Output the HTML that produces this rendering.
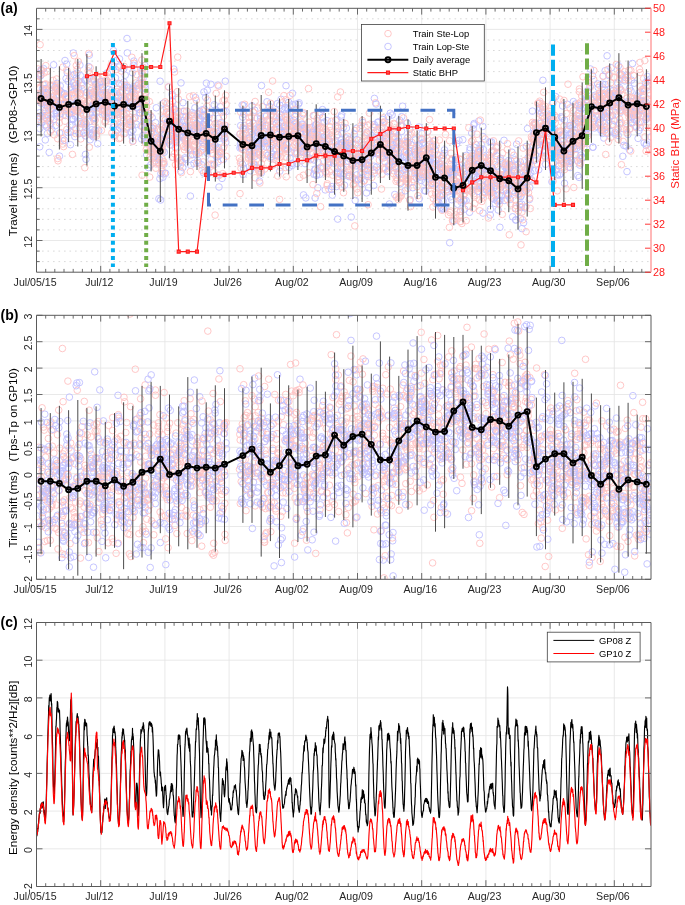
<!DOCTYPE html>
<html><head><meta charset="utf-8"><style>html,body{margin:0;padding:0;background:#fff;}svg{display:block;will-change:transform;}.r{marker:url(#mr);fill:none;stroke:none}.b{marker:url(#mb);fill:none;stroke:none}</style></head><body>
<svg width="685" height="905" viewBox="0 0 685 905" font-family="Liberation Sans, sans-serif">
<rect x="0" y="0" width="685" height="905" fill="#fff"/>
<defs>
<clipPath id="ca"><rect x="36.5" y="8.3" width="614.5" height="263.9"/></clipPath>
<clipPath id="cb"><rect x="36.5" y="315.3" width="614.5" height="263.99999999999994"/></clipPath>
<clipPath id="cc"><rect x="36.5" y="622.5" width="614.5" height="264.0"/></clipPath>
<marker id="mr" markerWidth="10" markerHeight="10" refX="5" refY="5" markerUnits="userSpaceOnUse" overflow="visible"><circle cx="5" cy="5" r="3.3" fill="none" stroke="#ffc4c4" stroke-width="0.95"/></marker>
<marker id="mb" markerWidth="10" markerHeight="10" refX="5" refY="5" markerUnits="userSpaceOnUse" overflow="visible"><circle cx="5" cy="5" r="3.3" fill="none" stroke="#c2c2ff" stroke-width="0.95"/></marker>
</defs>
<path d="M100.7 8.3V272.2M164.9 8.3V272.2M229.1 8.3V272.2M293.3 8.3V272.2M357.5 8.3V272.2M421.7 8.3V272.2M485.9 8.3V272.2M550.1 8.3V272.2M614.3 8.3V272.2M36.5 240.5H651M36.5 187.7H651M36.5 134.9H651M36.5 82.2H651M36.5 29.4H651" stroke="#e3e3e3" stroke-width="0.8" fill="none"/>
<path d="M36.5 261.6H651M36.5 251.1H651M36.5 229.9H651M36.5 219.4H651M36.5 208.8H651M36.5 198.3H651M36.5 177.2H651M36.5 166.6H651M36.5 156.1H651M36.5 145.5H651M36.5 124.4H651M36.5 113.8H651M36.5 103.3H651M36.5 92.7H651M36.5 71.6H651M36.5 61.1H651M36.5 50.5H651M36.5 40H651M36.5 18.8H651" stroke="#cfcfcf" stroke-width="0.8" stroke-dasharray="1.6 3.9" fill="none"/>
<g clip-path="url(#ca)">
<path class="b" d="M45.3 104.8m-1.1-8.4m-1.6-7.7m-0.8 33.7m-1.4-49m4.8 44m-4.6-20.3m0.2 5.8m-0.8 13.2m-1.3-42.2m0.8 38.9m3.2 2.6m2-7.9m-1.2-38.9m-3.8 78.2m3.7-54.4m-2.7-16.7m0.4 17.7m-1.4 35.1m2-58.4m1.4 14.6m-0.2 14.6m1.9-5.4m0.5 46m-4.2-70.1m-1.7 24.8"/>
<path class="r" d="M37.7 116.6m3.3-45.8m1.5 29.3m1.7-9.8m-0.7 28.7m-4.9-21m6.2 4.8m0.3-3.3m-6.6-5.9m2 6.3m-1.9-0.6m0.6 20m5-46.4m1.4 16.5m-8-7.1m7.5 42.5m-1-34.1m0.5-6.3m-3.5 9m2.7 2.3m-5.7-26.7m1.8 19.6m1.3 13.3m-0.2-27.3m-4.1 7.1m3.2-37"/>
<path class="b" d="M50.4 124.1m2.8-31m0.8 20.8m-2.3 15.5m-3.9-22m5.7-10.2m-5.9 17.7m-1.6-26.5m1.2 9.6m-1.3-3.4m0 5.3m1.5 33.5m1.8 19m-3.2-37m5.3-13.4m-5.3-9.6m6.7 8.1m0.9-35.7m-3.6 41.1m-3.4 20.9m7.1-7.2m-3.3-1.1m4.1-16.5m-8.7 23.1m1.2-19.5m-0.4-2.8"/>
<path class="r" d="M50.3 131.4m3.3-31.7m-3.2 24m-2.3-28.8m6.3 40m-0.6-30.6m-0.7-23.9m-6.9 18.1m4.7 10.2m-2 12.6m1.7-36m-4.7-1.3m1.4-12.6m5.7 13.8m-5 30.6m-2.2-50.2m6.8 37.3m-3.8 7.2m-1.7-19.2m5.1 10m-3.6-2.9m0.9 4.5m-2.8 15.7m4.5-28m-5.3 20.7m1.2-8.4"/>
<path class="b" d="M59.5 156.1m-2.5-53.9m0.1-18.9m4.3 8.7m-2.7 13.7m-0.1 1.6m2.9 0.8m-4.5 8.3m2.6-26m-2.8 20.5m6.9-6.5m-3.5-18.5m-1.5 8.9m3.5 10.6m-2.6 27.6m4.3-39m-8.9 8.9m7.6-4.2m-7.6-11.7m1.8 26.3m-1.3-10.8m0 23.1m1.1-36.8m5.2 9.8m-5.8 14.1m4.7 0.8"/>
<path class="r" d="M61.1 93.7m1.1 9.7m-5.3-8.4m0.9-4.1m-2.4 0m2.3 67.6m0-19.8m-0.5-51.5m5.7 56.8m-2.8-27.2m2.7 21.9m-4.5-36.4m-1.6-5.2m-0.9-9.4m1.8 1.5m5.5 18.1m-6.4-28.3m1.3 81.8m3-28.1m1.9-65.6m-3.6 55.9m-3.7-17.6m7.6 9.8m-0.6 25.7m-4.6-44m5.6 49.7"/>
<path class="b" d="M70.4 132m0.3-23.1m-3.4-36.1m1.5 41m4 5.6m-6.1-55.2m1.8 39.6m3.9 20.9m-0.9-5.4m-6.1-3.8m-0.8 24.7m5.4-14.9m-3.3-16.9m1.3 24.2m-3-72.1m-0.1 33.2m5.7 9.1m-0.1 41.9m2.6-35.2m-5-28.3m1.4 32.3m-1.1-16.5m2.1 34.9m2.3-39.2m-1.9-5.5m-4.8-8.7"/>
<path class="r" d="M65.3 97m-0.6 5.7m6.5 10.1m0-23.5m-2 16.8m3 6.2m0.3-22.8m-0.9 21.5m-1.4 1.5m-5.8-1.8m8.7-14.8m-6.9 13.8m-1.2 11.5m7.4-26.7m-6.1 2.2m-1.9 10.9m8.6-10.6m-6.1 32.4m5.5 25m-6.4-58.5m7-20m-6.6 21.7m0.4 7.8m6.2 7m-3-35.4m-3.2-6.8"/>
<path class="b" d="M76.9 73.1m-3.6-20.1m6.4 74.7m-6.4-44.9m6.6-17.7m-5.8 9.5m6.1 40.8m-5.3 21.2m-0.4-50.7m3.9 1.8m-3.3 28.4m2.5-15.1m1.6 3.1m-2.9-26m1.5 33.5m-3-7m5.6-29m0.7 47.9m-6.4-37.9m-1.4 33.6m8.8-34.1m-4.9 37.8m-1.2-34.6m5.6-5.5m-0.9 10.1m-1.5 40.7"/>
<path class="r" d="M76.1 129.1m0.2-63.6m2.2 15.7m-3.1 12.7m2.8 16.9m-2.3-4.2m1.8 4.4m2.8-17.2m1.4 29.2m-1.2 15.9m-6.5-83.2m7.2 43.8m0.1 24.4m-0.9-16.1m0.3-4.7m-3.7-33.6m2.5 25.5m2.3-6.1m-3.8-27.5m-1.4 30.6m-1.2 41.6m2.8-25.7m-2 2.2m4.4 2.8m-3.9-29.3m1.1 8.9"/>
<path class="b" d="M90.1 139.8m-2.9-8.5m2.5-38.2m-3.1-0.7m-1.7 29.4m0.9-16m-0.5 30m1.1-11.9m4.2 9.4m0.3-38.1m-7.6 14.5m2.5 17.4m3.9-13.2m-3.7 45.4m-0.5-4.9m3.2-87.8m0.5 42.7m0.1-54.2m-4.3 24.8m1 0.9m5.1 9.7m-7 42.5m-0.6-0.1m7.3-20.2m-1.5-34.5m0.7 43.3"/>
<path class="r" d="M88.3 70.9m-3.8 53.5m2.2-10.2m4 20.7m-5.8-31.1m2.2-1m-3.3 11.4m4.9-60.7m-2.9 42.3m4.4-28m1 26.1m-6.8 7.6m4.9 45.7m-3.8-24.6m-1.6-15m5.9-6.4m-5 66.5m4.7-93.9m-1.1 26.4m2.9-18.5m-1.6 12.6m-6.2 20.7m7.7 18.9m-7.8-0.8m1.2-24.2m1.8-3.3"/>
<path class="b" d="M94.1 96.9m5.9-1.1m-7.2 13.2m1 9.7m0-12.7m1.1 24.2m-2.8-0.5m6.6 0.9m-2.4-17.6m0.8-23.2m3.6-1.5m-6.3 29.6m2.6-33.8m3.6 8.1m-4.9-8.1m-3.2 33.7m0.2 15.2m-0.5-40.1m6.6 18.8m-5.7-6.6m4.6 38.7m-5.7-8.8m1.7-55.8m2.4 27.1m-2.7 30.5m4.4-49.8"/>
<path class="r" d="M97.3 76.2m-3.2 5m-0.1 10.2m4.8 5.1m1.7-12.3m-1.9 13.4m-3.6 4.3m-2.4 12.3m3.9 19.8m-3.7-36.9m4-1.8m-0.4 40.7m-0.8-47.6m3.1 19.7m-2.7-15.5m-4.4-3.8m5.4 40m3.6-47.2m-1.4-2.6m-4.9 42.6m2.9-45.1m-2.1 23.9m0.1 19.6m4.6-34.3m-3.8 17.1m1.3-25.4"/>
<path class="b" d="M102 95.7m-0.3 7.6m-0.5 2.6m7.4 10.1m-1.3-43.1m-5.6 28.7m4.8 4.3m-1.8 8.8m-0.3-5m0.6-28.7m2.7 31.5m-0.6-10.6m-6.1-7.8m5 5.9m0.4 1.8m-5.3-20.3m7.2 30.8m-5.8-24.9m4 7.3m3.2 5.3m-4.7 0.6m2.1 10.9m1.9-22.2m-1.7 7.6m-0.6 20.6m2.4 0.5"/>
<path class="r" d="M106.5 82.4m2-4.2m-0.3 14.4m-1 2.5m-1.5 21.4m-0.7 5.6m0.4-19.7m1.3-21.6m-1.3 40m1.6-24.8m-4.4 14.2m-1.2 20.3m4.1-37.8m-3.3 22.1m5-7.9m-4.4-13.6m-0.5 16.3m0.4-32.5m4.5 27.5m-0.8-4.5m-1.7 4.3m1.7-24.4m3.2-7.6m-3.3 40.2m-0.8-5.4m-1.5 1"/>
<path class="b" d="M112.9 81.9m5.4 15.4m-1.3-8.1m-3-22.2m0.2 34.6m-2.6 13.6m3.5-17.9m2.7 17.1m-2.3-36.5m-2.8-11.8m4.8 35.1m-5.8 4m1.1-4.4m1.1 35.3m3.6-6m-6.2-25m2 22.6m2.5-14.3m1.4-0.6m1.5-16.6m-7-5.9m4.6-29.8m-4.3 43.3m-0.9 5.3m2.4-58.4m0.7 73.5"/>
<path class="r" d="M112.1 95.7m-1.3-24.3m3.6 41.8m1-3m-3.5 22.7m6.8-23.4m-5.7-2m-2.3-13.7m3.7-1.2m3 18.6m-2.2-1.1m0.1 25m3.7 3.5m-6.2-25.9m2.4 8.3m1.6-29.3m1.5 22.4m-7.9-10.9m0.7-38m-0.9 45.6m7.4 7.8m-6.9-12.3m5-5.3m0.3-31.4m-0.3 62.6m-5.3-35.3"/>
<path class="b" d="M121 107.3m-1.1 20.7m5.3 5.1m-1.4-19.2m-0.1-45.1m1.8 30.7m-4.4 26.6m-0.8-19.3m3.7-24.8m-4 1.7m-0.2 9m2.1-8.3m1.5 36.7m4.1-23.3m-7.5 9.5m4.9-22.1m2.4-32.3m-5.1 47.4m-3.1-33.2m7.9-28.6m-3 48.5m2.3 3.5m-6.8-31.6m5.7 16.3m2.1 43.2m0-10.6"/>
<path class="r" d="M124.5 87.7m-0.7 38m-1.5-33.8m0.6 18.5m2.7-7.9m-4.2-31.5m-1 67m-0.9-54.4m7 1.8m-7.1 21.5m3.7 10.5m4 9.4m-3.2 7m-4.5-11m6.4-23m0.6 13.7m-4.6-23.6m0.3 20.4m4.1 18.8m-1.2-32.5m3.1 0.5m-4.1-30.8m2.7 34.7m-2.9 13.8m-1.6-16.8m2.8 3"/>
<path class="b" d="M136.6 124.3m-6.2-2.5m-2.1-34m5.9 30.1m-1.2-29.4m-3.6 14.2m3-30m0.6 68.3m-0.8-4m-2.5-41m-0.3 7.6m7.8 4.2m-3.8-1.7m-1.3 19.6m-1.9-19.5m3.7-45.1m-2.9 71.1m2.4-66.9m-2.9 36.7m2-12.2m0.8-3.1m1.8 14.3m-2.2 29.2m4.1-44.4m-3.3 6.1m3.4-2"/>
<path class="r" d="M131 96.5m1.8 22.6m-3.2 0.7m-0.8-22.3m3.8 43.9m3.1-58.4m1 25m-3.2-11.1m1.9-0.6m1.5-21.6m-5-17.4m-2.1 59.9m4.7-48.3m-2.5 22.4m-3.3 33.2m0.5-5.2m4.8-20.6m2 5.1m-6.2 4.6m6.2-6.3m-5.2 23m5.6-36.3m-2-25.4m0.5 29.9m2.5 10.6m-2.1 13.9"/>
<path class="b" d="M143 104.2m1.7-32.5m-6 12m3.3-13.4m2.8-4.9m-3.7 60.6m3.5 3.9m-3.5-51.3m0.5 60.4m1.3-3.5m-3.9-26.1m3.9-26m2.9 9.7m-8.1 10.5m6.2 17.9m1.7-8.7m-0.2-24.3m-2.4-10m-2.8 34.5m1.5-40m0.3 10.4m4.4 18.3m-6.8 11m3.2-45.5m2.5 17.2m-4.2 0.4"/>
<path class="r" d="M141.9 60m0.8 66.4m2.5-33.9m-1.5 15.8m-5.2-23.1m7.8 64.4m-3.7-75.6m2.3 22.8m-3.8-11.2m0.9-1.2m0.4 28.3m4.1-5.7m-3.9-22.6m3 38.2m0 20.7m-4-64.5m-0.8 20m0.8-26m-1 22.5m-0.8 6.2m3-19.2m-0.7 92.9m1.6-107.4m0.3 50.5m2.3-11.9m0-7.1"/>
<path class="b" d="M149.9 142.3m5.1 11.2m-2.8-10m0.8-15.2m-5.7 5.6m2.9-5.7m-3.5 12.6m4.2-9.8m4.4 26.5m-4.6 7.3m-3.6-21.7m6.9 14.8m-0.1-16.5m-5.4-3.1m-0.8-21.5m-0.8 4.3m6.8 28m-1.3 1.8m0.1-3.9m-5.7-24.3m0.7 12.7m8-12.8m-3.3-5m-3.8 49.9m-1.7-12.7m7.8-9.4"/>
<path class="r" d="M146.8 130.3m3.4 26.2m4 5.8m-2.6-9.9m-1.9 24.7m1.9-49.8m1.1 23.7m-1.7-2.5m3.4 0m-4.3-33.2m-0.8-13.8m5.1 39.3m-4.3 6.2m0.3-13.9m5.3 5.3m-4.1 20.1m1.9-32.3m2.1 34.7m-0.5-4.4m-4.5-19.5m3.7 7.4m-4 6.9m-1.9-37.7m3 19.5m-3.5-11.4m1.1 20.8"/>
<path class="b" d="M157 144.7m3.1-63.5m-3.8 26.6m7-4.6m-4.3 55.7m1.9-20.2m-0.3 61.3m2.3-22.8m-4.1-13.2m0.7-4.3m3.9-40.7m-4.5 79.8m5.6-57.9m-5.3 4.1m3.6 5.9m1.2 13.2m-0.6-20.2m-2-9.2m-0.7 4.9m-0.8 39m-3.2-26.7m4.2 21.6m-2.8-43.6m-1.1 12.7m7.3 9.6m-7.6-15.1"/>
<path class="r" d="M159.1 129.1m-1.7 24.8m4.7-13.4m0 6.5m1.1 16.3m-4.4-25.9m-1.8 11.9m5.2 9.8m-0.2-7.8m1.8 10.3m-8 6.6m0.7-16.3m5.5 19.4m-1.5-23.3m-1.7 14.6m3.2 0.7m-5.6-15.6m1.8-8.3m-2.2 24.5m5.6 4.8m0.4-24.1m2.4 28.4m-1.3-55.3m0.6-7.3m-1.7 16.7m-1.4 3"/>
<path class="b" d="M168.8 142m3.8-18.5m-7.7 10.9m1.4-26.3m1 16.1m5.1 12m-3.7-49.4m5.2 40.1m-1.6-11.2m-2.1 29.2m-4.6 28.4m3.5-49.3m3.5-22.6m-6.3 24.9m6.1-9m1.4-48.2m-4.2 60.8m2.8-14.4m-2.8 3.6m2.5-24.8m-2 45.9m3.9-31.2m-1.8 48.2m0.3-61.3m-5.3 26.5m3.4 13.6"/>
<path class="r" d="M173.1 106.9m-3.5-2.8m-2.7-0.8m0.5 31.1m1.8-19.8m1.7 12.3m-1 11.1m-4.7-36.2m6 43.2m1.8 12.3m-0.4-24.8m-6.2-20.5m2 2.3m-1 14.1m4.8-7.8m1.1 0.9m-4.9-34.5m3.6 20.7m-3.2 32.3m-3.4-20.2m-0.2 8.3m0.7-1.5m3.7-14.4m3.6 22.5m-0.9-6.3m-5.2-16.3"/>
<path class="b" d="M182.4 162.4m-5.4-22.8m5.9-22.9m-8.4-7.2m8.5-6.8m-8.5 34.9m3.4-5.8m-2.6 15.4m1.5-25.8m1.1-3.1m5 8.2m0.1 1.6m-2-45.2m-1.3 53.6m-4.7 4.6m6.8-10.7m0.4 4.1m-8-6.4m8.4 9.3m-2.4-13.6m-2.4 8.6m2.8 38.7m-6.2-46.3m1.7 17.9m4.2 17.8m2.5 7"/>
<path class="r" d="M177.4 147.6m-0.4 10.2m0.3-66.1m-2.7-19.7m2.9 46.4m3 46.6m-1.7-7.2m-3.1-19.6m2.8-26.6m-4.2 42.1m3.3-18.7m-2.6-18.2m8-5.6m-4.6-12m2.8 28.3m-2.2-11.5m3.6 19.9m-7.5-18m-0.3 23.5m6.6 19.1m-5.9 4.3m-1.3-44.1m5.7 4.8m-2.2-68.4m3.7 115.5m-4.2-49.1"/>
<path class="b" d="M189.2 128.4m-4.1 29.4m5.4-24.2m-5.5 6.9m0.8 18.7m3.4-10.6m1.2 47.5m-4.3-79.3m1.5 4.1m4.5-5.9m0.3-2.3m-4.2 31m-2.8-17.4m3.4 0.9m-4.2 11.3m2.6 9.2m-0.9-18.1m1.3 11.7m-4.3-4.7m2.6-6.5m5.9 4.2m-8.3-13.8m0.8-9.2m7.6 13.9m-1.8 24.9m0.7 15.2"/>
<path class="r" d="M190.4 171.6m-1.8-54.6m-1.4 26.5m2.5-46.8m-0.5 24.7m-4.9 8m2.5-18.3m5.4 14m-8.8 21.4m3.7-17.4m5.2 0.9m-4.9-10.7m-0.3 21.8m-2 6.1m1.4-2m3.9 5.5m-0.4-21.9m-3.5 11.9m1-2.5m-2.5 1.5m3.2-1m0.3 10.8m-1.7-8.9m3.7 14.5m-0.4-39.9m-5.7 34.5"/>
<path class="b" d="M199 114.1m0.5 18.9m0-6.6m-0.8 36.3m-6.2-8.1m4.2-3.8m1.1 9.7m-2.3-62.9m5.1 32.6m-6.6 33.2m2.3-9.1m-1.4-46.5m5.5 10.9m-0.1 33.5m-3.4-24.9m-0.3-4.1m2.5-1.3m0.7-10.4m-1.5 28m-1-8.2m-3.8-2.8m8 36.3m-1-24.2m-0.1-14.4m-5.4 4m4.1-11.1"/>
<path class="r" d="M193.1 136.1m5.4 16.7m-2.8-10.8m-0.1-16.8m-2.4 15.4m1.9-15.5m2.8-11.2m-4.9 2.4m2.3 35.5m-1.9-55.9m4.8 40.1m-4.7 10.8m5.4-3.8m-5.3-22.9m1.2 23.9m4.6-8.1m-2.6-10.5m1.8 1.3m-1.6 36.6m-0.7-63.1m-3 39.3m3.3-11.7m-2.2 16.9m6.3-29m-2.1 37.6m2.6-12.7"/>
<path class="b" d="M202.8 131.1m6.4-0.8m-5.3 6.4m0.9-14.1m0.8-25.2m-1.4 17.7m-0.7 16.6m0.1 41.1m2.8-89.7m-4.5 55.4m4.5-18m-3.9-4.9m6.7 26.6m-6.3 4.2m-0.2-3.9m4.5 10.5m0.1-62.6m0.1 79.7m-3.5-78.1m-1.8 17.9m1.4 14.8m5.2 3.6m-1.6-0.5m-2.6-18.6m-0.7 23.5m4.4 41"/>
<path class="r" d="M203.3 111m1.6 23m5.7 3.5m-4.8-9.4m-2.6 33.8m-1.2 8.4m8.7-23.3m-1.8-29.1m-1.4-17.8m2.7 64.1m-0.3-49.9m-5.4 24.3m2.5 7m1.8-23.2m-3.4 49.5m-2.8-36.6m-0.9 15m4.9-25.6m0.3-18.4m-1.2 32m3.3 10m-5.4-12.5m-0.7 13.4m6.2-1.8m0.3-15.8m-2 0.5"/>
<path class="b" d="M215 145.3m3.5-26.8m-1 38.1m-1.1-29.1m-3.1 13.6m-2.4-56.8m5.8 64.6m2.3 38.1m0.2-55.8m-5.7 15.9m4.8-11m-0.4 25.8m-1.9-52m-1.3 25.2m-0.3 29.4m0-27m2.6 19.5m1.5-9.4m0.7-9.3m-3.6-3.9m3.3 21.3m-0.5 19.3m-7.4-15.3m6.9-74.6m-4.9 33.1m1.2-13.4"/>
<path class="r" d="M213.2 164.8m3.2-32m-4.1 20.8m1.1-22m-0.2 10.8m4.3 11.7m1.3 21.6m-5.1-43.4m4.9 19.9m-1 2.3m-3.9-16.3m2.5-44.8m2.6-7.2m-7 78m4.3-13.9m-4.8-0.7m2.5 22.2m5.5-47.4m0.5 27.7m-9-11m0.7-0.8m1.2-7.4m2.6-9.2m-2.7 29.8m4.4-30.2m-1.9 91.8"/>
<path class="b" d="M222.4 132.9m-0.8-3.8m3.6 1.6m0.1-49.5m-4.4 41.5m1.6 12.9m3.6-24m-2 27.6m0.7-1.8m-1-25.9m0.7 13.6m-1.1 34.3m-1.2-33m3.5 16m-4.9 9.6m1.2 26.4m-1.4-71.6"/>
<path class="r" d="M220.1 153.7m3.8-7.2m-0.8 1.9m2-9.9m-0.6-38.4m-0.4 33.6m2-29.2m-0.6 21m-2.7-0.1m-0.7 1.5m4.2 29.4m-2.8-40.1m2.3-20.8m-3.1 78.3m0.3-72.9m-1.2 11.4m-0.8 47.5"/>
<path class="b" d="M240.4 144.2m2.3-27m-1.3 30.6m1.1 16.5m-2.5-16.3m3.7-19.4m-2.9 13.8m3.7 0m0.1-2.5m-1.5 34.5m-0.9-69.4m3.4 24.4m-1.8-15.2m-0.2 54.1m3-21.4m-0.3-1.4m-4.9 1.7m2.4-1.4m-0.2-40.1m1 19.9m0.9 7.8m-5.6 0.9m0.8-8.7"/>
<path class="r" d="M244.6 142.5m-0.8 7.4m-3.8 43.7m2.9-65.7m-0.8 8.2m0.4 13.3m4.4-10.6m-3-4.4m-3.7-0.6m7.2 8.3m-2.7-37.8m-1.9 37.8m0.6-2.1m-0.4-6.5m-2 34.8m-0.2-7.3m2-15.5m3.5-1.4m-5.6-31.9m-0.3 50.7m-0.9-4.6m7.8-12.2m-2.3-1m-1.8-3.7"/>
<path class="b" d="M253.8 150.9m0.1 13.7m-0.7-17.4m-2.4 9.7m-1.4-18.9m-0.3-11.4m3-20.7m0.3 28.2m-2.7 18.8m1.7-21.7m-1.1 39.5m6.3-27.1m-6.1 11.6m1.8-12.2m0.6 23.6m-1.9-16.2m3.3 14.5m0.4-8.4m1.7-14.7m-3.3-18.5m-0.2 22.3m1.8-35.4m-0.5 56.8m1.6-37m-6.4 36.7m5.6-16.4"/>
<path class="r" d="M249.4 148.9m0.8-19.1m-0.8 10.4m0.2-17m1.6 9.3m-2.1-10.2m0-4.9m-0.8 39.9m6.8-55.8m-7.3 39.3m3.7 24m2-9.5m-5-0.3m6.4-7.7m-3.6 15.5m-3.6-17.8m3.9 14.7m1.9-47.4m-2.1 4.4m3.7 61.1m-6.6-65.1m6.3 51.3m1.2-38m-5.2 0m1 28.2m-3.2 4.6"/>
<path class="b" d="M260.1 136.9m-2.1-3.9m1.4 10.1m3.7 0.3m-6.1-5m6.6 3.3m-3.9 26.4m2-24.5m-2.9-14.9m1.5-12.8m1.1 56.8m-1.6-28.5m2.3-7.9m0.2-10.6m-3.4 26.4m2.6-66.5m-0.5 54.2m-0.3-21.1m1.6 4m-2.9 58.4m-2.6-34.6m0.3-28.5m1.4 36.2m1.3-26.9m-1.9 9.1m3.9 9.7"/>
<path class="r" d="M263.1 158.5m-2.3-30.2m1.4-0.3m0.3 26.6m-2 17m4.2-2.6m-7.4-51.1m4.2 50.5m-1.6-35m1.4 30m1.1-56.7m-2.6 66.2m-0.7-1.6m6.4-31.7m-5.9 12m0.3 31.4m-3.2-29.7m1.2-45.2m0.8 60.8m2.6-12.5m0.3-35.3m3-5m-4.7 9.1m-2.6 22.4m1.2 23.2m1.4-15.9"/>
<path class="b" d="M265.9 146.9m0.2-21.3m0.5-9.7m7.3 21.1m-1.1 1m0.1 26.9m1.6-35.6m-5.9 8.8m-0.9 17.4m4.3-9.9m-2.9-8.2m2-22.5m-0.3 28.6m1.1 10.9m-2.3-47.8m0.9 50.3m-1-7.7m-0.9-16.9m-2.2 8.2m3.8-29.8m1.6 46.3m-1.2-29.9m2.7-11.4m-6.3-13.9m2.9 31m0.9 3.5"/>
<path class="r" d="M272 141.4m-5.4-12.8m4.5-1.7m0.8 12.7m-1.7-3.8m-3.9-15.4m0.1 33m6.2-72.4m1.4 30.3m-3.8 18.9m1.6 9.5m-5.8 3.3m7.4 7.8m-4.8-58.6m3 47.4m-1.9 7.6m2.1-16.5m-0.7-15.2m-2.1 3.7m1.6-15.9m-0.7 18.1m4.8 16.3m-2.1 27.5m-2.2-53.9m2.7 13.2m-2.7 33.9"/>
<path class="b" d="M283.8 140.2m-4-35m2.3 21.6m-2.3 44.4m-2.8-16.7m-0.6-31.2m0.9-19.6m2.5 10.5m-0.2 14.4m1.5-29.3m-3.8 56.5m2.3-11.6m2.4-35.4m1.7 37.1m-4.7-6.6m-1.1-18.1m2.1 0.8m4.1 9.1m-2.6-15.3m-5 33.2m4.7-18.2m-5.6 24.8m8.5-26.9m-4.2-11.3m1.5 31.4m2.5-21.8"/>
<path class="r" d="M281.8 139.4m-1.4 27.8m-1.4-19.8m2-12.7m-2.8 10.6m0.8 16.3m4.9-66m-4.4 56.1m-4-13.8m4.1 61.5m-2.2-66.9m0.6 23m-0.2 20.5m1.1-62.4m1.7 30.3m-0.2-2.7m-5.4-19.2m1.1-5.2m4.5 40.1m1.8-54.1m-0.8 47.7m-3.1-24.6m4.3 15.7m-6.1 16.5m6.6-24m-6.7-6.7"/>
<path class="b" d="M292.3 104.8m-1.5 7.2m2.1 24.7m-6.9-51m2.3 24m4.7 16.8m-8.8-17m6.7 22.3m1.5-38.5m-1.6 58.6m1.4-4.9m-6.6-10.9m6.5 27.3m-2.2-43.7m-4.8-12.2m-0.8 18.7m2.9-18m5 57.2m-1.6-27.8m-1.1-14.2m-0.8-21.1m-2.8 46.3m3.2 18.7m-1-17.9m-1.5-4.6m3.5 13.5"/>
<path class="r" d="M289.2 129.8m-4.5 19.4m3.5-18.5m-3.1 26.2m3.3-13.2m-2.8-26.2m5.3 14m-5.4 36m0.7 9.3m-0.1-77.2m-1 48.3m0.4-22.9m-1.2 23.7m3.9-13m-1.2-15m-1.3-4.4m3.4 21.7m-2.1 19.6m3-62.2m-2.9 23.7m0.6 6.1m-1.6 12.3m0.3 11.9m6-12m-5.1-17.5m2.3 6.5"/>
<path class="b" d="M295.1 138m-0.1-21.5m4.5 26.4m-1.2-38.7m-1.4 59.3m0.8-26.3m-3.9-16.8m2.8 6.3m-1.4 4.8m1.9 21.4m0.9-25.8m2.3 6.3m1.8-9.3m0.2 4.3m-7.9 2.6m6-3.2m-1.7-0.4m-3 26.4m6.3-5.7m-1.8-15.9m-4.6-28.1m6.3 27.3m-5.6-8.3m5.9 28.1m-2.9-9.8m-0.2-38.6"/>
<path class="r" d="M301.1 122.2m-5.7-8.3m-0.5 38m6.7 8.8m-0.6-29.3m-7.1-9m2.1 2m4.7 27.6m-2.5-6.6m4.2-7.1m-4.1-12.3m1.4 51.5m-4.9-48.9m0 15.7m-0.3-10.4m1.9 9m-1.8-33.6m0.3 28.2m6.9 20.7m-3.6-31.4m-3.6 5m1.9 21.9m4.9-8.3m-6.2-8.3m-1.5-2.4m1.3 10.3"/>
<path class="b" d="M304 128.3m2.7 23.9m-0.8-20.2m4.1-4.4m-7.2-2.7m0.5-11.1m5.8 29.6m-5.9 0.6m5.8 5.1m-4 14.5m-2-23.3m8.6-7.6m-7.4 17.5m0.8-22.4m6.5 8.3m-8.1 16.1m0.1 42.7m5-37.3m-2.7 40.3m5.3-39m-6.8-16.7m2.5 15.3m3.8-22.9m-6.7 11.2m2.1 3.8m4.2-10.2"/>
<path class="r" d="M303.5 112.7m-0.1 20.3m5.1-44.4m-4.7 44.3m2.5 25.3m1.2-9.9m-4.8 1.9m4-21.5m3.3 1.3m-7.5-14.9m7.9 44.7m-1.9 12.9m-5.6-46.2m5.9-4.4m1.4 20.4m-1.9-11.6m-4.6 17.5m3.1 4.6m4.7-6m-4.7-7.2m1.9 1.5m-0.3-13.1m-1.1 13m1.9-1.4m1.2 8.8m-7 26.6"/>
<path class="b" d="M317.1 131.8m-0.7 43.3m0.2-30.2m-3.6-12.9m4.1 20.4m1.6-13.2m-3.4 29.9m-0.2 28.9m4.7-57m-2.3 9.8m-5.8-16.6m6.1 53.6m-3.7-27.8m3.2-31.3m2.3 45.6m-4.2-34.1m-1.4-24.6m-0.1 58.5m4.4-11.6m0.3-26.8m-3.2-10.6m2.3 21.9m-3 23.1m4.7-32.1m-2.7 37.3m-0.2-51.3"/>
<path class="r" d="M317.6 170m-1.3-14.1m1-19.6m-0.5 3m-2.6 8.2m1.5-11.3m4.9 70.5m-4.1-64.4m-0.7 13.5m-2.5-40.2m4.5 26.5m0.1-16.3m-3.4 5.4m-1.5 53.4m1-47.6m4.9-8.7m1.9 11.9m-1.3-25.3m-2.9 39.4m4-41.6m-8.4 23.8m-0.4 2.9m5 54.1m1.1-71.4m2.3 5.5m-2.9-9.4"/>
<path class="b" d="M328 148.5m-2.7 41.4m4.2-28m-8.2-14.9m2.3-0.6m0.6 5.3m4.1-12.6m1 2.5m-2.1 8.1m1.3 12.3m-5.9-21m3.3 3.2m0.7-9.7m1.6 28.7m1.5-8.8m-6.4-17.2m-0.5 31.1m4.3-47.6m-0.4 11.2m-1 39.5m-1.6-49.3m4 33.6m-5.4-38.4m-1.5 49.6m1.3-57.3m5.1 49.5"/>
<path class="r" d="M322.5 141.8m-0.6 25.4m6.1-14.1m-5.8-2.1m4.9-9.6m-3.8 19.6m5.4 3.7m0.7 7.1m-4.2-22.2m3 9.5m-1.5 14.6m-1.9-18.1m4.4-21.5m-1.1 18.5m0.7 36.6m-6-44.4m2.8 27.5m1.5 13.2m-3.4-56.9m3.6 55.2m-0.2-37.7m-6 1.9m0.9-21m4.7 39.9m-1.1-37.5m-2.6 7.2"/>
<path class="b" d="M332.3 195.1m-0.8-5.9m5.7-42.4m-1.7-20.7m2.2 93m-2-64.3m2.2-20.2m-1.7 38.6m-0.6-11.5m2-34.9m-4 36.2m3.1-43.7m-0.9 38.1m-3.7 29.2m1.9-36m4.5-6.4m-4.8 8.2m4.4 1.6m-0.3 14.4m-1.3 18.1m-1.8-33.4m4.2 23.7m-3.7-34.9m2.9 30.6m0.6-16.4m-7.9-5.7"/>
<path class="r" d="M335.9 145.9m2.3-17.7m-1.3 34.8m1.8-3.7m-3.1 1.2m-3.8-13.4m5.8 33.1m-0.4-9m1.4 8.3m-8.4-52.8m4-15.1m-1.6 46.5m-2.4-27.3m1 25.4m6.5-59.3m-7.4 60.4m5.9-26m-5.4 4.7m-0.1 2.4m2.1 3.4m5 34.8m-6.2-55.3m3.9-0.9m0.3 26m1.8-11.4m-4.8 40.2"/>
<path class="b" d="M340.5 158m1.6-14.7m-0.6 23.7m3 18.2m1.1-42.4m1.3 14m-5.4-41.8m0.6 18.8m1.2 42.2m-1.2-33.4m1.2 26.1m-2.1-51.8m0.7 28.4m2 28.4m-3.7-0.1m3.9-21.9m-1.9 4.5m-0.4-16.9m4-1.4m-5.7 7m2.2 15.2m-0.1-12.6m3.7-1m-0.6-1m1.1-17.4m-3-0.7"/>
<path class="r" d="M346.4 156.8m-5 5.7m-0.7 4.6m6.8 5.1m0-35.9m-8 25.3m2.5 25.4m3-63.7m-5.1 28.8m1.4-26.5m-2 24.4m4.1-6.3m-2.3 8.1m6.4 3.2m-8.1 27.6m6.9-21.1m-3-7m-1.9 8.7m6.1-15.5m-2 6.1m-6.1-3.1m4.1 42m-3.1-100.7m0 69.5m0.6-13.2m0.7 5.3"/>
<path class="b" d="M349.3 175m-0.3-35.5m0.7 12.1m2.9 25.9m-0.4-22.7m0.6 10m2.5 35.7m0.7-34.7m-6.4-18.8m-1.2 14.3m7.2-17.1m-3.7 10m4.7-25.7m0.3 46.4m-8.6-26.7m1.1-2.6m7.5-5.9m-7.5 10.7m2.6-2.7m-2.9 28.9m6.7-16.2m-1.4-26.5m-4.2 25.2m1 58m1-52.1m-2.8-21.7"/>
<path class="r" d="M353.2 184.8m-2.3-15.2m5.7 11.2m-8-5.5m3.4-9.2m3-35.5m-6.1 9.6m0.6 4m-0.8 25.5m6.1 56.2m-1.2-75.9m-0.5 0m-0.4 8.7m3.3 4.6m0-4.7m-2.3-9.3m-0.2 13.6m3.4 26m-8-34.3m3.8-11.7m1 16.7m-1.3 17.9m1.1-22.9m0.5 29.2m1.7-4.8m-3.5-23.9"/>
<path class="b" d="M358.5 179.6m4.3-57.1m1 39m-3.1 17.2m1.1 5.1m-2.7-24.5m3.5 2.2m-4.3-4.5m7.8-2.3m-4.3 0.8m-0.3 4.1m5 33.3m-1.9-24.4m0.4-20m0.5 15.5m-0.2-15.1m-0.6 12.4m-6.5-3.9m2.9 14.6m0.3-20.5m2.3-0.9m-5.1 13.5m1.6-2.5m2.8 2m-0.1-7.4m0-11.2"/>
<path class="r" d="M365.8 153.9m-1.3 26.5m1.2-30.6m-5.7-21.2m-1.3 11.7m5.1 10.8m-2.8-25.7m-1.2 32.8m3.4 5.1m-3.7-4.8m3.8-13m-1.6 22.2m3.5-32.2m-2.5 31.6m-4.9-9.9m4.6-36.7m3.1 15.6m0.9-1.8m-8.7 58.4m3.4-18.1m-2-16.3m3.3-8.7m-2.9 1.1m4.2 30.4m-0.6-26.5m-1.8-12.5"/>
<path class="b" d="M370.5 156.4m3.6 9.8m0.1 3.8m1-27.1m0.6-11m-8.4 37.5m0.1-25.3m4.1 9.8m2.6-29.4m-0.1 3m0.2 45.7m-7.5-40.9m4.3 5.7m0.7 14.5m-5.1-4.6m0.8 16.8m6.2 20.8m-1.3-33.1m2-54m-4 53m2-15.6m-1.9 11.6m-2.7 29.1m-0.8-11.1m0.9 9.1m0.7 13.2"/>
<path class="r" d="M375.2 150.1m-0.9 1.6m0-12.2m-3 0.9m2.2 11.4m-3.6-9.3m-0.6-29.4m2.4 64.3m-4.8-44.3m2.2 29.6m4.9-19.4m-7.2 15.6m3.4-14.5m-2.7-19.1m-0.3 19.9m3.8 7.3m-3.3-12.5m7 30.3m-0.5-26.5m-4.3-19.6m0.8 43.5m-2.6 37m-0.8-32.8m8.3-69.1m-2.3 24.2m-5.6 41.6"/>
<path class="b" d="M383.4 149.6m-0.1-26.8m-0.3 13.1m-5.2 13.5m4.2-22.8m-2.1 18.7m0.9-7.8m-0.9 9.6m4.7-4.1m-8.2 10.7m-0.3-49.7m6.2 54.1m-4.9-15.7m-0.6 5.2m3.3-11.7m-1.7 18.4m6.3-10.6m-0.7 5.3m0.9-16.6m-6.4 20.3m0-30.7m-1.9 45.1m7.1-13.3m1.1 7.8m-2.1-42.1m-4.9 2.8"/>
<path class="r" d="M381.5 189m0.9-42m-5.3-17.4m3.2 13.3m-1.1-2.9m5-18.2m-0.5 31.9m0.4 13.8m0.2-9.9m-4.1-11.3m-1.8 1.3m1.1-17.7m4.8 11.4m-4.9 18.9m3.1-3.8m-0.4 17.7m-3.6-23.8m5.3 18.6m-2.6-40.9m-2.5 42.6m4.1-48m0.5-4.7m-3.6 36.5m4-5.9m-0.7-3.8m-0.2-11"/>
<path class="b" d="M390.7 161.1m-2.2 4.5m-0.1-49.1m1 87.5m-1.7-49.3m5.7-23.3m0.3 26.8m-8.5-19.7m8.1 6.4m-1.2-29.9m-4.5 40m-1.6-3.1m1.5 19.7m2.8-58.4m-1 53.4m0.5-15.7m0.2 7.2m-0.6-8.5m-2 4.9m4.5-8.2m1 15.1m-4.4-29.4m5.4 6.9m-8.8-3.3m8.7 18.3m-5.1 16.7"/>
<path class="r" d="M393.5 164.6m-3.7-39.2m0.5 3.4m0.1 32m1.8-13.1m1.4-5.5m-5 10.4m4.8 18.1m-2.5-36.2m2.9 2.5m-1.4 23.1m-5.9-21.5m0.9-6.5m-1.3 1.2m7.6-9.9m-1.5 32.8m-6.3-7.2m5.2 16.2m-5-13.2m7.3 21.6m-6.9-29.8m6.6 13.2m-4.4-16.6m3.6 1.9m1.3-5.2m-8.1 31.9"/>
<path class="b" d="M395 161.2m1.3 7.5m3.5-48.3m3.3 37m-4 17.1m-1.4-26.3m0.2 24.8m4.1 0.8m-7.3-42.5m1.9 10.8m2.4 16.1m-4.2 36.3m3.5-57.1m-3.3 29m7.6-60.2m-2.1 77.3m0.3-57.8m-2.7 15.5m-3.9 7.6m7.4-17.4m-0.4 12.5m-4.7 4.7m5.2-31.9m-3.3 39.6m-1.7-7.2m-0.3 10.4"/>
<path class="r" d="M395 159.3m-0.4-6.2m8.3 25.5m-4.5 21m1.7-2.8m-1.2 0.5m1.8-71.4m-2.6 24.7m3.1-6.2m1.5 25.7m-6.4-1.2m1.2 11.2m2.4 2.3m-5.2-32.7m1.4 31.6m0.3-47.8m4.9 62.3m-0.1-3.2m-5-15.1m-0.7-39.5m6-13.1m-4.8 42.5m2.7-24.5m-3.2 54.2m-1.9-73m8.5 46.4"/>
<path class="b" d="M404.6 152.2m1.9 29m1.2-43.6m0.7 26.1m-1.7-6.1m0.3-16m5.5 14.5m-2.8-26.8m-4.9 40.1m2.3-46.5m-1.9 67.9m1.6-24m-2.2-0.4m6.2-21.8m-2.2 17.8m0-9.3m-2.3 1.9m1.4 13m0.2-25m-3.1 2.6m5.4 22.4m-0.4-16.4m-3.5 22.9m1.4-32.1m2.5 57.3m-5.9-43.4"/>
<path class="r" d="M411.7 133m-2 23.9m-4.6-12.9m6.8 10.7m-5.4 27.1m3.2 18.3m-3.1-48.3m4.1 21.9m-4.2-22.5m-2.9-33.3m6.7 16.7m-2 44.2m-4.3-34.4m4.7 34.7m-0.8-35.7m2.7 63.2m-5.3-65.7m3.2 42.7m-2.8-15m0.5 9.5m-0.3 1.5m5.9-37.2m-5.8 10m0.4 25.5m5.6 4.3m-4.1 6.1"/>
<path class="b" d="M420.5 177m-5.1-37.1m2.7 33.2m1.1 25.6m-4.3-25.8m-2.1 14.8m6.9-14.6m-1.9-22.8m-2.2 4.1m2 18.9m-4.2-9m5.7-19.9m-4.2 5m0 2.6m6.3 28.4m-4.6-17.7m1.9 13.8m-1.1-10.8m0.4 5.1m1.3-43.8m-0.7 33.9m-2 2.9m5.2-2.8m-4.9 17.4m3.6-14.4m-1.4-18"/>
<path class="r" d="M417.9 195.7m-2.5-45.8m-1.9 12.7m5.5 3.3m-3.2 0.7m3.3-9.5m-2.5 7.1m3.3-1.1m-5.4-30.7m0.7 34.9m6.1 0.3m-2.7-16.7m3.1 25.1m-3.8-23m-4.5 12.8m2.8-18.2m5-9m-4.2 48.2m-2.5-10.8m0.6-11.7m4.4 7m-4.2-8.2m-0.4 7.4m-2-7.8m-0.3 3.7m0.8 13.2"/>
<path class="b" d="M427.8 131.3m1.3 33.1m-3.5 26.7m1.9-20.5m-5.2-31.1m6.9 17.7m0.4 12.3m0.7-10.9m-4.6 3.1m-3.9-7.1m0.3-20.9m2.9 33.8m-2.4-10.1m0.2 14.6m2.6 10.3m3.4-3.4m-0.5-19.5m-6.2-15.7m6.2 32.2m0.1-22.5m1.4-8.7m-5.4 45.8m-2-32.8m0.9-15.4m6.5 18.6m-7.1-9.4"/>
<path class="r" d="M428.9 185.5m-1.3-53.6m-2.2 18.5m-3.7-11.2m7.7 35.7m0.7-27.2m-7.6 23.6m4.2 3.9m0.5-36.7m-3.2 17.6m-0.9 17.1m1.9-17.2m4.6-15.1m-7.7 21.5m1.3 8.1m4.1-21.1m-2.1 18.8m4.4-14.1m-0.1-34.5m0.1 31.5m0 1m-6.5-0.7m1 3.5m-0.5 8.2m-1.9-6.5m5.7 10.5"/>
<path class="b" d="M433.5 158.2m-1.9 12.6m5 12.5m-4.3-31.1m6.4 49.9m0.6-21.1m0.7-14m-4.2 12.7m-3.8 3.9m0.3-23.8m7 13.6m-5.6-27.2m-2.2 36.9m7.7 5.7m0.4 6.5m-3.4 5.9m1.4-35.9m-2.2-15.4m2.1 24.1m2.1-11m-4.6 0.7m-1.2-22.4m3.9 52.1m1-17.9m-7-3.7m-0.6 3.4"/>
<path class="r" d="M434.8 140.1m1.7 24m-2 13.6m-2.9-8.6m4.5-23.3m-4.1 32.8m-0.1-9.4m5.3-14.8m-5.4 39.7m3.7-1.5m4-52.6m-6.9 4.2m-0.6 29.1m4 20.9m-4.6-20.3m5.7 26m-3.8-1.4m-1.8-13.1m1.4 21.6m5.8-26.3m-5.9 0.6m0.3 4.2m2.8 18.2m4.1-26.2m-8.4-30m0.9 7.4"/>
<path class="b" d="M444.6 153.1m-4.4 42.7m0.5-28.6m0.1 19.5m2.2-31.3m-1.6 53.4m2-7.6m2.9-14m-5.7 20.1m0.7-32.2m3.6-0.1m3.9-2.8m-2.7 13.5m-3.8 15m0.4-5.2m3.8-10.1m-2.8 24m0.8-59.5m1.7 40m-1.6-23.8m2.1 3.9m-6.2-1.9m0.6-0.8m0.5-8.7m-1.4 6m4.6 42.5"/>
<path class="r" d="M445.3 169m3.3 0.7m-1.7 4.8m-2.8-14.6m5.1 11.7m-0.7 43.1m-2.4-39.8m-2.6 8.3m-0.9 3.5m3-16.7m-3.5 40.3m-0.1-22.7m-0.1-29.2m1 12.1m4.1 19m-4.7 4.1m6.4-1.8m-8.5-36.4m3.8 21.6m1.5-42.6m-5.4 60.9m8.8-23.8m-8.5-4.9m0.9 16.3m1.1-15.9m4 3.4"/>
<path class="b" d="M451.8 184.1m6.1 0.6m-4.2-9.8m3.3-9.8m-5.7 11.7m5.9 9.8m-3.1 34.4m-1.5-46.9m-0.2-1.5m4.1 23.3m0.4-36.7m-5.2 40.5m-1.5-2.9m5.5-39.4m-6 85.3m2.9-67.7m3.6 8.5m-3.3-12.5m-0.7-11.8m2.3 9.1m2.1-24.4m-3.7 46.9m0.4-0.3m1.9-21.6m-4.6 2.6m7 32.7"/>
<path class="r" d="M456.9 184.9m-7.3-44.1m1.2 70.2m7.4-41.2m-1.4 41.5m-2-20.8m-3.6-20.1m5.1 48.3m-6.3-37.1m0.9-17.4m3.3 15.8m1.6 35m-3.3 5.6m-1.5-67.4m1.8 67.4m-1.6-59.9m-1.1 51.9m6.1-31.4m1.6 15.7m-5.5-38.2m-2.9 68.7m4.1-37.1m0.5-6.3m4.1-1.3m-8.8-14.2m3.7 11.1"/>
<path class="b" d="M466.8 182.9m-4.7 7.3m2-0.1m3.4-25.6m-3.4 36.4m-4.8-15.1m4 1m-3.9-21.7m3.8 10.9m3.1-20.6m-5.6 55.9m0.8-8.8m3.1 6.7m-1.6-29.2m-2.8-7.4m3.8-4.1m2.7 5.3m-3 25.8m1.9-16.4m-6.6-42.9m3.8-0.6m2.2 35.2m-6.6-7.3m8.4 22.3m-0.7 10.7m-3.7-14.2"/>
<path class="r" d="M461.9 223.5m0.3-35.9m-1.4 33.9m-1-29m0-33.1m6.7-2.3m-0.3 63.5m0.2-31.2m-1.6 4m-4.6 18m-0.6 3.9m1.3-28.5m5.2-0.4m-3.5-4.9m-3-22.3m2.1 14.1m5.6 17.4m-6.8 8.6m-1.4-29.6m-0.7 20.2m7.4-18.6m1.4 17.9m-7.1 32.3m-0.9-21.4m0.3-22.4m4 18"/>
<path class="b" d="M476.3 154.5m-4 12m-2.8 45.8m5.6-53.5m-5.4 15.4m4.4-27m-4.2 2.7m4.7 15m-4.4-3.8m6.4 18m-5.7-19.6m2.7 7.5m-3.4-19.3m4-24.2m0.2 60.5m2-17.2m-2.5-41.9m-5.7 42.3m7.3 18.4m-2.1-8.2m1.5-11.5m-3.2-32.9m-0.2 48.1m4.5-36.5m-2.5 26.5m-0.3-42.3"/>
<path class="r" d="M474.8 203.5m-3.3-62m-3 64.6m5.4-12.3m-2.4-37.7m2.2 11.8m-3.1 22.9m2.5 17.6m1.2-21.4m-5.6-22m5 16.3m-4.4-17.9m3.6-23.1m0.7 25.1m0.4 30.4m-1.2-27.2m-0.7 23.6m0.1-25.5m-3.4-39m3.4 33.8m3.1 9.6m-6-3.3m0.5-9.8m3.7-1.6m-3.9 10.2m6.8-21.7"/>
<path class="b" d="M482.8 186.1m-3.6-14.1m4.3-22.3m-1 8m0.5 55.4m-1.8-68.5m-3.3 20.1m1.9 12.6m3.4-10.9m-3.5-14.5m-1.9 0.9m1-31.7m5.7 47.8m-4.1 2.7m3.7 20.2m-6.3-14.9m2.6-27.9m-0.8 37.9m2.6-0.4m0.7-50m-0.3 58.6m1-16.1m-5.7 12.4m4.9-64.9m-5.7 30.7m1.2-5.4"/>
<path class="r" d="M477 134.2m1.8 16.1m6 42.8m-2.6-20.9m-5.1-4.4m2.5-17m0 59.9m-0.2-10.7m3.9-2.1m-4.6-42m6.7 1.2m-6.7-2.3m3.2 46.6m-3.2-43.5m6.9 11.3m-3.2 1m3.5 12.1m-0.7-43.3m-6.4 49.4m-1.9-25m3.1 24.1m3.4-25.8m-3.1-4.7m5.1 35.5m-5.1-72.4m-2.3 66.7"/>
<path class="b" d="M494.1 172.1m-4.8 19.4m-0.1-36.4m2.4 37m-1.2 17.1m1.8-36.1m-6 2.6m4.1 39.3m-4.2-49.8m5.1 7m-3.3 10.8m1.5-5.9m-3 12.1m1.2-22.8m6.2-14.7m-1.4 40.7m1.3-4.6m-1.3-19.6m-1-26.4m2.5 57.2m-2.7-13m-1.3-44.3m2.8 35.7m-4.4 4.3m-2.3-13m1.5-0.8"/>
<path class="r" d="M491.2 183.2m-0.7 6.8m-1.8-28.4m3.7-10.9m-2.5 33.9m-2 0.3m6.2-10.5m0.8-9.6m-8.4-2.7m3.5-3.4m3.4-17.9m-2.8 44.7m1.8-17.9m-2.7 24.6m-3.1-16.3m4.8-24.2m0 44.3m-2.9-5.6m3.6 7.6m-1.1-37.5m2-8.5m0.4 27.5m-4.7-2.2m0-19.3m-0.8 19.9m0.5 40.1"/>
<path class="b" d="M496.2 147.2m0.7 8.8m7.1-15.7m-8.9 63.1m1.5-14.2m5.2-12.8m-0.8 3m-2.8 30.6m4-40.5m-5.4 12.7m3.1 45.1m-2.4-49.4m6.7 5m-3.8 0.8m-0.4 16.8m1.2-5m-0.7-37.3m-0.4 2m1.8 35.7m-2.9 4.9m-1.6-34.8m-0.7 34.3m0.5-19.7m2 14.6m-3.9-9.7m1.9 15.4"/>
<path class="r" d="M502.6 152.9m-7.2 41.9m7.1-19.7m-7.2 5.3m5-3.1m2.4 2.7m0.3-5.2m-6.8-0.6m3.5 2.2m0.8 11.4m-3.7-39.9m2.6 29.9m-0.2 26.3m3.1 10.3m1.2-23.8m-0.3-5.4m-2.7-10.6m0.6 12m2-17m-7.3 7.3m-0.1-15.1m6.8 0.3m-2.6 21.9m-3.2-30.6m1.2-7.2m-1.4 37.3"/>
<path class="b" d="M510.4 199.3m-3.5-5.8m-1.4-28.4m2.6 18.1m3.8-31m-3.2 26.4m-1.8-4.4m1.9 11m-4.3 15.2m2.5-32.5m-0.8 22.1m0.8-13.5m-0.6-1.5m6.4 3.7m-7.7 0m7.1 12.3m-7.1-23.9m3.3 27.1m0.1-33.6m-0.2 35.2m2.9-17.3m-0.2-17.5m-1.1 3.6m-3.3 4.7m6 47.5m-4.2-48.4"/>
<path class="r" d="M508.4 174.2m4.2-8.5m-1.5 15.4m-0.9-6.9m-4.8-9.7m2.3 28.3m0.6-15.7m-0.5-12.9m-1.5-1m3.4 3.4m-2.4-17m2.8 30.8m-2.2-5.4m-3 9.2m0.2-4m4.2 54.6m1.2-31m-3-4.2m0-55.9m4.4 26.1m-1.6 11.5m1-8.6m-0.9 2.3m2.8-7.4m-3.3 12.5m1.6-2.9"/>
<path class="b" d="M521.6 167m-7-7.2m6.3 36.8m-5 23.2m-2-49.8m7.8 34.1m-6 4.2m-1.4-36.7m2.3-27.4m-0.5 41.7m4.2-23.9m-5.1 25m3.8 7m-1.1-19.2m2.8 21.6m-0.3 22.2m-6.3-33.4m1.6 34.9m4.1-15.6m-2-40.4m1.6 22.1m0.2-12.4m2.4 54.8m-6.7-36m5.9 14.9m-2.6-13.5"/>
<path class="r" d="M522.5 187.6m-8.9 4.3m5.8 3.3m-0.7-54.3m3 45.6m-6.1 2m2-13.3m4.4 17.4m-6.1 12.8m0.3-44.3m5.7 50.9m-0.9 32.9m-6.7-63.3m3.2 0.3m-0.4-1.4m-3.6-0.2m1.8 28.5m3.2 2.2m0.8-33.2m0.5 8.9m-5.9-31.4m8.4 36.1m-2.1-1.9m0.7 17.2m-1.6-38.3m-4 31.8"/>
<path class="b" d="M527.6 175.5m0.5-17.9m3 7.5m-5 25.4m2-26.2m-4.5 58.5m5.8-23.3m-2.3-31.8m-0.7-21.3m2.7 27.9m0.4-6.1m-6.7 13.5m7.9-29.9m-6.2 24.1m-1.7 9.4m3.7-9.3m-1.1-0.8m2.1-46.6m2.2 58.9m-0.3-8.2m1.3-6.6m-0.1-11.3m-1.3 7.8m2.4 10.7m-7.5 2.5m0.8 25.5"/>
<path class="r" d="M527.3 170.4m2.5 27.7m0.4-50.7m-1.7 45.2m-2.4 39.1m4-70m1.6-9.2m-1.5 5.6m-1.2 6.8m-3.2 41.8m4.5-46.7m0 48.5m-7.1-60.4m1.2 43.9m7.3-11.1m-0.3-44.1m-5.6 32.6m3.6-16.5m-6.7 66.9m3.4-34.2m1.2-9m-0.2 12.2m3.6-35.8m-6.1 7.6m-0.2 18.1m-0.3-11.5"/>
<path class="b" d="M534.1 132.5m3.3 10.4m-0.3-15.4m3.8 12.6m-3.4-12.4m-0.4 9.8m0.7 7.3m2.8-21.4m-0.9-20.3m-6.4 42.2m0.8-11.1m4.6 35.5m-3.3-14.7m3.9-24m-4.4 29.4m4.6-9.6m-7.1-39.7m7.2 23.9m0.5-27.2m0.7 24.5m-3.9 6.9m-2.5-15.6m4.3-12.8m-2.9 12.4m0.7 7.8m-2.2 39.8"/>
<path class="r" d="M532.6 147.3m8-25.6m-8.7 17.1m1.1-13.6m3.3 16m4.3-2.4m-6.1 0.1m3.3-35.5m-3.6 48.1m-0.1-10.1m-0.3-3.2m-0.5 0.9m-0.8-16.7m7.6-8.2m-0.7 15m-3.9-0.9m-3 25.1m5.1 10.7m2.1-62.9m-3.2 31.9m-0.8-8.8m-0.7 9.5m3.4-30.6m-3.8 19.7m5.3 18.9m-6.7 10.5"/>
<path class="b" d="M548.8 128.9m-3.4 21.9m-1.6 1.7m-0.4-7.6m6.4 1.4m-2.2-22.1m-3 26.7m-2.9-38.5m7.6 34.4m-6.4-66.5m2.1 75.7m4.7-40.2m0 40.1m-6.9-39.2m2.8 47.6m3.4-18.8m-3.7-21.1m1.3 4.2m2.2 4.5m-1.4-18.8m-0.2 17.3m-2.4-2.3m-2.6 14.8m6.8-27.4m-6.3-7.1m2.3 34.2"/>
<path class="r" d="M547.3 147m-1.1-31.6m-2.1 3.1m-1.8-2.6m6.7-4.5m-0.9 7.5m-5.6-12.9m2.2 19.3m0.6 31.7m-2-32.2m0-17.5m0.6 27.1m5.2 15.6m-3.9-43.6m-2.8 20m0 31.4m5.3-16m-6.4-8.4m3.4-2.3m-1-38.8m4.8 55m-6.5-43.3m5.6 53.4m0.8-28.2m-6.4 15.2m1.6-17.5"/>
<path class="b" d="M557.5 174.9m-4.6-72.1m-0.5 46.2m3.2-52.4m-5.1 24.8m0.8 4.8m6.2 25.9m-6.1-31.2m3.1 26.7m-2.6 34.2m-0.2-34.6m2.6-0.9m2.8 4.9m-4.3 20m0-39.4m4 17.7m2.4 10.9m-1-18m-5.9 26m4.7-32.4m-2.9-5.4m-3.6-11.3m5.6 50.2m0.1-33.5m-2.7-3.1m1.1-3.7"/>
<path class="r" d="M553.6 148.6m-0.6 32.7m2.9-41m-4.4-17.3m0.6 14.5m4.1 15m1.2 38.3m-3-75.5m4.4 29.5m-8.2 7.2m4.1-1.8m3.7 5.9m-4-11.7m-3.6-36.7m0.4 8.6m6.4 30.8m0.8-13.1m-4.4 1.6m1.2-12.6m3.5 43.1m-3.2-9.7m-1.6-36.6m4 34m-1-36.3m-1.2 29.8m-1.2 2.4"/>
<path class="b" d="M561.2 135.3m1.4-29.3m-1.9 49.1m6.2-9.8m-7 2.8m5.4 3.3m-5 6.2m7.9-29.5m-2.4 26.4m-5.2-2.3m3.8-0.9m2.6 9.6m0.2-56.7m1.2 57.1m-1.1-1.3m-5.8-43.2m5.7 12.4m-5-11.1m-1.6 55.5m-1.3-8m5.3-45.5m-0.1 63.2m-2.3-38.2m-2.8 29.9m4.1-40.1m-2 24.5"/>
<path class="r" d="M560.6 131.1m-0.9 19.3m-0.4-17.7m0.4-33.6m4.6 67.9m3-22.8m0 8.1m-4.4-10.7m1.6 28m-3.9-10.3m0.5 3.9m6.9-79m-4.4 70.5m-4.3-23.4m7.9 26.3m0.7-3.5m-3.9-53.7m2.4 59.9m-2.3-34.5m2.2-12.2m-0.2 75.2m2.3-21.7m-5.2-4.2m0.1-17.2m0.5 9m-2.4 4"/>
<path class="b" d="M576.5 148.4m-3.1-46.8m-3.7 52.4m0.7-28.5m-1.7 9.6m8.7 10.4m-5.8 4m-3.1-0.5m2.4-16m4.2-2.4m0.4-26.6m-6.2 34.2m0.3-12.7m6.1 29.1m-5.6 12.9m4.2-18.6m0.8-10.8m-6.2 0.7m2.4-4.2m-0.1 26m6.4 0.2m-8-3.3m8-17.1m-4.2-1.2m0.7-15.6m-4.4 40"/>
<path class="r" d="M572.8 142.5m-0.1-1.3m2.7-8.5m2.2 9.7m-4.2 4.2m0.5-4.2m-3.6-2.3m-1.2 22.7m6.5-29m-4.4 11m3.5-25.8m2.5 1.4m-1.1 35.1m-6.1-47.6m7.5-3m-6.7 48.8m3.4-12.3m2.8-25.8m-3.7-5m-3.8 42.9m0.6-5.2m-0.2-22m3.2 21.3m0.7 39.9m-0.6-54.7m-0.6-14.5"/>
<path class="b" d="M582.4 133.2m-1.3-24.3m5.6 10.9m-2.1 23.3m-4.4-37.8m3.6 2.2m-4.7 69.9m-0.8-56.1m4.9-2.5m-5.2 9.3m1.9 37m-0.4-46.7m-1.4-5m2.7 41.8m4.2-22.9m-4.3-4.8m5.8-30.4m-5.6 22m2.9 28.6m2.6-47.9m-6.8 8m2.6 50.3m-3.9-14.6m4 13.9m1.9-48.5m-6.4 66.7"/>
<path class="r" d="M583.8 134.8m-4.8-18.4m-1.3 5.7m1.6 11m0.6 10m2.1-17.8m1-48.5m-2.2 58.8m-1.4-43.9m2.3 4.2m-3.2 7.7m2 23.5m0.4 18.7m-0.7 17.5m-1.4-50.3m2.6 9m-3 17.9m0.6-2.4m7.8 11.6m-4.8-23m-0.2 18m-0.6-2.6m-1.1 17.4m-0.7-69.9m1.2 13m-1.8 60.4"/>
<path class="b" d="M588.1 127.9m-0.7-37m-0.4 8.5m0.6 0.3m3.1 10.3m1.2-3.1m-4.1 21.1m0.7 3.5m-0.5-16.7m3.7 2.2m1.2 30.3m1.5-23.1m-3.2-10.3m1.3-38.2m2 52.3m0.8-18m-5.5-23.5m-1.2 33.4m6.8-24.7m-6.8 38m4.3 13.9m0.3-41.2m2.5 20.7m-5.2-12.3m-0.1-45.3m-1.5 13.6"/>
<path class="r" d="M587.2 102.9m0.8-24.8m6.7 28.6m-6.5 17.1m0.4-1.6m2-23.7m-3 18.8m2.7-30.1m2 34.6m-4.6 14.1m0.9-30.5m5.3-8.3m-2.3 30.3m1.6-8.8m0.4-18.8m-5.2 9.9m2.1 16.9m-3-6.8m7.7-15.9m-2.4 23.1m0.9-47.5m-4.7 3m1.5 41.9m-3.3-7.3m8.2-1.4m-1.5-45.2"/>
<path class="b" d="M597.6 83.9m1 39.3m1.6-4m1.8 11.2m-0.9-21.5m1.5-12.4m0.5-20.4m-3.4 46.1m3.1-38.1m-4 31.9m3.8 17.4m-4.4-45.9m5.2 27.6m-2.4-14.8m-4.4-3.5m2.2 9.9m5.6 16.8m-2.6-7.9m1.9 1.8m-1.8-10.5m2.1-3.8m-3-2.4m2.8 37.3m-1.9-44.3m0.5-6.8m-1.6 43.2"/>
<path class="r" d="M600.9 123.9m-1.7-23.8m3.9-23.8m1.2 17.3m-7.5 17.3m7.9-12.1m-2.6 17.2m2.5 14.3m-4.7-34.2m-0.7-0.1m-3.1 14.9m6.8-1.5m-4.9-7.6m6.8-12.6m-2.7 40.2m-2.9-35.4m0.5-8.6m0.5 40m4.2-11.6m-3.3-2.7m-1.3-11.6m3.9 2.8m1 25m-4.9-23.7m-0.5-10.6m3.6 11.4"/>
<path class="b" d="M609.9 95.3m0.3-5.8m0.4 11.5m-0.9-7.4m1.3 12.6m-4 11.5m4.3-49.9m1.2 57m1-34.4m-2.5 25.6m1.7-11.4m-0.2 10.9m-7.3-44.8m0.1 13.8m9 8.5m-3.3 38.7m-5.4-15m2-13.6m-0.5 30.4m-0.1-7.5m-1.3-13m6.1-13.3m-2.5 11.6m-2.2-55.5m6.9 46.5m-5-26.7"/>
<path class="r" d="M613 100.6m0.3-6.6m-0.9 11.2m-2.7-10.2m1-12.2m-4.5 49.6m7.4-55.4m-8.2 52.5m-0.1-35m3.3 28m4.1 1.8m-3.4-49.8m-3.6 80m6.4-52.8m-1.2 35.6m-3-23.8m6.2-35.8m-3.6 28.8m-0.5-9.7m-2 7.7m0.5-12m-1.5 8.1m3.5 1.1m-2.5-32.3m2.6 46.7m-2.1 25.6"/>
<path class="b" d="M621.4 100.3m0.5-25.7m-6.5 32m-0.3 27.6m3.4-26m3.4-3.7m0.9 51.8m-4.6-57m-0.2-6.1m1.5 30.2m-3.5-28.9m1.4 0.8m-2.4 37.2m4.5-45m-5 33.1m3.3-37.5m2.6 29.2m-5.7-14.4m3.7-32.2m-0.2 69.7m4.6-29.2m-2.1 3.7m2.6 18.8m-2.6-39m-0.5-15.4m0.8 30.9"/>
<path class="r" d="M620 67.7m-3.7 36.5m2 24.8m-3.1-13.9m1.3-13.2m2.7-29.1m1 17.9m0.6-15.4m0.6 89.4m-1.8-45.5m-5.1-25.6m7.4 12.4m-5.4 24.9m3.2-51.2m2.3 31m-5.8 0.1m1.4-7.6m3.7 19.4m1.8 18.8m-2.9-30.6m-3.2-19.7m-0.5-2.3m-0.2-24.3m5.4 30m-3.4 44.9m2.8-49.5"/>
<path class="b" d="M630.3 114m-4.2-8.8m1.4-3.4m2-13.5m1.3 24m-0.9 16.5m0.9-27.1m-6.1 1.9m7.6 8.6m-6.7-34.6m5 23.9m-2.6-26.3m-1.7 32m3.2 42.8m1.6-27.2m-5.1 23.3m5-55.1m1.5-27.5m-0.2 40.5m-0.8-23.9m-4.5 91.5m-2.1-90.7m3 53.6m3.9-28.6m-7.9 39.5m3.8-42.3"/>
<path class="r" d="M630.7 151.1m-3.4-38.4m-0.9 17.2m2-49.5m3.6 36.6m-3 0.2m-0.5-3.9m-0.2-9.3m0.7-33.8m0.4 59.2m-3.2-5.6m0.7 8.9m3.9-62.2m-5.6 39.3m5.1-12m-4.5 28.2m1.9-16.5m-1.6-3.8m5.4 10.9m-3.1-25.1m-0.8-14.1m-0.7 21m3.4 20.8m0.3-4.4m-5.9-43.1m0.1 7.8"/>
<path class="b" d="M637.5 96m0.6 42.4m3-34.5m-7.5 12.2m-0.5-14.5m1.5 10.3m5.9 15.6m0.2-11.7m-0.3-23.7m-4.1 34.5m0.9-26.7m2.7 1.9m-5.5 17.8m4.5 10.9m-4.6-47.3m0.6 30.7m2.2 1.6m2.4-11.1m-4 4.6m3.3-15.9m1.5 28.4m-0.5-11.9m-7.1 13.1m5.7-8m-1.8 5.8m0.6-14.2"/>
<path class="r" d="M641.7 105m-1.1-4.7m-4.3 14.4m-2.8-39.2m6.6-3m-6.4 38.2m6.3-48.3m0.2 24.1m-0.6 22.2m1.8 13.7m-5.2-23.6m-1.8 16.2m-0.1-6.1m5.2-39.6m-6.8 28.7m6.3 8.2m1.9 2.1m-6.7-9.7m4.6 24.5m-2-16m1.4 7.8m-2.3-13.9m-1.8 7.1m6.8 7.5m-5.1 11.9m1.6-13.1"/>
<path class="b" d="M648 81m-3.9 19.9m1.8 18.7m-0.2-7.4m-1.9-23.8m4.5 22.2m-2.2 34.9m2.7-32.8m2.1 24.2m-3.5-60.4m-3.6 14.7m-1.9 18.9m0.8-8.4m5.8 11.8m-2 30.5m0.5-26m-1-16m-3.3 5.5m7-14.5m-3.3 24.2m-2.2 25.8m5.8-63.8m-4.4 3.4m1.8 31.2m0.5-28.3m-6 15.3"/>
<path class="r" d="M644 100.2m-1.6 8.6m3.7 42.3m4.7-23.3m-7.8-25.3m0.5-12.8m4.5 10m0.2 7.6m-2.3 20.4m3.8 22.1m-7.4-52.9m7.4-11m-7.6 3.7m4.1-3.3m-0.6 25.4m-1.2-4.4m3.5 7.9m0.8-4.2m-5.6-19.7m1.6-30.7m-1.1 18m4.9 39.2m1.9-22.5m-4.7 10.9m0.8 10.5m-1.5 20.2"/>
<path d="M41.1 59V136.4M50.3 67.8V136.4M59.4 66.3V149.5M68.6 67.8V142M77.8 59V146.5M86.9 54V165.5M96.1 66.3V140.7M105.3 78V127.6M114.5 59V145M123.6 63.4V143.6M132.8 70.7V142.2M142 53.2V143.6M151.1 110V171.4M160.3 101.4V202M169.5 84.4V158.2M178.7 88.2V170M187.8 100.8V165.5M197 101.4V170M206.2 94V177M215.3 95.5V181.6M224.5 90.3V168.4M242.9 105.7V183M252 102V188.9M261.2 95V176.6M270.4 100.8V171.4M279.5 98.4V176.6M288.7 99V174.3M297.9 100.8V170M307.1 110V183M316.2 104.3V183M325.4 113V180M334.6 108.6V194.7M343.8 118.9V191.8M352.9 123.2V199M362.1 116V202M371.3 111.6V194.7M380.4 105.7V183M389.6 116V180M398.8 116V202M408 119.4V210.7M417.1 130.5V199M426.3 123.2V194.7M435.5 136.4V218.6M444.6 140.7V212.2M453.8 145V225.3M463 152.4V222.4M472.2 126.1V210.7M481.3 127.6V202.9M490.5 139.3V209.3M499.7 140.7V215.1M508.8 149.5V212.2M518 146.5V229.7M527.2 140.7V216.6M536.4 101.4V162.6M545.5 87.3V170M554.7 95V180M563.9 99V202M573 102.8V180M582.2 82.4V188.9M591.4 69.3V142.8M600.6 80.9V136.4M609.7 63.4V142.2M618.9 53.2V143.6M628.1 60.5V149.5M637.2 72.8V136.4M646.4 69.3V143.6" stroke="#383838" stroke-width="0.9" fill="none"/>
<path d="M86.9 76.3L96.1 74L105.3 74L114.5 52.3L123.6 67L132.8 67L142 67L151.1 67L160.3 67L169.5 23.2L178.7 251.6L187.8 251.6L197 251.6L206.2 174.9L215.3 174.9L224.5 174.9L233.7 172.8L242.9 172.8L252 167.9L261.2 167.9L270.4 167.9L279.5 164L288.7 164L297.9 160.3L307.1 160.3L316.2 155.6L325.4 155.6L334.6 155.6L343.8 151L352.9 151L362.1 151L371.3 138.7L380.4 134L389.6 128.8L398.8 128.8L408 127L417.1 127L426.3 128.5L435.5 128.5L444.6 128.5L453.8 128.5L463 190.3L472.2 182.4L481.3 177.2L490.5 177.2L499.7 177.2L508.8 177.2L518 177.2L527.2 177.2L536.4 182.4L545.5 130L554.7 204.9L563.9 204.9L573 204.9" stroke="#ff1a1a" stroke-width="1.2" fill="none"/>
<path d="M85.4 74.8h3v3h-3zM94.6 72.5h3v3h-3zM103.8 72.5h3v3h-3zM113 50.8h3v3h-3zM122.1 65.5h3v3h-3zM131.3 65.5h3v3h-3zM140.5 65.5h3v3h-3zM149.6 65.5h3v3h-3zM158.8 65.5h3v3h-3zM168 21.7h3v3h-3zM177.2 250.1h3v3h-3zM186.3 250.1h3v3h-3zM195.5 250.1h3v3h-3zM204.7 173.4h3v3h-3zM213.8 173.4h3v3h-3zM223 173.4h3v3h-3zM232.2 171.3h3v3h-3zM241.4 171.3h3v3h-3zM250.5 166.4h3v3h-3zM259.7 166.4h3v3h-3zM268.9 166.4h3v3h-3zM278 162.5h3v3h-3zM287.2 162.5h3v3h-3zM296.4 158.8h3v3h-3zM305.6 158.8h3v3h-3zM314.7 154.1h3v3h-3zM323.9 154.1h3v3h-3zM333.1 154.1h3v3h-3zM342.2 149.5h3v3h-3zM351.4 149.5h3v3h-3zM360.6 149.5h3v3h-3zM369.8 137.2h3v3h-3zM378.9 132.5h3v3h-3zM388.1 127.3h3v3h-3zM397.3 127.3h3v3h-3zM406.5 125.5h3v3h-3zM415.6 125.5h3v3h-3zM424.8 127h3v3h-3zM434 127h3v3h-3zM443.1 127h3v3h-3zM452.3 127h3v3h-3zM461.5 188.8h3v3h-3zM470.7 180.9h3v3h-3zM479.8 175.7h3v3h-3zM489 175.7h3v3h-3zM498.2 175.7h3v3h-3zM507.3 175.7h3v3h-3zM516.5 175.7h3v3h-3zM525.7 175.7h3v3h-3zM534.9 180.9h3v3h-3zM544 128.5h3v3h-3zM553.2 203.4h3v3h-3zM562.4 203.4h3v3h-3zM571.5 203.4h3v3h-3z" stroke="#ff1a1a" stroke-width="1.1" fill="#ff5050"/>
<path d="M41.1 98.5L50.3 102L59.4 107.4L68.6 104.4L77.8 102.7L86.9 109.5L96.1 103.9L105.3 102.3L114.5 106L123.6 104.4L132.8 106.4L142 99L151.1 141.2L160.3 151.3L169.5 121.2L178.7 129.2L187.8 132.9L197 136.3L206.2 133.4L215.3 139.3L224.5 129L242.9 144.5L252 145.7L261.2 135.5L270.4 134.9L279.5 137.2L288.7 136.4L297.9 135.8L307.1 146.9L316.2 143.6L325.4 146.5L334.6 151.5L343.8 155.9L352.9 160.6L362.1 159.7L371.3 153L380.4 144.5L389.6 152.4L398.8 161.7L408 165.5L417.1 165.5L426.3 157.7L435.5 177.2L444.6 178L453.8 188.3L463 185.4L472.2 170.2L481.3 165.5L490.5 170.8L499.7 178.7L508.8 180.7L518 188.9L527.2 178L536.4 132.6L545.5 128.2L554.7 137.2L563.9 151L573 141.3L582.2 135.8L591.4 106.6L600.6 108.6L609.7 103L618.9 97.8L628.1 105.1L637.2 103.7L646.4 106.6" stroke="#000" stroke-width="2" fill="none" stroke-linejoin="round"/>
<path d="M38.6 98.5a2.5 2.5 0 1 0 5 0a2.5 2.5 0 1 0 -5 0M47.8 102a2.5 2.5 0 1 0 5 0a2.5 2.5 0 1 0 -5 0M56.9 107.4a2.5 2.5 0 1 0 5 0a2.5 2.5 0 1 0 -5 0M66.1 104.4a2.5 2.5 0 1 0 5 0a2.5 2.5 0 1 0 -5 0M75.3 102.7a2.5 2.5 0 1 0 5 0a2.5 2.5 0 1 0 -5 0M84.4 109.5a2.5 2.5 0 1 0 5 0a2.5 2.5 0 1 0 -5 0M93.6 103.9a2.5 2.5 0 1 0 5 0a2.5 2.5 0 1 0 -5 0M102.8 102.3a2.5 2.5 0 1 0 5 0a2.5 2.5 0 1 0 -5 0M112 106a2.5 2.5 0 1 0 5 0a2.5 2.5 0 1 0 -5 0M121.1 104.4a2.5 2.5 0 1 0 5 0a2.5 2.5 0 1 0 -5 0M130.3 106.4a2.5 2.5 0 1 0 5 0a2.5 2.5 0 1 0 -5 0M139.5 99a2.5 2.5 0 1 0 5 0a2.5 2.5 0 1 0 -5 0M148.6 141.2a2.5 2.5 0 1 0 5 0a2.5 2.5 0 1 0 -5 0M157.8 151.3a2.5 2.5 0 1 0 5 0a2.5 2.5 0 1 0 -5 0M167 121.2a2.5 2.5 0 1 0 5 0a2.5 2.5 0 1 0 -5 0M176.2 129.2a2.5 2.5 0 1 0 5 0a2.5 2.5 0 1 0 -5 0M185.3 132.9a2.5 2.5 0 1 0 5 0a2.5 2.5 0 1 0 -5 0M194.5 136.3a2.5 2.5 0 1 0 5 0a2.5 2.5 0 1 0 -5 0M203.7 133.4a2.5 2.5 0 1 0 5 0a2.5 2.5 0 1 0 -5 0M212.8 139.3a2.5 2.5 0 1 0 5 0a2.5 2.5 0 1 0 -5 0M222 129a2.5 2.5 0 1 0 5 0a2.5 2.5 0 1 0 -5 0M240.4 144.5a2.5 2.5 0 1 0 5 0a2.5 2.5 0 1 0 -5 0M249.5 145.7a2.5 2.5 0 1 0 5 0a2.5 2.5 0 1 0 -5 0M258.7 135.5a2.5 2.5 0 1 0 5 0a2.5 2.5 0 1 0 -5 0M267.9 134.9a2.5 2.5 0 1 0 5 0a2.5 2.5 0 1 0 -5 0M277 137.2a2.5 2.5 0 1 0 5 0a2.5 2.5 0 1 0 -5 0M286.2 136.4a2.5 2.5 0 1 0 5 0a2.5 2.5 0 1 0 -5 0M295.4 135.8a2.5 2.5 0 1 0 5 0a2.5 2.5 0 1 0 -5 0M304.6 146.9a2.5 2.5 0 1 0 5 0a2.5 2.5 0 1 0 -5 0M313.7 143.6a2.5 2.5 0 1 0 5 0a2.5 2.5 0 1 0 -5 0M322.9 146.5a2.5 2.5 0 1 0 5 0a2.5 2.5 0 1 0 -5 0M332.1 151.5a2.5 2.5 0 1 0 5 0a2.5 2.5 0 1 0 -5 0M341.2 155.9a2.5 2.5 0 1 0 5 0a2.5 2.5 0 1 0 -5 0M350.4 160.6a2.5 2.5 0 1 0 5 0a2.5 2.5 0 1 0 -5 0M359.6 159.7a2.5 2.5 0 1 0 5 0a2.5 2.5 0 1 0 -5 0M368.8 153a2.5 2.5 0 1 0 5 0a2.5 2.5 0 1 0 -5 0M377.9 144.5a2.5 2.5 0 1 0 5 0a2.5 2.5 0 1 0 -5 0M387.1 152.4a2.5 2.5 0 1 0 5 0a2.5 2.5 0 1 0 -5 0M396.3 161.7a2.5 2.5 0 1 0 5 0a2.5 2.5 0 1 0 -5 0M405.5 165.5a2.5 2.5 0 1 0 5 0a2.5 2.5 0 1 0 -5 0M414.6 165.5a2.5 2.5 0 1 0 5 0a2.5 2.5 0 1 0 -5 0M423.8 157.7a2.5 2.5 0 1 0 5 0a2.5 2.5 0 1 0 -5 0M433 177.2a2.5 2.5 0 1 0 5 0a2.5 2.5 0 1 0 -5 0M442.1 178a2.5 2.5 0 1 0 5 0a2.5 2.5 0 1 0 -5 0M451.3 188.3a2.5 2.5 0 1 0 5 0a2.5 2.5 0 1 0 -5 0M460.5 185.4a2.5 2.5 0 1 0 5 0a2.5 2.5 0 1 0 -5 0M469.7 170.2a2.5 2.5 0 1 0 5 0a2.5 2.5 0 1 0 -5 0M478.8 165.5a2.5 2.5 0 1 0 5 0a2.5 2.5 0 1 0 -5 0M488 170.8a2.5 2.5 0 1 0 5 0a2.5 2.5 0 1 0 -5 0M497.2 178.7a2.5 2.5 0 1 0 5 0a2.5 2.5 0 1 0 -5 0M506.3 180.7a2.5 2.5 0 1 0 5 0a2.5 2.5 0 1 0 -5 0M515.5 188.9a2.5 2.5 0 1 0 5 0a2.5 2.5 0 1 0 -5 0M524.7 178a2.5 2.5 0 1 0 5 0a2.5 2.5 0 1 0 -5 0M533.9 132.6a2.5 2.5 0 1 0 5 0a2.5 2.5 0 1 0 -5 0M543 128.2a2.5 2.5 0 1 0 5 0a2.5 2.5 0 1 0 -5 0M552.2 137.2a2.5 2.5 0 1 0 5 0a2.5 2.5 0 1 0 -5 0M561.4 151a2.5 2.5 0 1 0 5 0a2.5 2.5 0 1 0 -5 0M570.5 141.3a2.5 2.5 0 1 0 5 0a2.5 2.5 0 1 0 -5 0M579.7 135.8a2.5 2.5 0 1 0 5 0a2.5 2.5 0 1 0 -5 0M588.9 106.6a2.5 2.5 0 1 0 5 0a2.5 2.5 0 1 0 -5 0M598.1 108.6a2.5 2.5 0 1 0 5 0a2.5 2.5 0 1 0 -5 0M607.2 103a2.5 2.5 0 1 0 5 0a2.5 2.5 0 1 0 -5 0M616.4 97.8a2.5 2.5 0 1 0 5 0a2.5 2.5 0 1 0 -5 0M625.6 105.1a2.5 2.5 0 1 0 5 0a2.5 2.5 0 1 0 -5 0M634.7 103.7a2.5 2.5 0 1 0 5 0a2.5 2.5 0 1 0 -5 0M643.9 106.6a2.5 2.5 0 1 0 5 0a2.5 2.5 0 1 0 -5 0" stroke="#000" stroke-width="1.9" fill="none"/>
<path d="M208.5 110.2H453.8V205.1H208.5Z" stroke="#4472c4" stroke-width="3" fill="none" stroke-dasharray="14.8 11.7"/>
<path d="M112.9 43.1V267" stroke="#00aeef" stroke-width="4" stroke-dasharray="4 3.6" fill="none"/>
<path d="M146.2 43.1V267" stroke="#70ad47" stroke-width="4" stroke-dasharray="4 3.6" fill="none"/>
<path d="M553 44.6V267" stroke="#00aeef" stroke-width="4" stroke-dasharray="11.2 3.9" fill="none"/>
<path d="M587 43.3V266" stroke="#70ad47" stroke-width="4" stroke-dasharray="11.2 3.9" fill="none"/>
</g>
<rect x="361.5" y="24.4" width="122.8" height="56.6" fill="#fff" stroke="#404040" stroke-width="0.8"/>
<circle cx="388" cy="33.6" r="3.3" fill="none" stroke="#ffc4c4" stroke-width="0.95"/>
<circle cx="388" cy="46.5" r="3.3" fill="none" stroke="#c2c2ff" stroke-width="0.95"/>
<path d="M367.4 59.7H408.3" stroke="#000" stroke-width="2"/>
<circle cx="388" cy="59.7" r="2.5" fill="none" stroke="#000" stroke-width="1.9"/>
<path d="M367.4 72.6H408.3" stroke="#ff1a1a" stroke-width="1.2"/>
<path d="M386.5 71.1h3v3h-3z" stroke="#ff1a1a" stroke-width="1.1" fill="#ff5050"/>
<text x="412.8" y="37" font-size="9.4" fill="#000">Train Ste-Lop</text>
<text x="412.8" y="49.9" font-size="9.4" fill="#000">Train Lop-Ste</text>
<text x="412.8" y="62.9" font-size="9.4" fill="#000">Daily average</text>
<text x="412.8" y="75.8" font-size="9.4" fill="#000">Static BHP</text>
<path d="M45.7 272.2v-3.3M45.7 8.3v3.3M54.8 272.2v-3.3M54.8 8.3v3.3M64 272.2v-3.3M64 8.3v3.3M73.2 272.2v-3.3M73.2 8.3v3.3M82.4 272.2v-3.3M82.4 8.3v3.3M91.5 272.2v-3.3M91.5 8.3v3.3M100.7 272.2v-6.3M100.7 8.3v6.3M109.9 272.2v-3.3M109.9 8.3v3.3M119 272.2v-3.3M119 8.3v3.3M128.2 272.2v-3.3M128.2 8.3v3.3M137.4 272.2v-3.3M137.4 8.3v3.3M146.6 272.2v-3.3M146.6 8.3v3.3M155.7 272.2v-3.3M155.7 8.3v3.3M164.9 272.2v-6.3M164.9 8.3v6.3M174.1 272.2v-3.3M174.1 8.3v3.3M183.2 272.2v-3.3M183.2 8.3v3.3M192.4 272.2v-3.3M192.4 8.3v3.3M201.6 272.2v-3.3M201.6 8.3v3.3M210.8 272.2v-3.3M210.8 8.3v3.3M219.9 272.2v-3.3M219.9 8.3v3.3M229.1 272.2v-6.3M229.1 8.3v6.3M238.3 272.2v-3.3M238.3 8.3v3.3M247.4 272.2v-3.3M247.4 8.3v3.3M256.6 272.2v-3.3M256.6 8.3v3.3M265.8 272.2v-3.3M265.8 8.3v3.3M275 272.2v-3.3M275 8.3v3.3M284.1 272.2v-3.3M284.1 8.3v3.3M293.3 272.2v-6.3M293.3 8.3v6.3M302.5 272.2v-3.3M302.5 8.3v3.3M311.6 272.2v-3.3M311.6 8.3v3.3M320.8 272.2v-3.3M320.8 8.3v3.3M330 272.2v-3.3M330 8.3v3.3M339.2 272.2v-3.3M339.2 8.3v3.3M348.3 272.2v-3.3M348.3 8.3v3.3M357.5 272.2v-6.3M357.5 8.3v6.3M366.7 272.2v-3.3M366.7 8.3v3.3M375.9 272.2v-3.3M375.9 8.3v3.3M385 272.2v-3.3M385 8.3v3.3M394.2 272.2v-3.3M394.2 8.3v3.3M403.4 272.2v-3.3M403.4 8.3v3.3M412.5 272.2v-3.3M412.5 8.3v3.3M421.7 272.2v-6.3M421.7 8.3v6.3M430.9 272.2v-3.3M430.9 8.3v3.3M440.1 272.2v-3.3M440.1 8.3v3.3M449.2 272.2v-3.3M449.2 8.3v3.3M458.4 272.2v-3.3M458.4 8.3v3.3M467.6 272.2v-3.3M467.6 8.3v3.3M476.7 272.2v-3.3M476.7 8.3v3.3M485.9 272.2v-6.3M485.9 8.3v6.3M495.1 272.2v-3.3M495.1 8.3v3.3M504.3 272.2v-3.3M504.3 8.3v3.3M513.4 272.2v-3.3M513.4 8.3v3.3M522.6 272.2v-3.3M522.6 8.3v3.3M531.8 272.2v-3.3M531.8 8.3v3.3M540.9 272.2v-3.3M540.9 8.3v3.3M550.1 272.2v-6.3M550.1 8.3v6.3M559.3 272.2v-3.3M559.3 8.3v3.3M568.5 272.2v-3.3M568.5 8.3v3.3M577.6 272.2v-3.3M577.6 8.3v3.3M586.8 272.2v-3.3M586.8 8.3v3.3M596 272.2v-3.3M596 8.3v3.3M605.1 272.2v-3.3M605.1 8.3v3.3M614.3 272.2v-6.3M614.3 8.3v6.3M623.5 272.2v-3.3M623.5 8.3v3.3M632.7 272.2v-3.3M632.7 8.3v3.3M641.8 272.2v-3.3M641.8 8.3v3.3M36.5 240.5h6M36.5 187.7h6M36.5 134.9h6M36.5 82.2h6M36.5 29.4h6M36.5 261.6h3.2M36.5 251.1h3.2M36.5 229.9h3.2M36.5 219.4h3.2M36.5 208.8h3.2M36.5 198.3h3.2M36.5 177.2h3.2M36.5 166.6h3.2M36.5 156.1h3.2M36.5 145.5h3.2M36.5 124.4h3.2M36.5 113.8h3.2M36.5 103.3h3.2M36.5 92.7h3.2M36.5 71.6h3.2M36.5 61.1h3.2M36.5 50.5h3.2M36.5 40h3.2M36.5 18.8h3.2" stroke="#5a5a5a" stroke-width="0.9" fill="none"/>
<path d="M651 8.3V8.3H36.5M36.5 272.2H651" stroke="#5a5a5a" stroke-width="1" fill="none"/>
<path d="M36.5 8.3V272.2" stroke="#5a5a5a" stroke-width="1" fill="none"/>
<path d="M651 272.2h-6M651 248.2h-6M651 224.2h-6M651 200.2h-6M651 176.2h-6M651 152.2h-6M651 128.2h-6M651 104.2h-6M651 80.2h-6M651 56.2h-6M651 32.2h-6M651 8.2h-6" stroke="#ff2020" stroke-width="0.9" fill="none"/>
<path d="M651 8.3V272.2" stroke="#ff9a9a" stroke-width="1.4" fill="none"/>
<text x="653" y="276.1" font-size="10.8" fill="#ff1a1a">28</text>
<text x="653" y="252.1" font-size="10.8" fill="#ff1a1a">30</text>
<text x="653" y="228.1" font-size="10.8" fill="#ff1a1a">32</text>
<text x="653" y="204.1" font-size="10.8" fill="#ff1a1a">34</text>
<text x="653" y="180.1" font-size="10.8" fill="#ff1a1a">36</text>
<text x="653" y="156.1" font-size="10.8" fill="#ff1a1a">38</text>
<text x="653" y="132.1" font-size="10.8" fill="#ff1a1a">40</text>
<text x="653" y="108.1" font-size="10.8" fill="#ff1a1a">42</text>
<text x="653" y="84.1" font-size="10.8" fill="#ff1a1a">44</text>
<text x="653" y="60.1" font-size="10.8" fill="#ff1a1a">46</text>
<text x="653" y="36.1" font-size="10.8" fill="#ff1a1a">48</text>
<text x="653" y="12.1" font-size="10.8" fill="#ff1a1a">50</text>
<text transform="translate(679.2 143.5) rotate(-90)" font-size="11.6" text-anchor="middle" fill="#ff1a1a">Static BHP (MPa)</text>
<text x="35.1" y="286.2" font-size="10.6" text-anchor="middle" fill="#262626">Jul/05/15</text>
<text x="99.3" y="286.2" font-size="10.6" text-anchor="middle" fill="#262626">Jul/12</text>
<text x="163.5" y="286.2" font-size="10.6" text-anchor="middle" fill="#262626">Jul/19</text>
<text x="227.7" y="286.2" font-size="10.6" text-anchor="middle" fill="#262626">Jul/26</text>
<text x="291.9" y="286.2" font-size="10.6" text-anchor="middle" fill="#262626">Aug/02</text>
<text x="356.1" y="286.2" font-size="10.6" text-anchor="middle" fill="#262626">Aug/09</text>
<text x="420.3" y="286.2" font-size="10.6" text-anchor="middle" fill="#262626">Aug/16</text>
<text x="484.5" y="286.2" font-size="10.6" text-anchor="middle" fill="#262626">Aug/23</text>
<text x="548.7" y="286.2" font-size="10.6" text-anchor="middle" fill="#262626">Aug/30</text>
<text x="612.9" y="286.2" font-size="10.6" text-anchor="middle" fill="#262626">Sep/06</text>
<text transform="translate(31.8 241.8) rotate(-90)" font-size="10.6" text-anchor="middle" fill="#262626">12</text>
<text transform="translate(31.8 189) rotate(-90)" font-size="10.6" text-anchor="middle" fill="#262626">12.5</text>
<text transform="translate(31.8 136.2) rotate(-90)" font-size="10.6" text-anchor="middle" fill="#262626">13</text>
<text transform="translate(31.8 83.5) rotate(-90)" font-size="10.6" text-anchor="middle" fill="#262626">13.5</text>
<text transform="translate(31.8 30.7) rotate(-90)" font-size="10.6" text-anchor="middle" fill="#262626">14</text>
<text transform="translate(16.7 150.9) rotate(-90)" font-size="11.6" text-anchor="middle" fill="#000" xml:space="preserve">Travel time (ms)   (GP08-&gt;GP10)</text>
<text x="0.5" y="12.8" font-size="14" font-weight="bold" fill="#000">(a)</text>
<path d="M100.7 315.3V579.3M164.9 315.3V579.3M229.1 315.3V579.3M293.3 315.3V579.3M357.5 315.3V579.3M421.7 315.3V579.3M485.9 315.3V579.3M550.1 315.3V579.3M614.3 315.3V579.3M36.5 552.9H651M36.5 526.5H651M36.5 500.1H651M36.5 473.7H651M36.5 447.3H651M36.5 420.9H651M36.5 394.5H651M36.5 368.1H651M36.5 341.7H651" stroke="#e3e3e3" stroke-width="0.8" fill="none"/>
<g clip-path="url(#cb)">
<path class="r" d="M38.7 447.3m3.5 24m-5.6 24.3m9-38.5m-1.4-27m-1.9 58.4m-1-10.6m2.2-50.8m-4.2 125.3m3.8-57.6m-0.1 17.8m-2.4-49.1m4 33.1m0.8-4.8m-3.2-24.5m-2.5 54.7m2.2 4.1m2.5-76.1m-1.7 68.1m2.1 23.4m-1.8-44.2m-3.9 50.3m5.2-51.4m-4-16.3m-1.1 9.7m2.9-81.8"/>
<path class="b" d="M38.7 510m-1.6-7m7.8-3.3m-3.5-77.6m-3.3 78.7m6-4.6m-0.3-4.7m-0.6 18.4m1.4 12.7m-3.5-16m-0.3 46.3m0.7-26.9m3.3-111.8m-3.6 33.6m0.8 13.5m2 28.4m-7.1-29.5m3.9-0.4m4.8 33.2m-3.3 23m-2.5-35.7m5-31.1m-7.7 39.9m1.6 53.2m-0.6-71.8m6.6 12.9"/>
<path class="r" d="M52.3 446.2m-2 94.1m-1.8-19.8m-1-19m3.8-15.8m-2.8 2.6m5.4-35.2m-2.3 53.3m-0.8-84.5m-1.2 3.5m-1.7 25.3m1.6 23.4m2 2.8m-0.1-46.5m0.8 60.7m-6.3 36.7m2.1-28.8m3.1-32.5m-2 42.5m-0.7-70.5m2.5 82m-2.4-30m-1.1 49.9m4.7-36m1.2-5.8"/>
<path class="b" d="M52.4 486.7m2.1-7.6m-5.1 44.8m-1-60.2m1.3 37.8m-1 18.5m-2.6-10.9m2.2 22.7m6.4-72m-8.5 31.1m5.7-4.8m-3.9 1.9m-1.2-65.5m7.9 47.4m-6.8 2.4m0.1 12.7m5.3-13.1m-5.4 8.3m-0.1 12.7m6.4-26.1m0.6-47.3m-1.9 103.1m-2.7-23.4m3.7-5.4m-5.1-47.1m4.3-17.4"/>
<path class="r" d="M62.7 501.7m0.3 13.8m-6.1 1.3m5.3 0.5m-5.7-46.7m5.7 83.3m-6.2-88.6m2 83.7m0.7-138.9m-3.8 117.9m8-1.9m0.4-44.8m-1.6 32.6m-4.2-79.1m-0.6 94.3m5.4-23.2m0.8-51.9m0-52.3m-8.1 80.2m5.9-21.8m-2.3 72.4m-1.4-69.1m2 27.2m0.5-42.5m-3.3 56.9m6-156.5"/>
<path class="b" d="M60.8 471.9m2.8-15.4m0.1 84.7m-0.6-70.3m0.6 7.1m-3-6.1m1 51.5m1.6-58m-0.4 72.2m0-5.7m0-29.9m0.1 38.1m-3.8-65.6m1.1 7.7m2.5-14.2m-0.9 2.9m-7 48.5m4.9-97.9m2.3 52.2m1.6 37.6m-7.8-85.5m2.9 2.1m3.2 129.7m-4.4-42.3m1.1-25m-2.2-29.4"/>
<path class="r" d="M69.8 497.9m-3.3-18.6m1.4-98.2m-3.4 118.8m0.3 33.2m2.1-58.5m2.5 49.1m-3.6-44.6m4.8 28.6m-5.9-2.7m6.5 19.6m0.2-65.9m-2.8 1.5m-0.7 14.1m1-26.2m-4.2 3.1m7.9 57.6m-0.4-11.4m-7.1-38.7m5 84.9m0.6-100.5m-5.7 42m6.1 2.2m-6.2 67.3m-0.7-18.8"/>
<path class="b" d="M68.5 463.4m2 94.3m-3.6-112.6m1.6 31.8m-2.2 33.4m6.8-52.4m-2.9 4.8m-1.9 5m-1.5 68.3m1.3-98.1m3 13.1m-6.3 81.8m6.6-5.2m-2.1 39.3m0.4-43.5m-4-12.4m1.3-26.1m5.7 12.7m-1.3 27m-2-127.5m-0.1 154.9m-4.2-88.9m5.1 24.8m-3.4-53.8m0.9-13.5m-0.8 19.2"/>
<path class="r" d="M74.3 524.1m7.6-90.3m-1.4 124.3m-0.8-54.3m0.4-2.8m-1.7-19.6m-3 20.7m4.7 14.4m-3.5-60.8m-2.6 56.7m8.1-85.8m-2.6 97.9m-0.1-86.7m2 43.5m-7.3 5.8m3.2-96.8m-2.4 94.7m1.2 31.8m3.4 5.1m-2.5-44.6m1.5 5m-0.9 36.1m-2.8-54.7m-0.3 53.7m3.1-69.6m3.1 11"/>
<path class="b" d="M76.2 385.7m0.7-2.7m3.8 89m-5.8 59.6m4.6-75.3m-0.6 3.8m-0.2 6.2m-4.7 20.4m7.4 30m-6.8-25.9m0.1 33.7m4.7-141.9m-1.4 72.8m-3.9 69.6m-0.4-29.4m2.1 44.6m3.4-95.8m2 31.8m-1.4-43.3m-2 102.8m-4 20.9m7.4-71.6m-0.1 44.1m-4.4-50.4m-3.3 14.3"/>
<path class="r" d="M86.8 468.4m2.3-58.2m-2.5 74.9m2 23.2m1.6-25.5m-6.1 24.3m6.1-2.6m-5-39.2m3.8 30.2m-4-4.8m2.7-11.1m-1.3-1.7m-2.1-76.5m3.1 33.5m-2.5 38.1m5.8-7m0.3-29.1m-5.9 91.2m3.3-36.5m2.8-37.3m-3.9 59.8m1.6-4.4m-1.3-6.1m-3.6 28.7m4.4 10.3m-3 0"/>
<path class="b" d="M83.8 523.5m0.7 20m2.2-66.5m4.8-18.6m-0.7 56.5m-0.8-47.2m-6.7-46.4m5 5.1m-0.4 105.8m2.3-38.5m-5 30.1m4.8-73.7m0.6 71.7m-2.7-76.3m3.5 26.9m-4.5 21.3m0.9-12.1m1.7 24.7m-0.8 51.1m1.4-134.6m-1 22.8m-2.4 57.4m2.5 6.1m-4.1-65.9m1 71.2"/>
<path class="r" d="M97 431m-2.6 32.2m-2.2 5m6.1-46.6m-4.3 3.4m2.2 107.5m2.4-70.6m-2.1 46.4m-1.7-16.3m-2.4-25.4m6.3 12.1m-3.3-20.9m3.6 23.9m-3.8-50.4m1.2 27.4m2.3 13.1m0.2 79.8m-2.3-127.7m0.7 113.9m2.1-63.6m-2.4 7.1m0.6-2m-1.3-21.6m-4.4 29.8m5.6-50.8m2.2 61.8"/>
<path class="b" d="M98.4 502.2m0.4-43.6m-3.3 26.2m4.6 3.7m-1.6-49.7m-4 71.7m-0.6-38.2m0.3 8.6m-1.5 1.4m0.4-16.7m0.4 66.7m2.6-73.6m-1.4-86.9m-0.9 141.1m-1.2-0.5m5-36.1m-5.4 18.6m-0.4-32.7m1.4 22m1.3 6.9m2.6-83.8m-3.6 159.9m6.8-125.2m-0.5-52.1m-2.1 101.6m-4.9-24.6"/>
<path class="r" d="M108 477.4m-5.2 0.3m2.8 33.3m1.5-38m1.5-47.6m-1.1 16m0.6 101.5m-0.5-84.5m-5.9 39.2m0.5-9.2m4.9-35.9m-3.6 24.8m4.1-8.9m-0.3 28.4m-3.2-54.1m-3.4 33.7m7.2 30.6m-5.3 6.5m1.8-24.4m-2.2 2.6m-1 28.7m6-30.4m-2.8-10.5m-1.7 10.1m2.4 18.7m-3.3 16"/>
<path class="b" d="M105.7 456.2m2.7 20.8m-7.4 21m5 5.8m0.4-35.5m3 41.6m-5.5-2.4m-1.4-25.1m4.9 37.4m-3.9-48.9m0.8 34.4m-0.3 4.1m-2 32m2.5-45.5m-1.1-75m6.2 39m-7.2-8.2m4.9-12.6m-2.6 51.8m-2.3-22.9m2.3-0.4m-0.8 59.8m1.8 30.4m-1.9-92m1.9-22.6m-0.7 89.9"/>
<path class="r" d="M116.5 471.5m1.9 71.7m-6.2-68.2m0.8 67.1m3.1 11.2m-5.9-80.2m1.2 19m6.7-7.9m0.7-66m-0.3 72.7m-5.8-73.4m-0.1 13m-1.7 27.8m7.5 43.7m-1.7-27.5m1.6-59.8m-4.6 73.5m-1.4 50.5m4.2-100.5m-2.2 9.6m2.1 71.5m-0.3-32.8m-4.1 21.2m5.9-68.2m0.2 38.6m-7.6-26.4"/>
<path class="b" d="M118 395.3m-1.6 27.8m-6.1 87.4m8.2-94.2m-3.1 38.8m-1.2 18.3m-2.4-19m6.9 32.2m-6.2-7.7m5.2 3.8m-7.2-13.6m7.7 18.3m-0.6 56.2m0.7-80.1m0.7 21.3m-4.4-4.1m-3.9-30.6m3.9-8.3m1.6 73m-5.4-19.3m2-29m-1.8 37.7m-0.5-4m4.4-25.1m-2.2-30m2.1 79.6"/>
<path class="r" d="M127.8 527m-8-10.5m1.5-9.1m3.1-10.2m-3.2 15.9m1.7-33.5m1.7 18.4m-3.9-61.7m5.9 55.8m-5.7-1.3m-1.1-33.9m4.9 35.1m1.3 19.7m-2.9-53.7m3.6-35.5m-2.7 20.4m1.7 76.2m-6-17.3m6.1-69.3m-4.8 79.8m7.2-49.5m-7.2 59.3m6.6-49.4m-2.9-70.9m-0.7-4.5m3.8 136.5"/>
<path class="b" d="M124.8 508.4m-0.8 19.3m0.3-5.9m-1.1-53.7m-1.4 47.4m-0.8-64.1m4.1 37.6m1.9 7m-6.3-45.6m7.5 38.8m-9.1-3.9m5 5.7m-1.4 25m0.4-34.2m3.2-30.5m-0.5 38m2.2-25.3m-9 51.1m7-72.7m-3 21.9m-0.4 56.2m-3.3-15.6m0.9-83.5m6.9 81.9"/>
<path class="r" d="M135.3 369.2m-4.4 187.3m-1-22m3.1-17.1m-4.4-35m2.8-30.6m3.7 25.3m-3.1 23.2m-2.4-12.3m7.6-69.1m-5.6 81.6m1.4 10.3m-1.5-8.9m4.8-47.1m-5.4 33.4m-1.5 65.7m3.7-65.2m2.2 3.3m1.9 12.4m-7.3-190.4m2.3 162.2m-3.1 17.9m1.4 1.9m-1.9-51.3m5.4-1.4m-3.5-36.7"/>
<path class="b" d="M134.4 511.6m-5.2-53.5m7.1 95.9m-4.1-80.4m4.1-41.7m-5.5 26.3m-2.3 64.9m1.9-78.1m2.2 63.5m-0.6-50.9m-2.6 29.6m5.8-10.5m-0.2 0.5m-4.4 26.8m2.8-77.7m2.1-35.5m1.2 87.6m-1.6-33.2m1.4 32.5m-2.6-53.2m0.3 60.6m2 2.1m-7.6 24.3m7.1-91.7m-2.2 60.5m-1.2 15.4"/>
<path class="r" d="M144.3 484.2m-1.9-62.2m-3.5 111.7m6.8-55.6m-2.2 64.6m-2.3-104.5m-2.2 61.5m3.4 31.4m-1.8-132.3m5.6 94.5m-5.9-63.9m4.7 36m-2 61.4m-1.1-44.3m2 6.1m-3.1-26.6m4.8 69.6m0.2-75.4m-4.9 33.7m5.2-51.7m-5.8 7.5m-0.6 48.9m-1.6-17m4.1 22.5m2.9-115.2m-5.1 30.6"/>
<path class="b" d="M143.2 483.8m-0.2 63.8m-5.6-47.3m0.1 44m3.1-121.7m5.2 23.5m-2.6 49.6m2.1-1.9m-1.4 8.2m-4.2-58m1.2 103.5m4.5-40.1m-1.4-5.7m0.9-90.3m-6.5 78.3m6.9 2.6m-0.1-58m-1.9 78.6m-5.8-81.7m2.5 74.3m4.8 7.2m1.4 21.5m-5.2-121.4m-1.9 44m3.2 48m-0.7-17"/>
<path class="r" d="M147.2 465.3m4.4 55.6m-2.9-26.3m-0.5-30.3m4.5-9.2m0.8-5.1m-5.2 60.5m7.1-120.5m-5.3 115.2m-1-7m-1.2 1.4m-0.6 0.7m2.5-32m1.2-15.4m-1.3-18.9m4-8.9m-3.1 24.8m3.6 36.7m0.1 37.2m1.1-41.9m-7-33.7m7.1-53m-8.8 124m7.1 15.6m-0.2-69.1"/>
<path class="b" d="M151.4 455.6m-3.1 96.7m3.6-101.4m-1.7 116.6m-2.1-188.3m5 95.2m2.4 18.5m-5.9-28.1m-1.1-0.6m-0.8-42.3m2.2-33m-0.3 74.8m3.3 8.8m-4-81.7m3.7 78.1m-1.4-94m4.2 128.7m-3.3-11.6m-4.1-48.6m0.2 26m4.1-20.9m0.4 37m-3.6-77.6m3.6 88.1m2 1.4m-3.6 50.5"/>
<path class="r" d="M160.7 440.5m-2 27.6m0.5-22.4m5.5 49.5m-1.1-17.3m-5.4-43.7m2.1 21.6m-2-29.2m1.6-11.9m4.9 54.8m-5-20m3.7 3m-7.2 32.6m2.8-53.9m1.7 57.9m1.5-54.3m-3.8-12m3.2 36.6m-0.6 16.6m0.3 5.1m-4.9-32.7m4.2 38.6m-0.1-32.7m3.5-61.8m-2.1 123.8m-1.9-4.3"/>
<path class="b" d="M162.8 464.1m-0.4-22m-3.2-2.5m0.1 49.6m0.8 33.4m4.1-64.5m-5.1 6.8m-2-20.5m3.3 17.1m2.9-12.9m-1.3 0.8m-6.2 75.7m4.5 17.5m-3.3-91.2m6.1 22.1m0.2-57.7m-1.8 41.2m2.7 66.6m-8.3-77.5m0.4 40.8m3.4-28.6m-3.1 21.1m1.7-3.1m4.6-26.2m-3.1 26m0.7-31.4"/>
<path class="r" d="M167.5 499.7m-1.8 39.2m2.4 8.8m-0.7-71.7m2.2-52.8m-0.7 73.5m5-27.8m-2.1-9.7m-6.3 56.5m7.6-38.5m-5.2-49.9m-1.1 70.1m-1.1-32m4 1.6m-4 9m4.1 42.5m4.1-68.8m-6.3-18.1m-1.5-13.6m5.9 45.7m0.8 8.9m-3.9-25.6m-2.2 43.9m6.8-35.8m-0.2-1.9m-8.1 33.8"/>
<path class="b" d="M168.1 463.1m1.6 66.4m3.1-65.4m-1.5-20.9m-2.9-35.1m-0.5 51.4m0.4 34.7m2.2-49.8m3.5 68.1m-3.1-52.8m-0.6-49.3m1.9 109.1m0.8-48.3m-7.2 93.4m0.6-95m2.2 57.8m5-12m-7.2-21.5m1.8-52.5m1 71.9m1.3-59.4m-1.8 21.5m-2.6-35.7m6.3 25.4m-2.3 34.9m-1.2-38.2"/>
<path class="r" d="M177.6 515.9m0.2-93.2m-2.1 53.2m1.5 27.9m-1.1-70.7m4.4 58.3m-0.3-33.3m-2.5 4.2m1.9-13.1m1.7-2.9m-2.7 5.7m1.8 9.7m1.2 45.8m-3.1-34m2.1-29.4m-5.5 81.3m6.8-96.2m-3.7 53.2m1.2 4.1m1.7-33.6m-4.2 80.6m6.2-108.5m-2.2 48.4m-0.1 6.5m-2.3-27.8m0.7 12.9"/>
<path class="b" d="M175.3 496.7m1-16.7m-0.8-44m7-29.7m-0.6 109.9m-3.8-29.5m2.7-5.6m0.1 14.8m-6-7.2m-0.2 2m7.4 9.7m-2.1 22.3m-4.6-13m4.1-59m0.6 27.8m0.1-2m1.6-38.8m-7.2 81.4m8-106.1m-4.7 41.8m1.3 44.4m-0.4-56.5m0.6 10.2m-2.1 41m-0.7 6.9m0.9-26.5"/>
<path class="r" d="M184.3 431.4m0.5 21.8m0.2-34m-1.3 76.4m1.4-55.7m3.1 22.6m3-40.9m-5.4 38.9m6.1 80.1m-4.7-7.1m4.9-47.6m-7 29.4m7.2-33.4m-8.1-81.2m5.9 70.4m-3.9 39.5m-1.4-61.6m1.9-14.2m3.4-36m0.5 63.5m-2.4-35.6m-3.4 17.5m0.4 23.4m5.8-53.8m-4.3 102.5m5-37.4"/>
<path class="b" d="M190 461.3m-2.7 34.2m-3-40.8m-0.3-48.5m0.6 32.2m3.8 11.7m2.1 30.6m-4.8 12.8m4.7-101.2m1.7 42.4m-5.3-4.4m0.1 43.5m-3-62.4m3.8 72.7m-1.7-36.6m1.7 37.9m-2.7-64.6m2.8 45.9m-2.4 5.5m3.7-14.4m-1-23.1m-1.2 1.8m2.9 0.8m2.5 93.7m-5.1-54m3.2 9.1"/>
<path class="r" d="M193.9 533.1m5.3-72.7m-1.8-18.5m-3.7-22.4m6.8 51.7m-0.9 0.6m-3 51.1m2.2-57.9m-3.8-5m2.2-14.7m4.1 77.9m-1.5-13.5m-1.3-54.4m1.3 37.4m-5.3-40.7m3.2 25.2m0.2-11.1m-2.4 10.5m2.1-14.8m0.9 72.5m-1.3-96.5m2.5 45.2m-6.4 32.1m3.1-70.4m5.2 41.3m-8.1 14.9"/>
<path class="b" d="M199.7 524.6m-5.4-144.6m3.4 78.1m2.4 77.6m-4-19.1m-2.6 6.5m1.1-58.1m-0.4 42.6m-1.2-43.2m4.9 69.1m-5.2-77.7m8.7 65.4m-0.2-59.3m-4.8-53.3m0 52.7m3.3-64.6m-0.1 122.1m-4.2 3.4m2.6-46.9m-3.7 29.7m-1.2-81.8m1.8 105.7m3.1-62.1m-5.5-25.8m0.8 30.1m1-19.8"/>
<path class="r" d="M206 468.9m-4.3 77.3m-0.1-96.2m0.4-49m2.4 39m-1.6 32.8m-0.4 5m0.9-12.2m5.1-54.5m-1 45.7m0.4-125.7m-5.6 129.9m7.9-41.2m-4.9 72.6m1.9 3.3m-3.1-22.7m-0.1-35.7m6.5 69.9m-7-45.5m3.6 15.9m-3.2-3.4m2.4 7.1m3.5-42.2m-7.7 16.4m6.5-23.3m-4.9 76.6"/>
<path class="b" d="M202.5 480.2m5.5-42.4m-2.2-10m-2.2 23m7.1-1.6m-9-26.3m7.2 38.8m-5.7 51.9m-1-51.6m4.7-17.9m-3.8-27.3m2.8 75.4m2.9 5.5m-6-59.1m5-19.6m-2.6 66m3.3 9.3m-3.5-32.2m5.7 35.4m-0.9-18.6m-4.3 41.8m3.5-62m-1.1 16.7m2.3-47.8m-0.4 22.2m-4.6-16.4"/>
<path class="r" d="M212.6 423m-0.9 10.1m3.4-0.1m-2.5 68.3m4.1-53m2.2-69.3m-1.6 111.3m1.7-25.5m-2.8 36m2.9-44.3m-7 28m1.6 58.8m5.6-75.9m-5.6 8.8m6-12.2m-6.7 21.1m6.4-6.2m-5.9 76.3m2.2-125.7m-2.2 23.8m5.8 15.7m-6.2-75.5m-0.9 160.1m3.7-103m-1.2 101.7m-1.3-53.4"/>
<path class="b" d="M216.9 486.6m-2-76.6m4.7 42.7m-0.7-21.1m-1.7 8.3m-4.6 60.8m5.9 17.3m1.4-52.1m-1.2-19.7m-7.1 18.7m1.8 24.3m1.8-76.2m4.7-42.3m-8.9 62.9m2.7 56.1m4.9-23.9m-5.2 5.7m2.5 10.3m0-77.4m-3.1 63.2m4.3 2.3m-2.9-39.1m5.3-8.1m-4.2 49.3m-4.3 16m2.9-63.9"/>
<path class="r" d="M221.8 494.4m-0.9-44.9m2.7-16.3m-1.4 78.1m3 29.2m-3.7-63.4m-0.5-31.7m2 63.2m1.4-36.9m0-47.5m-2.9 66.2m3.2-61.6m-1.3-1.9m1.5 65.2m-0.4-68.8m-2.9 54.8m-0.6 3.1m1.3-34.1m2.6 56.3m-4.5-101.8m0.5 64.9m5.2-43.9m-1.1 111.8"/>
<path class="b" d="M222.1 466.9m0.5-13.2m-1 52.6m2.8-72.6m1.5 56.6m0.2-47.4m0.4 6m-1.7 26.5m-3.1 7.3m-1.6 30.5m2.4-57.3m2.1 8.6m-2.9 54.2m2.8 0.6m-0.3-93.5"/>
<path class="r" d="M245.9 489.5m-1.5-11.5m-1.4-18.3m-2.8-19.7m5.1-39.2m-5.3-32m3.7 66.2m2.3-19.6m-6.5 54m6.1 2.9m-5.8-37.9m2.5-10.3m-1.1 57.5m4.1-22.1m1.5-33.5m-3.1-41.3m-3.4 118.8m1.2-73.8m2.7 6.3m0.1-18.7m-1.2 10.3m2.8 48.4m0.2 34.6"/>
<path class="b" d="M240.8 466.5m1.7 1.7m-0.9-79.6m5.4 56.9m-6 29.3m5.8-20.8m-3.9 29.7m-0.7-31m3.6-48.6m-5.9 47.1m6.2 24.1m-4.2 26.8m4.1-111.8m-4.7 63.1m5.4 43m0.5-7.5m-3.8 14.9m0.2-62.5m0.2-8.2m-3.9 24.9m1.9 41.3m-1.5-69.5"/>
<path class="r" d="M251.9 395.7m-2 74.8m2.7-21.5m-3.3 1m2.3-27.9m3.3 16.9m-7.4-26.4m7.2 55.3m-4.6-51.6m5.2-0.5m-4.7 76.8m1.8-24.3m-4.9 3.3m7.8-14.4m-5.7-19.3m4.7-38.8m2.3 73.9m-1.2 3.5m-2.6-3.1m-4.8 8.2m7.2 24.3m1.2-78.5m-6.1 39.3m-2 0.1m2.8 27.4m4.1-87.5"/>
<path class="b" d="M254.9 426.3m-4.3 68.3m1.2-52.9m3.4 12.9m-1.6-18.4m-3.3-5.7m2.4 21.1m0.4-10.4m-0.5 4.1m-2.3 58.4m6.1-72.6m-7.8 55.3m-1-61.6m7.1-46.7m-2.3 150.3m0.5-143.8m-2.4 49.5m0.5 34.8m3.3-7.1m-1.4 26.1m-3.2-42.9m-0.9 26.7m4.7 10.4m-5.5-2.5m-0.5-13.7m6.1-14"/>
<path class="r" d="M259.1 427.7m5.6 71.2m0.4-48.5m-1.6-27.4m-3.5-1.2m4.7 120.3m-2.1-109.6m-1.6 32.3m3.7-78.3m-6.6 25.9m6.2 127.4m-5.8-83.9m0.1 7.2m1.3-62.5m5 40.9m-4.3-18.7m0.8 10.3m-3 17.1m0.2-74.2m2.8 42.3m1.2 88.7m3 1.6m-3-7m1.8 40.6m-2.4-63.4"/>
<path class="b" d="M257.3 473m-0.2 19.1m1.5-71.3m1.8 2.3m-0.9 23.5m3.9 51.9m-3.7-109.1m1.2 59m-0.2 6.1m0.3 20.8m-0.4 28.1m-2.4-15.6m4.2-74.6m-3.1 14.9m1.4 76m1.4-35.3m-2.2-72m-2.6 105.3m4.5-25.1m-1-20.3m3.4-31m-5.6-25.1m5.8 135.8m0.3-94.9m-4.5 14.8m3.7 25.1"/>
<path class="r" d="M271.5 502.1m2.8 0.8m-4.2-29.7m-2.8-38.7m5.5 37.9m-6.9-18.2m4.4 51.6m1.2-20.5m1.8-61.4m-6.8 108.6m-0.1-63.6m4.4 62.8m0.4-93.7m-0.1 82m-2.4-140.8m-2.9 154.6m2.1-56.5m4.9-29m2-53.8m-7.1 97.8m1.9-18.6m1.3 8.9m2.5 1.6m-4.4 23.6m1.4-21.1m-2.1 6.1"/>
<path class="b" d="M272.9 450.4m0.3 23.4m-2.5 44.6m-3.6-54.2m7 101.7m-5.4-148.1m-2.2 20.3m6.3 44.8m1.3-22.6m-2.7 32.1m-1 14.7m-3.8-21.8m4.8-48.3m-4.4 26.9m4 4.7m3.4-3m-8.1 1.3m4.7-41.1m-3.6-31.6m-0.7 64.8m-0.3-26.5m3.4 88.7m2.8-35.6m-5.9-46.7m6.4-4.3m-6.5-12.8"/>
<path class="r" d="M275.5 508.8m2.7-87.9m-1.7 39.5m5.6-3.2m0.7 35.6m-1.4-76.1m-2.5 69.4m0.3-16.5m4.7-68.9m-6.9 33m6.7 27m-0.6 25.3m-4.4-37.1m0.1 4.5m-3 23.9m1.3-14.8m5.4 49m-4.9-58.6m-1.6 58.2m7.6-86.3m-8 42.4m5.9 8.2m-0.7 40.9m-2.3-116m-2.1 38.9m1.5 19"/>
<path class="b" d="M280.7 400.2m3.2 70.3m-0.4-8.2m-7.8-1.4m-0.2-43.7m7-6.1m-4 66m3.1 50.7m-2-53.3m3-43.9m-1.2 132m-6.1-97.7m1.2 56.9m6.7-19.7m-0.9 35.8m-1.8-50.1m-4.5 8.1m-0.3-6.5m7.4-83.9m-2.2 134.2m-2.4-33.5m3.5-27.3m-3.6 66m-0.9-170.1m1 87m5.4 23.3"/>
<path class="r" d="M289.1 438.8m1.4 0.3m-0.2 46.7m-0.5-40.4m-0.8 7.6m-0.1-51.5m-0.5 11.3m3.2-21.7m-1-26.6m-4.9 29.9m1.9 45.9m0.6-31.3m5-13.3m-2.5 45.2m0.3 22.7m-1.3-20.3m-1.3 28.8m2.3-4.7m-5.1 13.9m5.1-7.2m0.2-44.7m-6.1 10.6m1.1 53m3.9-30.2m2.9-1.1m0.2-26"/>
<path class="b" d="M289.2 491.5m-3.4-49.9m-0.7-31.7m4.1 16.5m0.3 36.5m-1.9-61.1m3.6 73.2m-4.6-36.5m3.2 6.5m0.3 25.2m1.9-40.3m-5.1 78.6m-2.2-28.8m5.8-34.2m-4.1-6.5m3.9-4.7m-0.2 44.2m-5.5-19.4m5.5-27.5m-0.1-20.4m-3.9 41.1m2 28.1m-3.9-0.9m8.5-9.9m-0.1-24.7m-6.5-10.3"/>
<path class="r" d="M294.3 488.4m2.4 29.2m-0.2-105.1m2.6-23m-3 40.4m1.7-6.6m-2.6 16.9m0.4-77.2m-1.5 120.1m5-90.6m2 45m-6.5 105.7m0.1-79m-0.3-17.6m1.2-0.6m1.5 56.2m-0.7-111.6m-1.5 84.2m1.3 44.2m0.2-98.3m4.9 12.1m-5.9 43.2m-0.9-61.8m3.4 33.7m-2.8 50.1m0.5-106"/>
<path class="b" d="M294.2 467.3m0.4-18.9m6.3-14.7m-0.9 29.2m-6.1-29.4m5.7 63.7m0.4-118m1.9 67.2m-3.8 55.8m3.5-53.7m-8 28.1m1 80.4m4.4-91.1m-2.6 53.3m4.5-81.8m0.4-7.5m-3.8 54.6m1.5-33.8m3.4-29.1m-3.7 38.4m-1.6 16m-2.9-50.5m2 35m5 74.8m-3.5-104.6m1.4 49.4"/>
<path class="r" d="M304.3 490.1m3.4 21.3m3.8-29.4m-1.8 10.5m-6.5 9.1m6.5-69.9m-6.8-46.8m2.4 102.9m1.2 52.4m2.5-77.8m-0.2-38.1m-3.5 18.9m5.5 7.2m-3.6 27.2m-1.6 7.2m-0.6 7.4m0.3-8.6m-1.6-33.8m3.6-17.6m-2 68m5.4-2.6m-3-14.3m3.9 5m-5.1-11m-1.4-28.4m-2.5 82.8"/>
<path class="b" d="M307.8 549.9m-4.4-90.6m4-39.2m-3.9 54.9m2.7 46.5m-2.4-106.1m1.5 83.2m5-110.5m-6.8 66.7m3 42.9m-4 3.7m1.2-64.1m-0.8 47.5m-0.2-46.5m1.5 50.6m5.9 12.8m-5.4-64.3m-2-20m8.3 43.5m-7.5 67.9m2.5-32.1m0.7 10.8m-3.4-44.6m3-9.4m0.5-39.5m-3.4 49.4"/>
<path class="r" d="M312.5 437.4m7 15.6m-5.3-37.5m-0.4 1m2.5 32.3m3.6 60.9m-6.2-34.2m6-9.9m-4 87.8m-1.8-120.4m2.4 22.3m-2.4 37.8m3.3-76.3m0.7 62.7m1.5-55.8m-0.8 40.9m-6.7-43.9m0.6 53.6m1.5-12.9m5.2-50m-6.8 44.8m7.6 12.2m-2.4 4.2m-2.5 8.2m-3.2-62.2m7.3 40.6"/>
<path class="b" d="M317.7 423.7m-4.4 23.7m7.5-9.1m-4.7-11.4m-2.4 70m1.1-49.6m0 20.2m1.7 30.8m3.7-85.8m-7.2 98.7m1.2-111m5.6 114.4m-4-31.7m-1.9-19.4m0.1 68.7m5.1-82.1m-6.9 89.7m2.6-64.3m5.6 29.3m-3.5-44.4m3-6.3m-0.6 62.2m-4.8-31.1m2 3.7m-2.8-77.2m1.4 71.6"/>
<path class="r" d="M326.3 448.5m-5 42.3m4.1-26.9m-1.4 12.7m-0.6-54m0.4 27.7m1.6-7m-1.8 3.2m5.8 38.7m-7.6 6.7m7.4-30.6m-3.3-51.3m0.9 82.9m-4.1-87.4m3.5 9.9m0.9 88.2m0.1-31.3m1.9 35.1m-5.7-36.9m3.8 22.6m1.6-74.6m-2.4 49.6m-2.9-21.4m4.9 6.3m-6.8 20.2m4.6-44.8"/>
<path class="b" d="M324.4 416.7m2.4 39.7m-5.1 20.5m6.3-23.1m0.3 4.5m-0.6 6.8m1.9-50.9m-2.1 57.2m0.5-13.2m1 0.4m-1.7-11.4m-1.3 20.8m-1.3 16.6m-0.9-45.4m1.9-19.2m3.7 23.3m-6.3 31.1m-1.2 3.9m2.5 7.9m-1-72.6m6.3 10.1m-7.1 29.1m-1.3-15.9m2.1-35.6m6.2 5.8m-6.1 90"/>
<path class="r" d="M332.9 437m-0.1-1.5m0 1.3m0.1-39.3m4.2 59.6m-4.9 44.5m6.3-43.7m0-25.7m-1.3-16.8m-2.9 89.1m1.7-79.1m-5.2-17.4m8.3 26.1m-7.9-79.4m7.5 156.9m-2.2-176.9m1.9 92.8m-8.3 16.6m5.3-13.5m-2.1 36.1m2.1-16.5m-4.7-16.3m5.1-64.9m2.5 6.1m-2.5 4.6m-3.3 95.2"/>
<path class="b" d="M333.4 443m1.5-0.2m0.7 98.3m-2.1-44.8m2.8-30m-2-70.4m-3.6 43.3m4.5 33.9m-4.5-54.9m3.9-54.4m1.5 28.1m2.9 100.6m-2.5-4.3m-5.6 29.2m6.6-53m-2.7-46.6m-2.4 12.7m-1-11m4.5-33.5m-5.9 86.5m4.5-13.9m-1.4-30.1m1.5 39.3m-2.7-12.2m3.6-80.4m2.3 110.9"/>
<path class="r" d="M345.8 422.1m-1.4 28.2m0.2 23.9m-2.7-75.9m5.9 36.2m-1.7 7.5m-0.3-46.3m-1.1 46.1m-3.7-55.9m1.4 10.6m3.5 118.2m0.1-105.9m-3.4 36.5m-3.4-41.2m6.9 52.8m-5-10.1m-0.2-45.4m6.1 16.6m-3.1 7.2m4-17.1m-3.7-16.2m-4.4 52m7.6 89m0.9-25.4m-6.6-45.6m4.8 60.7"/>
<path class="b" d="M341.7 461.2m0-51m-1.2-23.3m0.6 57.9m6.1-7.9m-5.5-6.9m0.2-9m1 8.7m1.3 5.1m-3 50.6m2.7-28.6m0.7-8.3m-0.3 74.8m-5.1-93.9m6.8 65.1m-0.2-5.7m1.7-19.1m-3.1-23m2.8 43.4m-6.4-59.9m7.4-58m-2.3 131.4m-6-45.4m1.7 17.3m-0.1-33.5m2 14.7"/>
<path class="r" d="M353.3 453.4m-2.3-97.3m6.1 74.6m-2.8 2.9m2.5-39.7m-3.7-12m3.6 81.6m0.6-47m-8.3 51.3m5.8 33.7m0.9-0.8m-0.9-47.7m1-83m-6.5 10.4m7.6 30.5m-2.3 68.3m-2-60.7m-2.8 18.5m3.4 57.2m-1.3-29.3m0.8 37.8m3.2 15.1m-4.6-61.4m2.9-50.3m0.6 76.5m1.4-31.4"/>
<path class="b" d="M349.9 439.4m-1.4-33.6m6.7 23.6m1.2-40m-3.5 4.4m-1.4 35.1m2.3 23m-3.3-13.7m-0.7 35.4m2 1m-3-20.9m7.8-78.9m-7.8 25.7m6.8 50.9m-1.2 13.5m1.9-26.2m-0.4-39.9m-5.7-85.4m-0.2 165.1m1-138.1m3.2 29.1m-1.4 109.3m-3.7-38.3m7.8 76.6m-6.8-81.9"/>
<path class="r" d="M358.7 427m7 66.6m-1.9-67.5m-0.5-15.5m-0.9-36.4m-3.3-5m3.9-10.3m-0.8 81.1m-2.9-43.6m5.3 49.6m1.8-3m-8.1 26m-0.2 7.6m0.3-53m8.2-16.1m-6.2-45.4m-0.1 92m-2.4 8.9m7.4-14.5m-2.8-43.7m-2.2-15.1m0.4 38.9m0.5 21.5m-2.5-30.7m4.5 45.4m-2.1-7.7"/>
<path class="b" d="M362.8 463.7m-4.4-30.7m3.2-25.9m3.9 60.7m-0.8-44.4m-3.4 45.1m-1.2-28.7m5 14m0.3-92.6m-0.9 86.5m-5.9-7.1m-0.7 56m8.3-92.5m-5.3 21.8m3.2 46.7m1.9-53.6m-6.9 12.2m5-27m-1.2 83.7m-2.6-90.8m4.3 1.6m-1.7 75.5m-0.1-4.2m-3.3-15.8m-1.8-65.1m7 22.2"/>
<path class="r" d="M374.4 435.2m-2.3 71.1m-0.2-64.7m0.7-52.8m-1.7 80.1m1-42.9m-3.5 8.3m2.4-5.3m3.7 47.1m-3.5-34.2m-3.9 16.3m2.4-34.3m-0.2 9.2m4.3 59.8m1.6-88.5m-1.9 82.9m-4.9-41.8m4.4-54.3m1.1 138.6m-0.9-143.4m-5 38.7m-1.1 2.4m7.6-40.8m-6.4 23.4m6.8 16.2m-4.2-7.8"/>
<path class="b" d="M367.2 451.1m1.4 25.9m-1.1-43.7m-0.1-48.4m4.1 31.1m0.6 79.7m0.3-32.5m3.3-49m-4.8 87.6m-3.5-77.5m7.9-24.5m-4.5 40.1m1.4 20.7m3.3-11.8m-7.5 14.8m0.4-48.9m4.1 74.2m-5.7-14.7m4.2-2m-3.3-15.1m5.6 9.7m-1.2 22.8m-2.1-17.8m0.3-16.3m4.7-5.3m-0.6-22.7"/>
<path class="r" d="M378.2 421.9m-0.8-34.2m5 30.3m0.4-29.7m-0.1 45m-3.4-19.3m3.4 22.2m-1.4 94.3m1.6-57.5m-5.5-29m7.5 25m-0.7 39.1m0.5-28.4m-5.6-71.4m0.7 36m1.3-32.9m-0.9-17.2m2.4 102.3m-5.1 17.5m3.9-38.7m3 6.2m-3.6-65.5m0.5 96.5m-3.1-26.8m4.5 18.8m1.3 73.4"/>
<path class="b" d="M379.7 417.4m-2.6 87.8m1.1-92.5m-1.7-76.6m4.9 153.9m-1.1-45.7m-3-60.3m1.3 116.4m0.7-137.3m-3.3 112m-0.1 12.8m0.4-110m7.5 92.5m-3.4-79.3m-3 65.2m3.9 0.6m-0.6 74.4m-1.3 28.3m1.4-160.5m2.3 68.2m0.2 92.7m-3.6-92.8m1 76.3m3.7-77.3m-3.8 43.8m2.3 34.5"/>
<path class="r" d="M389.5 459.4m-2.5 19.2m6.6-83.7m-1.9 48m-4.1-26.8m-0.3-22.1m-1.7 92.7m4.7-97.6m-4.5-14.4m5.9 120.8m2.5-87.4m-5.9-41.2m0.7 110.6m-2.7 18.6m3.3 8.2m2 1.3m-5.6-66.3m3.6-11.7m2.5 45.1m0.4 1m-7.3 82m3.2-81.2m4 63.4m0.6-77.7m-3.9-20m2 3.1"/>
<path class="b" d="M389.2 534.7m3.8-62.4m-7 40.2m6.4-94.8m-1.7 142m2.3-27.2m-5.3-69.5m5 77.8m-6.9 3m2.6-128.6m-0.4 83.2m2.9-135.5m-0.3 114.4m2.9-4.1m-0.4 102.7m-1.6-93.7m1.3-80m1.2 12m-8.7 110.9m0-70.6m4.8-3.4m-3.8 64.7m3.4-32.8m1.5 71m-5.1-28.7m6.4-41.3"/>
<path class="r" d="M394.6 460.8m3.9 9.6m-2.6-27.5m5.6 20.4m-4.4-36.6m3.5-20m-2.5 5.9m4.8 48.3m-4.2 36.8m-0.7-27.8m0.5-35.9m0.4-18.4m-4.6 62.8m3.4-17m-1.3 1.4m6.8 29.5m-7.4-7.9m5.6-40.9m-2.2 66.7m-2.9-41.1m3.3-45.2m-5.3-5.3m6.4 38.5m0-1.1m2.6-29.5m-0.2-41.4"/>
<path class="b" d="M394.7 413.4m3.8 49.6m1.2-66.1m3.5 64.2m-0.7 35.5m-3.2-24.5m-0.2-76.8m-0.9 68.4m-2.6-29.4m-1-3.4m0 23.9m-0.1-8.7m3.8 6.6m-3.6-36.8m3.3 50.6m3.4-20.7m-1-17m0.4-1.7m-2.2 65.6m-4-95.4m8.7 65.3m-2.6-38.2m-5.4-14m4.3 8m-5.2 39.9m0.3-8.4"/>
<path class="r" d="M409.2 504.8m-4.6-81.2m-0.1 44.3m2.2-70.2m0.7 25.9m3.7-36.9m-0.9 61.6m-3.6 18.6m-1.3-19.9m5.6-51.2m-7.5-0.3m3.6 54.3m4.5 41.7m-4.8-94.2m-3.1 40.8m6-41.1m-3.1-6m0.7 47.2m-1.5 7.6m-2.1-74.8m2.2 112.7m-0.1-14.2m5.8-78.8m-7.9 37.1m7.2 24.7m-0.6 28.8"/>
<path class="b" d="M409.2 437m0.9 18.6m0.5-67m1.6 49.7m-8.4-55.8m5.6 17.7m-0.4-2m-0.4 25.7m2.2-31.2m-5.1 111.8m1.9-116m-3.2 68.4m5.8-93m-5.3 1.1m-0.7 79.1m7.2-69.2m-6-1.5m4.6 63m1.4 36.6m-5.5-57.9m-0.9 27.1m2.6-13.7m4.5 26.5m-6.3 4.2m3-48.3m0.5-42.5"/>
<path class="r" d="M418.9 404.6m-0.4 12.9m-5.6-3m3.7 73.5m2.5-73.1m-2.1 51.3m2.2-17.6m-1.5 9.6m-2.7-82.6m4.8 53.3m-2.1-42.1m-1.8 56m5.3-39.1m-8.6 40.7m5.1-8.5m3.7-62.7m-6.6 39.7m1.2 63.6m3.3 14.4m-0.6-44.2m-3.5-40.9m6-73.5m-4.7 110.7m1.6 0.5m-2.4-14.2"/>
<path class="b" d="M420.1 482.3m-2.7-51m2.9-3.4m-7.7-23.6m8.4 36.1m-0.2-28.8m-0.3-15m-4 34.2m-0.9-53.7m-1.7 4.3m-0.1-18.1m-0.5 103.2m0.3-38.2m7.9-79.1m-7.9 72.4m6.9-36m-2.1 37.6m2.5-15.9m-1.7 15.3m-6.1-79.6m7.7 96.2m-1.5 19.5m0.7-61.5m-6.8 32.2m8.3-24.8m-6.2 66.2"/>
<path class="r" d="M429.2 393.7m-5.8 94.8m5.9-24.9m-2.8-59.5m-1.5 28.2m3.7-4.7m-1.3 57.4m0.9-42.1m-2.6-5.5m-2.9-38.5m1.5 65.3m1.3-22.1m-1.7-82.6m5.8 105.7m0.9-56.1m-7.8 9.4m-0.8 40.2m5.1-14.9m-4.4-22.8m4.7-22m-4.5 49.9m2.7-35.9m-0.9-29.7m-1.9 50.3m5.4-16.4m1.2-10.9"/>
<path class="b" d="M423.5 412.5m0.7-4.5m1.2-1.9m0.4-36.2m2.2 73.2m-4.6 0.4m6.2-0.6m0.5-31.3m-1.2-44.1m0.9 23.7m-1.9 62.9m-3.9 8.2m2.9-22.5m0.5-4.6m-2.8-34m2.9 32.3m0.2-13.4m3.1 84.7m-6.6 5.4m-0.2-85m-1.9-23.7m7.9 18.7m-7.4 2.6m0.4-12.3m0.6 69.4m6.8-92.2"/>
<path class="r" d="M432.6 562.9m0.8-95m2.8-68.2m-1.8-1.7m-0.5 25.3m-2.3-83.3m6.2 87.3m-2.9 10m2.8-101.8m0.7 91.6m-4 25.1m-1.5-72.6m-1.3 69.5m7-41.2m0.1 7m-5 24.7m0.9-65.1m3.4 79.8m-5.6-43.7m0.1 16.2m3.8-52.7m-2.4 143.2m3.7-156.1m-1.5 65.8m3-48.2m-5.6 121.7"/>
<path class="b" d="M434.2 468m2.8 25.2m-5.9-99.7m3.2-18m4.6 109.6m-1.8-94.5m-5.5 5.2m2.8 39.8m1.9 5.1m2.5-83.8m-4.2 47.2m-0.9 35.5m-1.7 31.7m5.7-77.7m1.4 44.7m-4.1 10.4m-1.1-103.3m-2.7 113.5m2.2-50.7m3.7 40.2m2.7-74.7m-3.6 101.1m1.7-88.2m-6.3 53.4m1.4 36m5.2-53.8"/>
<path class="r" d="M448.6 457.5m-2-6.6m-5.4-79.2m0 109.2m-1.1-21.7m3.1-12.7m1.8-4.7m-1.3-19m-2.4-49.1m1.8 82.8m5.3-2.9m-6.2-20m1 60.7m-1.5-66.5m5.4-14.9m1.5-56m-3.5 155.6m2.2-107.1m-4.6-39.8m0.6 113.9m-2.5-58.2m2.1-31.5m5.9 32.5m-7.5 85.2m-0.7-142.4"/>
<path class="b" d="M447.8 415.9m-6.9 23.9m0 9m5 0.5m-5.5-53.7m0 116.9m7.1-93.5m-1.8-0.9m-2.9 40.1m-0.7 4.7m1.4 42.2m0.4-1.3m4.8-71.6m0.2-24.8m-3.2 49.5m-5.3-1m8.1-2.6m-2.4-46.6m-1.1 31.8m-3.9 1m4-75.6m2.4 150.1m-5-124.1m1.6 39.2m1.7-36.6m-4 42.8"/>
<path class="r" d="M455.5 391.7m-3.7-19m1.3 7.9m-1.8 5.7m6.5 44.6m-6.5 38.9m5.6-52.3m-0.2 3.7m-7.5-16.3m1.4 52.1m5-54.2m-6.2 44.2m2.3-73.8m0.1-22.3m1.8 91.3m-3.4-18.7m5.4-29.8m-2.9 16.8m2.5 0.8m-2.7 59.1m-0.3-53.6m-0.5 2.5m-2-1.4m7.7-39.2m-6.1 81.3m6.3-70.4"/>
<path class="b" d="M454.1 379.2m-3 8.3m1.4 87.3m1.6 3.5m-2.5-19.3m1.2 8.8m4.3-83.7m-5.7 16.5m-0.7 33m1.4-56m6 33.5m-1.4 79.6m1.1-105.6m-7.8 30m5.4 27.4m-3.1-1.1m3.1 8m-2.1-35.6m1-42.8m-0.9-10.6m-0.9 52.7m5.5-10.4m-5.2 18.5m3.3-1.8m-6.8-24.8m0.2 20"/>
<path class="r" d="M461.8 424.4m-3.1-38.1m2.5 20.7m3.7-4.1m1.1-37.8m0.3-15.1m-4.2 28.9m1.1 18.7m-1.2 85.8m0.8-33.5m0.7-32.4m3.5-90.2m-4.3 29m-2.2 120.9m0.1-45m2-17.4m-1-17.4m-1.1 25.6m6.4 9.9m-7.6-64.5m3.8 46.3m2.6-16.6m-1.9 0.6m2.7 65.6m-7.3-85.1m1-12.6"/>
<path class="b" d="M466.9 415.9m-3.6 17.4m-2.6-23.3m-1.3 19.8m1.3-38.8m3.7 30.5m-2.4-16.7m1.9-49.5m-4.8 62m7-23m-3.7-21.1m-0.9 32.6m0.3 4m1 19.4m-2 7m6.2-16.4m-4.3 18.2m3.8-68.1m-1.3 86.8m-1.6-63m3 22.4m0.9 26.5m-1.1-11.8m-3.2-40.3m2.7-36.2m1.1 54.2"/>
<path class="r" d="M471.4 347.1m4 134.8m-1.5-90.7m-5.1 45m2.5 16.8m2 45.3m-4.2-59.6m2.9-10.1m-1.5-44.8m1 79.9m-0.7-31.7m0.8 78.7m4-146.3m-7.3 71.8m0.2 7.6m-0.9-31.3m5.9 31.4m-5.8-12.4m1.9-6.4m6.5-56.4m-5.7 65.6m4.4-66m-1.1 106.6m-0.1-78.7m-5 3m7 52.6"/>
<path class="b" d="M470.5 405.3m-1.5 21m7.7-21.7m-5.3-23.1m-0.5 27.2m1.2-1.8m3.4 26.9m-0.5-37.6m-6.8 17.3m4.8-27.1m0.9 95.5m-3.2-27.6m2.5-68.1m2.3 62.3m-1.6-31.6m-4.4 41.3m-1.7-40.6m-0.2-44.9m5.7 46.1m-5.3-38.9m6.1 54.7m-5.6 82.9m-0.1-120.2m0.5 19.3m-0.9 19.3m6.5 48.9"/>
<path class="r" d="M479.8 543.3m2-169.6m-4.3-4.9m2.2 83.8m2 6.6m-2-11.4m-1.3-16.3m5.7-62m-4.3 90.4m-2.8-82m3.4 64.9m1.2-67m3.7 93m-1.8-82.3m-4.5-27.9m5.1-24.6m-4.5 85.4m2.8 62.6m-1.7-37.4m4.4 11.7m-2.1-25.1m-6.1 7m8.8-35.6m-8.8 5m1.1 9.4m4.5 33"/>
<path class="b" d="M481.2 426.8m3-5m-5-45.9m2.1 104m2.5-51.8m-2.1-10.1m-3.2 28.2m0.1 58.6m0.6-47.6m4.2-38.8m1.7-43.4m-6.2 79m3.6-89.9m-0.4 68.9m-0.7 45.4m1.1-77.2m-0.3 70.8m1.4-113.9m-6.4 131.4m4.7-133.4m-0.8 17.5m-1.1 92.6m0.1 19.9m-0.9-54.4m0.1 103.1m5.3-99.3"/>
<path class="r" d="M487.2 426.1m1.3-32.4m-2.5 19.9m5.7 73.4m-4.8-99.5m3.9 50m-1.6-12.6m-0.5-75.7m4.2 25.5m-0.3 42.4m1.2-0.2m-2.5 15.5m1.5-7.5m-1.2-35.8m-4.2 53.9m1.5-7.7m5.8-86.8m-2.4 52.9m0.7-8.8m0.1 66.9m0.4-11m-1.1-58m2.4 65.9m-7.9-50.8m4.7 19.7m1.5-3.9"/>
<path class="b" d="M492 440.1m0.9-38.2m-5 43.4m2.4-88.4m-2.4 71m4.5-29.7m-5.7-13.6m0.2-17.2m6.2 74m-3.1 38.2m-2.8-60.1m6.8 57.1m-8-57.4m7.1-19.8m-0.1-21.7m1 13.6m0.7 17m-5.8 51.3m-0.3-69.3m3.8 14.2m1.9 55.7m-6.4-66.1m0.1-2.7m1.5-6.4m4.3 55m-2.6-41.3"/>
<path class="r" d="M498.8 423.3m2.1 35.3m-3.9 17.9m6.6-20.7m-5.6-11.5m0.7-13.4m3.1 11.1m-4-44.3m4.6 35.6m-3-4.8m2.8 17.8m-5.9-44.2m2.6 15.5m-0.2 7.8m2.4 23.1m-0.7-27m1.8-59m-0.9 65.5m-4.4 3.9m2.7 65.8m3.3-90.4m0-1.6m-1.3 3.4m0-11.8m0.9 15m-5.3 14.3"/>
<path class="b" d="M499.5 435.6m-4.1-5.3m5.1 32.6m-2.5 40.5m-2.8-153.7m7.6 91.9m-3.6-30m0.8-30.3m0.8 33.9m1.2-4.9m-6.4 32.3m1.1 14.1m6.4-23.7m-5.1-17.8m5.4-9.6m0.3 6.3m-7.7 19.6m8-35.9m-4 49.9m-4.5-59.6m6.5 38.3m-2.6-48.7m-4.2 41.7m0.1-13.9m8.5 86.9m-5-103.2"/>
<path class="r" d="M505.1 382.3m7.9 34.7m-2.6-62.2m-3.2 119.8m0.4-64.8m-3.2 8.2m2.1 18.5m4.3-37.5m1.1 4.8m1.5 15.6m-4.1-78.3m-4.5 59.7m6.9-15.2m-7.3 59.9m8.1-54.1m-1.4 57.8m-6.1-25.9m6.7-1.2m-4.1 37.6m1.6-77.3m1.4 41m2.4 0.3m-8.4 2.3m8.7-66.8m-4.4 57.1m-0.3-30.4"/>
<path class="b" d="M505.8 525.4m2.8-54m-3.5 21.4m5.1-64m-4.1 29.5m2-110.1m-0.6 53.4m5.2 1.8m-5.5 46.7m4.1-36.3m-3.9 20.9m0.3 35.5m-2.9-68.5m7.6 31.4m0.3 5m0.6-12.9m-0.7 2m-2.6 10.4m2.8-39m-4.9 15.8m1.9 9.3m0.4-50.8m0.5 57.9m1.7 0.4m-6.1-2.7m4.8-27.8"/>
<path class="r" d="M522.2 512.5m-4.4-190.6m4 125.5m-5.2-49.8m1.2 62.1m3.3-78.5m-4.9 50.4m-2-24.3m7.4 60.8m-3.7-19m-1.7-55.8m-1 44.4m3.5-28.4m1.2-54.1m-3.5 99.8m-0.9-9.4m3.5-22.9m0-72.3m1.5 135.3m-1.8-154.7m-4.4-7.7m5.8 40.4m-2.5 39.4m-3.5 3.3m1.7-6.6"/>
<path class="b" d="M515.2 461.5m0.1-34m3.7 3.6m-4-101m3.7 124.5m-2 51.5m-2.1-121.1m0.7 7.2m-0.4 58m5.3-61.6m0.9 32.3m-5.3 28.8m2.5-12.7m2.7 58.4m-6.6-75.2m-0.6 36.9m6.9 19.7m-0.6-62.2m-2.9-84.1m-3.3 110.3m1 12.8m2.6-102.3m4.2 31.8m-3.9-4.8m-1.4 43.8m-1.9-73.6"/>
<path class="r" d="M525.5 378.3m1.4-4m0.3 37.5m-3.2 102.6m5.2-50.9m-4.5-84m4.9 43.9m-3.2 6.9m2.8-8m-5.1 22.6m4-33.4m-4.7 24m4.8-19.6m-5.4 2.5m4.7-15.9m-2.6-16.8m6.5 19.3m-5.1-7.2m3.6-20.2m-2.8 69.8m4.2-47.9m-6.7 39.6m2.1-8.3m-1.4-54.7m-0.2-13.8m0.5 39.3"/>
<path class="b" d="M525.9 385.7m3.3-56.4m-5.3 143.5m5.5-67.5m1.5 33.8m0.3-57.5m-6.4-55m1.8-1.8m3.4 148.3m1.6-49.3m-4.4-37.1m-1 26.1m-3.1-46.5m5.8 76.2m1.3-117.2m-7.1 91.4m8.6-35.7m-1.6 79.1m-4.4-1m1.9-81.7m-0.6 60.3m1.5-87.3m-4.2 116.9m2.5-26.8m0.1-48.5m-3.9-10.9"/>
<path class="r" d="M533.7 458.9m1.9-8m-3.8 29.1m4.6 11.3m0.2-10.6m-2.5-21.8m2.5-90.9m1.8 155.5m-4.5-93.2m-0.2 39.9m0.8 14.6m4.9 0.8m1.1-5.3m-5.7-23.9m6.1 65.5m-6.7-52.3m5.5 40.5m-0.9-15.1m-1-19.6m-2.9-12.1m-1.2 32.6m1.4-34m-1.8 17m2.4-23.6m-1.8 14.7m3.9-26.5"/>
<path class="b" d="M539.5 469.7m-5.1-17m0.3-1.6m1.9-7.9m3.2 103.2m-3.1-74.9m1.9 3.2m1.4-34.1m-0.9 11.6m-6.8 19.4m8.4 26.5m-3.5-14.2m2.9 34.2m0-52m-8.2-68.5m4.3 24.7m1.8 39.3m0.3-34.2m-5.1 18.7m3.7 100.9m-2-42.8m1-61.5m1-14.6m0.5 23m-2.1 17.9m-0.6-8"/>
<path class="r" d="M550 466.4m-8.1-30.3m7.5 30.2m-5.2 3.5m4.3 37m0.8-66.5m-5 59.7m0.2-63.1m-3.2 101.2m6.3-17.9m0-85m-0.8 20.5m2.8 52.6m-2-28.6m-5.7-30.4m0.2-30.7m-0.9 18.3m7.5 119.6m-5.9-29m5.2-47.3m-0.4 16.2m0.7-7.9m-3.1 78m-0.7-191.8m4.2 94.3m1.3 33.8"/>
<path class="b" d="M546.9 397.4m-4.8 117.2m3.3-139.1m-1.7 78.3m-0.6 2.6m-0.4-39.6m3.3 63.3m3-67.3m-3.7 81.5m3.5-12.4m-3-47.8m3.1 14.7m1.2-28.4m-8.4-28.4m1.8 137.9m3-23.9m1.3 33.2m2-104.5m-4.8-35.1m-0.9 64.2m3.5 46.6m-4.4-49.3m3.4-77.3m-0.9 35.2m-2.3 76.7m3.1 18"/>
<path class="r" d="M554.6 487.8m1 22.1m2.3-76.5m-1.1 43.2m-5.6 12.6m7.1-0.3m-7.8-58.9m7 27.6m-6.4-23m0.4 11.9m5.2 20.1m-6.1 31.5m0.2-90.1m1.7 64.8m3.9-29.5m1.4 35.6m-0.6-8.6m-5 6.9m1.5-4.7m-0.7-61.2m-0.7 26.8m1.7 16.9m0.8-19.1m1.5 26.9m-0.6-9.1m-3.4 9.5"/>
<path class="b" d="M553.6 475.3m3.8 13.5m-7.3-17.1m4.1 32.5m-0.9-54.4m3.8 34.3m-6.5-25m6.8-17.8m1.7-4.8m-6.4 20.6m6.5-38.6m-1 2.3m-5.9 68.3m6.4-25.1m-4.5 31.9m4.1-71.7m-0.9 37.5m-4.4 18.8m-1.7-41.9m1.5-24.3m4-6.3m-3.9 87.7m0.9-9.2m-0.6-24.1m-3.1 6.6m5.7-16.7"/>
<path class="r" d="M563.4 449.4m4.6 27.6m-0.2-76.4m-2.4 29.1m0.4 39m0.8-61.7m-5.2 48.6m-0.5 1.5m-0.1-12.2m-0.9 39.3m7.8-73.8m-8.3 81.6m8.3 1m-2.5-27m1.5-1.1m-2.5 31.8m-4.5-18.1m6-48.8m0.6 46.8m-5.5 13.8m6.2-12.4m-5.9 30m1.6-60.5m-0.4 80.8m-2-62.6m2.6-57.4"/>
<path class="b" d="M563.1 460.3m-3.5-54.3m2.8 59.9m3.8 2.7m-4.8-51.5m-1.7 7.2m5.7 32.4m1.2 65.2m-7.3-68.6m3 51.5m0.4 14.8m-0.6-69.8m4.9-5.5m-3.4-4.1m1.5 10.7m-1.8 39m-1.5-149.5m4.2 109.2m-3.8-54.1m1.7 31.1m-2.6 32.8m2.1 35.3m1.7-80.7m-0.5 71.2m-1.8-8.5m0-61"/>
<path class="r" d="M574.6 424.5m-3 57.3m1.4 0.6m3.8-43m0.5 13m-0.7 35.2m-5.7-22.7m4.3 0.6m-2.4 2.8m4.1-68.6m0.5 37m-6.1 0m4.7 44m0.4-69.9m-7.3 62.7m0.3-17.8m6.2 52.2m-1-35.4m0 24.6m-4.7-22.4m1.9-30.4m4.1 39m-2.9-24.9m1.3 17.7m3.3-41.9m-2.9-60.9"/>
<path class="b" d="M575.7 447.6m-1.1 24.3m0-51.3m-3.9 33.3m0 62.7m6.4-1.8m-0.8-22m-6.1-80.1m3.3 59.8m-5-68.7m6.3 70.9m-3.1-23.8m-0.5 14.5m-0.7-21.6m0.7 63.8m6-26.6m-2.8-25.7m0.4-58.4m2.3 88.6m-2.8-15.4m-0.1 53.5m0.3-141.1m1.8 78.5m-4.5-27m-0.1 50.7m-1.4-12.1"/>
<path class="r" d="M585.6 461.9m0-36.4m-4.4 49.4m-0.4-45m4.4 68.4m-3.8-25.8m-1.3-38.8m1.9 23.1m1.9-4m2.2 86.1m-6.2-113.3m6.4 19.2m-3.3 26.3m-1.5-9.7m1.4 36.1m-2.3-72.8m3.9 20.4m-2.5-9.1m1.8-23.8m-2.6 66.8m2.8 27.9m-5.1-41.3m6.6-106.3m-2.9 92.4m-4.9 61m8.8-13.2"/>
<path class="b" d="M585.5 486.2m-5.3-48m1.2 19.8m0.2 42.8m4.6-33.6m-2.5-35.2m-1.9 82.3m-1.2-6.9m-2.9-43.6m3.8-3.2m5.1 17.9m-4 45.5m4.1-115.8m-3.6 93.2m-0.8 1.9m1.2 16.6m0.7-97m-3.6 90.4m0.2-2.5m-1.1-34.8m-0.2-66m-0.8 12.6m0.9-34.6m4.7 86.9m2.2-39.3m-6.4 45"/>
<path class="r" d="M589.4 496.3m-0.2 69.1m2.9-8m1.7-72.7m-4.3-64.6m1.1 23m-1.5 25.9m6.6 6.7m-2.2-17.5m1.4 54.3m-7.7-92.5m3.9 39.8m2.3 17m-6.1 26.6m5.7-63m-3.8 60.5m6.2 16.3m-3.6 7.2m-3.3-47.3m-0.8-35.8m6.1 12.8m-4.7 50.9m-0.6 49.7m6.9-89.7m0.1 0.7m-4.6 50.3"/>
<path class="b" d="M593.5 464m1 41.8m1-49.8m-2.2 28.5m-1.5 22.7m-3.9-69m1.5 123.9m5-133.4m0.7-22.8m-1.9 91.8m-1.5-11m2.6 17m-3-70.4m-3.8 39.5m7 22.2m-3.8-82.6m3.4 100m-2.7-32.9m3.8-14m0.7-11.6m-0.5 69m-7.2-47.2m2.1 3.6m2.7 18.5m-0.7 54.1m-3.2-117.5"/>
<path class="r" d="M603.8 459.3m-3.7 68.4m0.8-83.2m-0.2 4.2m4 12.8m-2.3 36.1m-4.3 28.6m5.2-18.8m-1.7-8.8m0.3 5.5m-1.9 11.7m1.9-94.9m-2.1 72m5.3-41.5m-3.1 38.2m-0.6-17.5m-2.9-27.7m-2.1-41.3m2.7 82m-0.7 11m2.2 12.9m1.3-44.6m1.8 29m-3.5 68m4-112.3m-7.8 81.9"/>
<path class="b" d="M603.6 442.4m1 19.4m-3.9 16.5m-4 14.3m3.6-28.1m4.5 79.9m-0.7-67.5m-7.5 30.6m7.7-28.3m-0.2-13.8m-2.3 59.7m-0.2-40m-3-10.6m-1.6 6.8m2.9-43.5m2.1 115.3m-1.6-93.3m-4.1-21.2m4.1 48.3m4.2-23m-5.6 7.4m1.9 68.7m-3.9-106.3m2.9 56.5m-1.7 33.7"/>
<path class="r" d="M612.8 497.8m0.9 4.9m-6.9-39.7m0.3 24.7m6.3 6.2m-4.2 27.2m-3.2-46.1m6.5 19.9m-6.5 19.2m7.8-84.8m-4.2 52.4m-1.6-22.9m5.1 51.5m-4.3-32.9m2.9 5.4m-0.5 33.8m-1.5 19m1.2-27.8m-1.6 8.9m-2.6-26m0-64.7m7.2 25.1m-5.7 6.5m-0.5 57.4m0.9-45m-3.2 17.7"/>
<path class="b" d="M612.3 440.6m-0.4 30.2m-4-15.2m3-0.9m-1.2 5.6m3.9-17m-4.3-21.1m4 71.3m-3.1-52.7m-3.6-32.4m-1.3 102.4m2.8-52.7m2.5-28m-2.3 19.1m-1.9 48.7m-1.2-22m2.8-20.3m5 88m-1.3-40.1m-0.2-62.7m1.9 21.6m-3.8 14.2m-0.1-30.7m2.6 49.3m-2.5 49.6"/>
<path class="r" d="M616.4 432.1m5.9 86.8m-5.4-7.9m0.9-21.1m-0.2-15.5m1 38m-3.7-19.1m5.3 1.4m-2.2-63.2m1.3 12.5m1.3 39.3m-4.4-30.1m1.1-4m5.9 26m-6.3 71m4-29.7m2.3-36.6m-5.3-11.3m-2.1-25.6m4.2-0.9m0.5-56.8m-5.8 121.1m5.9 40.5m-3.1-19.9m4.6-80.8m-2.5 32"/>
<path class="b" d="M614.8 462.8m5.1-18m2.2 76.6m-6.6-56.1m7.8 30.9m-4.6 0.9m3.3-49.4m-3.5 70.4m1-72.8m-4.4 71.8m7.5-36.2m-4.1 28.2m2.1-39.1m0.1-5.1m2.6 44.2m-1.9-56.3m1.6 69m-5.3-5.8m2.7-19.8m2.3 3.5m-7-24.7m-0.8 94.3m4.1-42.4m-2-3.4m-0.6-105.4m5.2 105"/>
<path class="r" d="M630 453.9m-2.3 43.2m-2.4 1m2.9 13.6m-0.4-44m0.3 15.3m1.2 1m-4.4 53.3m3.1 4.1m-1.7-29.5m3.8-12.3m-4.9-71.2m-1.1 65m3.1-73.2m-0.2 59.3m1.8 3.2m2.1 22m-5.9-36.3m4.7 3.4m-2.3-30.7m-1.3 56.5m-2-36.5m-0.2 7.7m5.2 49.8m-0.4-30.9"/>
<path class="b" d="M627.4 467m4.9-23.8m-3.4-4.4m0.8 13.8m-4.9 60.6m5.6 3.7m-5.8-37.4m-1 20.1m2.4-57.6m4.2 7.1m-3 23.7m-2.5 99.4m5-42.7m-0.4-85.7m-0.1 91.3m1.5-85.5m-6.2 33.3m5.4 30m-1.8-52.2m-2.2-8.5m4.9 12.6m0.7 55m-6 35m-1.2-42.2m3.4-86.9m-0.2 76.7"/>
<path class="r" d="M636.5 453.7m1.6 82.3m-1.6-0.8m-2.3-61.2m4.6-16m-5-45.4m0.9 143.3m5.4-88.2m0.9-7m-5.9 13.7m4.7-31.1m1.3-16.2m-2.6 112.2m-4.6-52m7.4-19.9m-2.1 49.4m-3.5-75.4m2.9 28.3m2.1 25.3m-3.9-50.9m-1.7 15.2m5.2 70m-0.9-45.7m-4.6 8.9m0.8-46.2m6 91.5"/>
<path class="b" d="M640.2 451.2m0.1 30.2m0 16.7m-2.4 15.4m2.8 10.2m-6 27.9m1.6-52.5m-2.7-33.7m5.4 16m-5.3 14.4m5.9 7.9m-3.4-63.3m5.5-2.6m-1.2 101.8m-6.8-71.9m-0.5 44.1m4.7-38.7m-5.1-29.7m5.6 30.4m-4.8 43.8m6-80m-6.7-41.9m2.9 29.1m5.9 53.7m-2.2 23.5m-0.2 32.3"/>
<path class="r" d="M642.2 474.7m4.2 25m-2.8 3.6m0.7-19.6m5.6 4.2m-5 1.5m1.2 0.6m-2.1 6.8m2.4 34.9m-1.8-49.6m-0.3 47.5m1.3-110.8m-1.1 87.5m-1.9-104m4.5 96.9m-4.3-80.5m2.4 104.5m-2.1-79.5m6.8 71.4m-4.1-23.8m-0.4-1.4m-2.2 4.3m5.3-29.1m-4.1 46.6m-1.3-61.6m7.5 12.7"/>
<path class="b" d="M649.2 449.4m0.6 47.3m-7.9-8.7m3.7 40.2m2.6-18.3m-1.1 54m2.6-85.9m-6.8 26.5m2-5.1m5.9-8.2m-0.6 21.3m-7.1-70.3m1.9 47.9m1.8 15.9m-2 3.6m5.4-26.1m-4.8-34.7m2.1-20m-3.5 73m0.1 36.6m4.1-18.2m1.8 13.9m-6.7-37.4m5.5-31.8m-3.7 56m0.4-43.8"/>
<path d="M41.1 408.1V553.7M50.3 413.1V546.9M59.4 405.8V561M68.6 410.2V569.2M77.8 400V575.6M86.9 408.1V555.1M96.1 406.4V556.6M105.3 421.9V549.3M114.5 413.1V547.8M123.6 402.3V569.2M132.8 405.8V559.5M142 385.9V557.5M151.1 381.8V559.5M160.3 385.9V533.2M169.5 394.6V553.7M178.7 406.4V546.3M187.8 377.1V549.3M197 388.8V547.8M206.2 402.3V533.2M215.3 385.3V551.6M224.5 388.2V540.5M242.9 388.2V522.9M252 376.5V522.9M261.2 367.7V556.6M270.4 403.4V541.1M279.5 375V558M288.7 385.3V518.5M297.9 389.7V542M307.1 386.7V541.4M316.2 380.9V533.2M325.4 391.7V517M334.6 352.5V517.6M343.8 369.2V520M352.9 345.7V527.3M362.1 365.4V502.4M371.3 373.6V515.6M380.4 341.4V580M389.6 356.6V563.9M398.8 375.9V504.8M408 349.6V509.7M417.1 336.1V505.3M426.3 364.8V488.4M435.5 332V531.7M444.6 334.9V528.2M453.8 337V479M463 334.9V468.7M472.2 350.1V505.3M481.3 345.7V514.1M490.5 353.1V487.8M499.7 358.9V484.8M508.8 354.5V498M518 323.8V505.3M527.2 327.3V496.6M536.4 397.6V536.1M545.5 370V549.3M554.7 392.6V515.6M563.9 382.3V524.4M573 381.8V543.4M582.2 378.8V536.1M591.4 393.5V558M600.6 405.2V562.4M609.7 408.1V543.4M618.9 405.8V572.7M628.1 402.8V556.6M637.2 414.6V549.3M646.4 415.1V553.7" stroke="#383838" stroke-width="0.9" fill="none"/>
<path d="M41.1 481.3L50.3 481.3L59.4 483.4L68.6 489.8L77.8 488.4L86.9 481.3L96.1 481.3L105.3 485.7L114.5 479.9L123.6 486.3L132.8 482.2L142 472.2L151.1 470.2L160.3 459.1L169.5 474.6L178.7 473.1L187.8 466.1L197 468.1L206.2 467.3L215.3 468.1L224.5 464.3L242.9 455.6L252 449.1L261.2 462L270.4 472.2L279.5 465.8L288.7 452L297.9 465.8L307.1 464.3L316.2 456.1L325.4 455L334.6 435.1L343.8 445.3L352.9 436.5L362.1 434.2L371.3 444.4L380.4 460L389.6 460L398.8 440.9L408 429.8L417.1 421L426.3 426.9L435.5 432.1L444.6 431.5L453.8 411L463 402L472.2 427.4L481.3 429.8L490.5 419.5L499.7 421L508.8 426.3L518 415.1L527.2 411.6L536.4 466.7L545.5 459.1L554.7 453.8L563.9 453.8L573 462.9L582.2 457.3L591.4 475.5L600.6 484.2L609.7 476L618.9 489.2L628.1 479.9L637.2 481.9L646.4 484.3" stroke="#000" stroke-width="2" fill="none" stroke-linejoin="round"/>
<path d="M38.6 481.3a2.5 2.5 0 1 0 5 0a2.5 2.5 0 1 0 -5 0M47.8 481.3a2.5 2.5 0 1 0 5 0a2.5 2.5 0 1 0 -5 0M56.9 483.4a2.5 2.5 0 1 0 5 0a2.5 2.5 0 1 0 -5 0M66.1 489.8a2.5 2.5 0 1 0 5 0a2.5 2.5 0 1 0 -5 0M75.3 488.4a2.5 2.5 0 1 0 5 0a2.5 2.5 0 1 0 -5 0M84.4 481.3a2.5 2.5 0 1 0 5 0a2.5 2.5 0 1 0 -5 0M93.6 481.3a2.5 2.5 0 1 0 5 0a2.5 2.5 0 1 0 -5 0M102.8 485.7a2.5 2.5 0 1 0 5 0a2.5 2.5 0 1 0 -5 0M112 479.9a2.5 2.5 0 1 0 5 0a2.5 2.5 0 1 0 -5 0M121.1 486.3a2.5 2.5 0 1 0 5 0a2.5 2.5 0 1 0 -5 0M130.3 482.2a2.5 2.5 0 1 0 5 0a2.5 2.5 0 1 0 -5 0M139.5 472.2a2.5 2.5 0 1 0 5 0a2.5 2.5 0 1 0 -5 0M148.6 470.2a2.5 2.5 0 1 0 5 0a2.5 2.5 0 1 0 -5 0M157.8 459.1a2.5 2.5 0 1 0 5 0a2.5 2.5 0 1 0 -5 0M167 474.6a2.5 2.5 0 1 0 5 0a2.5 2.5 0 1 0 -5 0M176.2 473.1a2.5 2.5 0 1 0 5 0a2.5 2.5 0 1 0 -5 0M185.3 466.1a2.5 2.5 0 1 0 5 0a2.5 2.5 0 1 0 -5 0M194.5 468.1a2.5 2.5 0 1 0 5 0a2.5 2.5 0 1 0 -5 0M203.7 467.3a2.5 2.5 0 1 0 5 0a2.5 2.5 0 1 0 -5 0M212.8 468.1a2.5 2.5 0 1 0 5 0a2.5 2.5 0 1 0 -5 0M222 464.3a2.5 2.5 0 1 0 5 0a2.5 2.5 0 1 0 -5 0M240.4 455.6a2.5 2.5 0 1 0 5 0a2.5 2.5 0 1 0 -5 0M249.5 449.1a2.5 2.5 0 1 0 5 0a2.5 2.5 0 1 0 -5 0M258.7 462a2.5 2.5 0 1 0 5 0a2.5 2.5 0 1 0 -5 0M267.9 472.2a2.5 2.5 0 1 0 5 0a2.5 2.5 0 1 0 -5 0M277 465.8a2.5 2.5 0 1 0 5 0a2.5 2.5 0 1 0 -5 0M286.2 452a2.5 2.5 0 1 0 5 0a2.5 2.5 0 1 0 -5 0M295.4 465.8a2.5 2.5 0 1 0 5 0a2.5 2.5 0 1 0 -5 0M304.6 464.3a2.5 2.5 0 1 0 5 0a2.5 2.5 0 1 0 -5 0M313.7 456.1a2.5 2.5 0 1 0 5 0a2.5 2.5 0 1 0 -5 0M322.9 455a2.5 2.5 0 1 0 5 0a2.5 2.5 0 1 0 -5 0M332.1 435.1a2.5 2.5 0 1 0 5 0a2.5 2.5 0 1 0 -5 0M341.2 445.3a2.5 2.5 0 1 0 5 0a2.5 2.5 0 1 0 -5 0M350.4 436.5a2.5 2.5 0 1 0 5 0a2.5 2.5 0 1 0 -5 0M359.6 434.2a2.5 2.5 0 1 0 5 0a2.5 2.5 0 1 0 -5 0M368.8 444.4a2.5 2.5 0 1 0 5 0a2.5 2.5 0 1 0 -5 0M377.9 460a2.5 2.5 0 1 0 5 0a2.5 2.5 0 1 0 -5 0M387.1 460a2.5 2.5 0 1 0 5 0a2.5 2.5 0 1 0 -5 0M396.3 440.9a2.5 2.5 0 1 0 5 0a2.5 2.5 0 1 0 -5 0M405.5 429.8a2.5 2.5 0 1 0 5 0a2.5 2.5 0 1 0 -5 0M414.6 421a2.5 2.5 0 1 0 5 0a2.5 2.5 0 1 0 -5 0M423.8 426.9a2.5 2.5 0 1 0 5 0a2.5 2.5 0 1 0 -5 0M433 432.1a2.5 2.5 0 1 0 5 0a2.5 2.5 0 1 0 -5 0M442.1 431.5a2.5 2.5 0 1 0 5 0a2.5 2.5 0 1 0 -5 0M451.3 411a2.5 2.5 0 1 0 5 0a2.5 2.5 0 1 0 -5 0M460.5 402a2.5 2.5 0 1 0 5 0a2.5 2.5 0 1 0 -5 0M469.7 427.4a2.5 2.5 0 1 0 5 0a2.5 2.5 0 1 0 -5 0M478.8 429.8a2.5 2.5 0 1 0 5 0a2.5 2.5 0 1 0 -5 0M488 419.5a2.5 2.5 0 1 0 5 0a2.5 2.5 0 1 0 -5 0M497.2 421a2.5 2.5 0 1 0 5 0a2.5 2.5 0 1 0 -5 0M506.3 426.3a2.5 2.5 0 1 0 5 0a2.5 2.5 0 1 0 -5 0M515.5 415.1a2.5 2.5 0 1 0 5 0a2.5 2.5 0 1 0 -5 0M524.7 411.6a2.5 2.5 0 1 0 5 0a2.5 2.5 0 1 0 -5 0M533.9 466.7a2.5 2.5 0 1 0 5 0a2.5 2.5 0 1 0 -5 0M543 459.1a2.5 2.5 0 1 0 5 0a2.5 2.5 0 1 0 -5 0M552.2 453.8a2.5 2.5 0 1 0 5 0a2.5 2.5 0 1 0 -5 0M561.4 453.8a2.5 2.5 0 1 0 5 0a2.5 2.5 0 1 0 -5 0M570.5 462.9a2.5 2.5 0 1 0 5 0a2.5 2.5 0 1 0 -5 0M579.7 457.3a2.5 2.5 0 1 0 5 0a2.5 2.5 0 1 0 -5 0M588.9 475.5a2.5 2.5 0 1 0 5 0a2.5 2.5 0 1 0 -5 0M598.1 484.2a2.5 2.5 0 1 0 5 0a2.5 2.5 0 1 0 -5 0M607.2 476a2.5 2.5 0 1 0 5 0a2.5 2.5 0 1 0 -5 0M616.4 489.2a2.5 2.5 0 1 0 5 0a2.5 2.5 0 1 0 -5 0M625.6 479.9a2.5 2.5 0 1 0 5 0a2.5 2.5 0 1 0 -5 0M634.7 481.9a2.5 2.5 0 1 0 5 0a2.5 2.5 0 1 0 -5 0M643.9 484.3a2.5 2.5 0 1 0 5 0a2.5 2.5 0 1 0 -5 0" stroke="#000" stroke-width="1.9" fill="none"/>
</g>
<path d="M45.7 579.3v-3.3M45.7 315.3v3.3M54.8 579.3v-3.3M54.8 315.3v3.3M64 579.3v-3.3M64 315.3v3.3M73.2 579.3v-3.3M73.2 315.3v3.3M82.4 579.3v-3.3M82.4 315.3v3.3M91.5 579.3v-3.3M91.5 315.3v3.3M100.7 579.3v-6.3M100.7 315.3v6.3M109.9 579.3v-3.3M109.9 315.3v3.3M119 579.3v-3.3M119 315.3v3.3M128.2 579.3v-3.3M128.2 315.3v3.3M137.4 579.3v-3.3M137.4 315.3v3.3M146.6 579.3v-3.3M146.6 315.3v3.3M155.7 579.3v-3.3M155.7 315.3v3.3M164.9 579.3v-6.3M164.9 315.3v6.3M174.1 579.3v-3.3M174.1 315.3v3.3M183.2 579.3v-3.3M183.2 315.3v3.3M192.4 579.3v-3.3M192.4 315.3v3.3M201.6 579.3v-3.3M201.6 315.3v3.3M210.8 579.3v-3.3M210.8 315.3v3.3M219.9 579.3v-3.3M219.9 315.3v3.3M229.1 579.3v-6.3M229.1 315.3v6.3M238.3 579.3v-3.3M238.3 315.3v3.3M247.4 579.3v-3.3M247.4 315.3v3.3M256.6 579.3v-3.3M256.6 315.3v3.3M265.8 579.3v-3.3M265.8 315.3v3.3M275 579.3v-3.3M275 315.3v3.3M284.1 579.3v-3.3M284.1 315.3v3.3M293.3 579.3v-6.3M293.3 315.3v6.3M302.5 579.3v-3.3M302.5 315.3v3.3M311.6 579.3v-3.3M311.6 315.3v3.3M320.8 579.3v-3.3M320.8 315.3v3.3M330 579.3v-3.3M330 315.3v3.3M339.2 579.3v-3.3M339.2 315.3v3.3M348.3 579.3v-3.3M348.3 315.3v3.3M357.5 579.3v-6.3M357.5 315.3v6.3M366.7 579.3v-3.3M366.7 315.3v3.3M375.9 579.3v-3.3M375.9 315.3v3.3M385 579.3v-3.3M385 315.3v3.3M394.2 579.3v-3.3M394.2 315.3v3.3M403.4 579.3v-3.3M403.4 315.3v3.3M412.5 579.3v-3.3M412.5 315.3v3.3M421.7 579.3v-6.3M421.7 315.3v6.3M430.9 579.3v-3.3M430.9 315.3v3.3M440.1 579.3v-3.3M440.1 315.3v3.3M449.2 579.3v-3.3M449.2 315.3v3.3M458.4 579.3v-3.3M458.4 315.3v3.3M467.6 579.3v-3.3M467.6 315.3v3.3M476.7 579.3v-3.3M476.7 315.3v3.3M485.9 579.3v-6.3M485.9 315.3v6.3M495.1 579.3v-3.3M495.1 315.3v3.3M504.3 579.3v-3.3M504.3 315.3v3.3M513.4 579.3v-3.3M513.4 315.3v3.3M522.6 579.3v-3.3M522.6 315.3v3.3M531.8 579.3v-3.3M531.8 315.3v3.3M540.9 579.3v-3.3M540.9 315.3v3.3M550.1 579.3v-6.3M550.1 315.3v6.3M559.3 579.3v-3.3M559.3 315.3v3.3M568.5 579.3v-3.3M568.5 315.3v3.3M577.6 579.3v-3.3M577.6 315.3v3.3M586.8 579.3v-3.3M586.8 315.3v3.3M596 579.3v-3.3M596 315.3v3.3M605.1 579.3v-3.3M605.1 315.3v3.3M614.3 579.3v-6.3M614.3 315.3v6.3M623.5 579.3v-3.3M623.5 315.3v3.3M632.7 579.3v-3.3M632.7 315.3v3.3M641.8 579.3v-3.3M641.8 315.3v3.3M36.5 579.3h6M651 579.3h-6M36.5 552.9h6M651 552.9h-6M36.5 526.5h6M651 526.5h-6M36.5 500.1h6M651 500.1h-6M36.5 473.7h6M651 473.7h-6M36.5 447.3h6M651 447.3h-6M36.5 420.9h6M651 420.9h-6M36.5 394.5h6M651 394.5h-6M36.5 368.1h6M651 368.1h-6M36.5 341.7h6M651 341.7h-6M36.5 315.3h6M651 315.3h-6" stroke="#5a5a5a" stroke-width="0.9" fill="none"/>
<path d="M36.5 315.3H651V579.3H36.5Z" stroke="#5a5a5a" stroke-width="1" fill="none"/>
<text x="35.1" y="592.7" font-size="10.6" text-anchor="middle" fill="#262626">Jul/05/15</text>
<text x="99.3" y="592.7" font-size="10.6" text-anchor="middle" fill="#262626">Jul/12</text>
<text x="163.5" y="592.7" font-size="10.6" text-anchor="middle" fill="#262626">Jul/19</text>
<text x="227.7" y="592.7" font-size="10.6" text-anchor="middle" fill="#262626">Jul/26</text>
<text x="291.9" y="592.7" font-size="10.6" text-anchor="middle" fill="#262626">Aug/02</text>
<text x="356.1" y="592.7" font-size="10.6" text-anchor="middle" fill="#262626">Aug/09</text>
<text x="420.3" y="592.7" font-size="10.6" text-anchor="middle" fill="#262626">Aug/16</text>
<text x="484.5" y="592.7" font-size="10.6" text-anchor="middle" fill="#262626">Aug/23</text>
<text x="548.7" y="592.7" font-size="10.6" text-anchor="middle" fill="#262626">Aug/30</text>
<text x="612.9" y="592.7" font-size="10.6" text-anchor="middle" fill="#262626">Sep/06</text>
<text transform="translate(31.8 580.6) rotate(-90)" font-size="10.6" text-anchor="middle" fill="#262626">-2</text>
<text transform="translate(31.8 554.2) rotate(-90)" font-size="10.6" text-anchor="middle" fill="#262626">-1.5</text>
<text transform="translate(31.8 527.8) rotate(-90)" font-size="10.6" text-anchor="middle" fill="#262626">-1</text>
<text transform="translate(31.8 501.4) rotate(-90)" font-size="10.6" text-anchor="middle" fill="#262626">-0.5</text>
<text transform="translate(31.8 475) rotate(-90)" font-size="10.6" text-anchor="middle" fill="#262626">0</text>
<text transform="translate(31.8 448.6) rotate(-90)" font-size="10.6" text-anchor="middle" fill="#262626">0.5</text>
<text transform="translate(31.8 422.2) rotate(-90)" font-size="10.6" text-anchor="middle" fill="#262626">1</text>
<text transform="translate(31.8 395.8) rotate(-90)" font-size="10.6" text-anchor="middle" fill="#262626">1.5</text>
<text transform="translate(31.8 369.4) rotate(-90)" font-size="10.6" text-anchor="middle" fill="#262626">2</text>
<text transform="translate(31.8 343) rotate(-90)" font-size="10.6" text-anchor="middle" fill="#262626">2.5</text>
<text transform="translate(31.8 316.6) rotate(-90)" font-size="10.6" text-anchor="middle" fill="#262626">3</text>
<text transform="translate(16.7 457.8) rotate(-90)" font-size="11.6" text-anchor="middle" fill="#000" xml:space="preserve">Time shift (ms)   (Tps-Tp on GP10)</text>
<text x="0.5" y="319.5" font-size="14" font-weight="bold" fill="#000">(b)</text>
<path d="M100.7 622.5V886.5M164.9 622.5V886.5M229.1 622.5V886.5M293.3 622.5V886.5M357.5 622.5V886.5M421.7 622.5V886.5M485.9 622.5V886.5M550.1 622.5V886.5M614.3 622.5V886.5M36.5 848.8H651M36.5 811.1H651M36.5 773.4H651M36.5 735.6H651M36.5 697.9H651M36.5 660.2H651" stroke="#e3e3e3" stroke-width="0.8" fill="none"/>
<g clip-path="url(#cc)">
<path d="M36.5 834.4L36.7 834.1L36.9 835.8L37.1 830.9L37.3 832.7L37.5 828.5L37.7 831.7L37.9 828.8L38.1 828.7L38.3 824.2L38.5 823.7L38.7 820.8L38.9 818.2L39.1 817.7L39.3 813.6L39.5 813.4L39.7 813.7L39.9 811.1L40.1 808.9L40.3 812.8L40.5 807.6L40.7 805.3L40.9 806.1L41.1 803.9L41.3 803.6L41.5 803.2L41.7 808.1L41.9 803.4L42.1 803.6L42.3 804.6L42.5 806.7L42.7 802.6L42.9 802.1L43.1 808.1L43.3 801.9L43.5 804.9L43.7 808.2L43.9 812.6L44.1 810L44.3 810.3L44.5 816.9L44.7 817L44.9 818.5L45.1 820.4L45.3 820.3L45.5 818.5L45.7 814.2L45.9 812L46.1 806.8L46.3 798.3L46.5 790.3L46.7 784.2L46.9 775.6L47.1 764.6L47.3 757L47.5 751.4L47.7 741.3L47.9 733.3L48.1 727.6L48.3 720.8L48.5 715.4L48.7 705.6L48.9 711.2L49.1 703.6L49.3 697.7L49.5 700.8L49.7 697.1L49.9 695L50.1 697.2L50.3 700.4L50.5 695.3L50.7 698.7L50.9 701.3L51.1 693.5L51.3 697.6L51.5 704.9L51.7 703.6L51.9 713.9L52.1 725.4L52.3 734L52.5 743.2L52.7 749.7L52.9 766.5L53.1 773L53.3 781L53.5 786.6L53.7 787.8L53.9 790.6L54.1 791.8L54.3 793.7L54.5 785.8L54.7 780.8L54.9 773.7L55.1 766.9L55.3 758.3L55.5 749.3L55.7 738L55.9 726.2L56.1 726.4L56.3 721L56.5 718.8L56.7 711.6L56.9 707.4L57.1 708.4L57.3 701.3L57.5 702.2L57.7 702.2L57.9 706.2L58.1 711.9L58.3 708.4L58.5 710.3L58.7 708.7L58.9 710.3L59.1 710.2L59.3 713L59.5 710.2L59.7 717L59.9 721L60.1 730.9L60.3 735.7L60.5 742.5L60.7 749.6L60.9 752.7L61.1 762.3L61.3 771L61.5 774.9L61.7 783.6L61.9 788.4L62.1 792.6L62.3 800.7L62.5 804.3L62.7 809.8L62.9 812.5L63.1 816.3L63.3 815L63.5 822L63.7 821.7L63.9 818.6L64.1 814L64.3 809.6L64.5 803.2L64.7 794.2L64.9 784.8L65.1 771L65.3 762.5L65.5 758.2L65.7 747.8L65.9 736.5L66.1 732L66.3 725.6L66.5 722.9L66.7 726.6L66.9 720.7L67.1 723.7L67.3 720.3L67.5 717.1L67.7 719.2L67.9 725.6L68.1 721.7L68.3 723.8L68.5 730.7L68.7 732.5L68.9 735.6L69.1 740.1L69.3 737.1L69.5 740.6L69.7 735.7L69.9 729.6L70.1 723.1L70.3 718.8L70.5 710L70.7 701.3L70.9 699.6L71.1 704.3L71.3 703.1L71.5 697.6L71.7 712.1L71.9 713.5L72.1 728L72.3 753.3L72.5 779.8L72.7 801.3L72.9 812.9L73.1 814.9L73.3 812.8L73.5 808L73.7 805L73.9 798.3L74.1 792.5L74.3 782.6L74.5 775.6L74.7 766.8L74.9 758L75.1 750.2L75.3 743.4L75.5 736.5L75.7 735.2L75.9 729.4L76.1 721.6L76.3 723.6L76.5 720.6L76.7 722.3L76.9 716.1L77.1 715.3L77.3 713.6L77.5 716.2L77.7 717.6L77.9 717.2L78.1 716.8L78.3 720.7L78.5 721.2L78.7 724.2L78.9 724.3L79.1 731.4L79.3 733.2L79.5 739.4L79.7 748.2L79.9 759.3L80.1 764.6L80.3 770.7L80.5 778.4L80.7 788L80.9 795.8L81.1 802.1L81.3 805.7L81.5 811L81.7 814L81.9 816.7L82.1 817.8L82.3 819.5L82.5 815.3L82.7 809.4L82.9 800.7L83.1 784.9L83.3 772.6L83.5 755L83.7 744.7L83.9 737.1L84.1 726.3L84.3 722.7L84.5 729.8L84.7 719.4L84.9 719.4L85.1 719.9L85.3 722L85.5 722.2L85.7 725.8L85.9 725.9L86.1 723.3L86.3 724.7L86.5 723.1L86.7 724.8L86.9 729L87.1 735.5L87.3 736.7L87.5 741.5L87.7 745.4L87.9 746.7L88.1 755.8L88.3 754.9L88.5 759.5L88.7 764.9L88.9 772.6L89.1 775.4L89.3 779.4L89.5 785.9L89.7 791.3L89.9 793.5L90.1 797L90.3 802.1L90.5 804.7L90.7 806.9L90.9 806.4L91.1 809.3L91.3 810.4L91.5 808.1L91.7 812.5L91.9 808.5L92.1 803.2L92.3 800.7L92.5 790.3L92.7 781.4L92.9 775.9L93.1 771.9L93.3 768.5L93.5 763.5L93.7 759.6L93.9 759.2L94.1 759.7L94.3 758.5L94.5 758.6L94.7 756.3L94.9 755.2L95.1 751.9L95.3 749.9L95.5 749.2L95.7 747.5L95.9 749L96.1 744.5L96.3 745.9L96.5 745.1L96.7 742.6L96.9 747.2L97.1 745.7L97.3 739.3L97.5 748.3L97.7 750.6L97.9 747.3L98.1 756.9L98.3 755.8L98.5 756.5L98.7 765.7L98.9 769.3L99.1 773.8L99.3 779.6L99.5 791.6L99.7 797.4L99.9 806.8L100.1 813.1L100.3 817.6L100.5 822.5L100.7 829.6L100.9 832.3L101.1 832.8L101.3 832.3L101.5 831.3L101.7 831.2L101.9 832.7L102.1 829.2L102.3 826.1L102.5 822.3L102.7 821.8L102.9 817.5L103.1 816.2L103.3 814.9L103.5 813.2L103.7 809.3L103.9 806.5L104.1 806L104.3 807.9L104.5 803.8L104.7 799L104.9 804.9L105.1 801.5L105.3 808.5L105.5 799.4L105.7 800.2L105.9 799.9L106.1 801.3L106.3 799.6L106.5 798.2L106.7 797.8L106.9 801.8L107.1 801.8L107.3 802.6L107.5 808.3L107.7 807.3L107.9 809.2L108.1 808.3L108.3 811.1L108.5 812L108.7 813.7L108.9 816.5L109.1 817.6L109.3 818.3L109.5 818.9L109.7 817.4L109.9 818.7L110.1 820.5L110.3 818.6L110.5 814.6L110.7 810.8L110.9 802.2L111.1 794.6L111.3 788.2L111.5 777.1L111.7 771.4L111.9 761.3L112.1 754.5L112.3 748.8L112.5 735L112.7 735.9L112.9 729.1L113.1 728.9L113.3 728.3L113.5 731.4L113.7 727.2L113.9 732.4L114.1 726L114.3 727.9L114.5 729.2L114.7 732.9L114.9 731.6L115.1 732.2L115.3 735.8L115.5 736.4L115.7 747.4L115.9 750.8L116.1 755.5L116.3 761.3L116.5 766.2L116.7 773.7L116.9 783L117.1 787.5L117.3 794.5L117.5 804.3L117.7 809.9L117.9 813L118.1 817.4L118.3 820.1L118.5 824.2L118.7 823.2L118.9 824.7L119.1 824.6L119.3 823.1L119.5 816.5L119.7 811.7L119.9 804.1L120.1 796.6L120.3 788.7L120.5 781.9L120.7 775.6L120.9 765L121.1 758.2L121.3 752.5L121.5 749L121.7 745.5L121.9 736.6L122.1 738.2L122.3 732.1L122.5 735.6L122.7 729.6L122.9 728.7L123.1 729.8L123.3 731.9L123.5 729.4L123.7 733.6L123.9 734.3L124.1 735.5L124.3 737.7L124.5 741.6L124.7 740.1L124.9 745.5L125.1 749.6L125.3 749.8L125.5 760.7L125.7 764.3L125.9 770.9L126.1 778L126.3 785.6L126.5 792.5L126.7 798.9L126.9 802.7L127.1 809.6L127.3 813.4L127.5 815.6L127.7 818.7L127.9 821.6L128.1 822.2L128.3 822.9L128.5 820.5L128.7 818.9L128.9 816.3L129.1 808.8L129.3 800.1L129.5 798.5L129.7 788.2L129.9 779.7L130.1 770.9L130.3 769.4L130.5 764.8L130.7 759.2L130.9 751.1L131.1 751.5L131.3 744L131.5 739.7L131.7 739.3L131.9 738L132.1 736.2L132.3 736.5L132.5 728.3L132.7 739.5L132.9 733.6L133.1 738.4L133.3 736.5L133.5 742.8L133.7 747.2L133.9 751.1L134.1 764L134.3 774L134.5 781L134.7 788.6L134.9 797.8L135.1 802.6L135.3 806.8L135.5 807.7L135.7 807.9L135.9 802.7L136.1 796.6L136.3 792.5L136.5 783.4L136.7 784.4L136.9 783.1L137.1 784.3L137.3 785.9L137.5 788.9L137.7 797.4L137.9 804.9L138.1 813.9L138.3 815.8L138.5 813.2L138.7 808.1L138.9 799.8L139.1 791.5L139.3 781.2L139.5 773.2L139.7 761.7L139.9 754.3L140.1 753.1L140.3 742.8L140.5 738.5L140.7 737.4L140.9 729.5L141.1 733.7L141.3 732.4L141.5 731.5L141.7 731.6L141.9 730.5L142.1 730.3L142.3 727L142.5 728L142.7 726.2L142.9 728.6L143.1 726.8L143.3 722.7L143.5 727.3L143.7 724.8L143.9 732.1L144.1 730.7L144.3 729.5L144.5 739L144.7 748.2L144.9 753.8L145.1 760L145.3 770.3L145.5 777.8L145.7 785.7L145.9 790L146.1 792.9L146.3 793.5L146.5 795.7L146.7 793L146.9 787.4L147.1 780.8L147.3 769.9L147.5 763.5L147.7 753.5L147.9 746.1L148.1 738.2L148.3 732.1L148.5 729.5L148.7 728.2L148.9 723.2L149.1 724.3L149.3 722.1L149.5 723.8L149.7 723.3L149.9 721.6L150.1 725.2L150.3 722.6L150.5 724.3L150.7 722.8L150.9 722.8L151.1 726.5L151.3 724.1L151.5 723.5L151.7 726.2L151.9 724.5L152.1 726.1L152.3 732L152.5 727.2L152.7 731.4L152.9 735.5L153.1 740L153.3 746L153.5 756.3L153.7 761.4L153.9 768.4L154.1 772.7L154.3 773.6L154.5 776.6L154.7 776.4L154.9 778.1L155.1 779.3L155.3 782.9L155.5 780.4L155.7 786.3L155.9 790.2L156.1 792.7L156.3 796.1L156.5 796L156.7 793.8L156.9 786.5L157.1 780.8L157.3 774.9L157.5 767.1L157.7 760.7L157.9 757.1L158.1 753.6L158.3 749.7L158.5 755.8L158.7 750.1L158.9 753.3L159.1 754.8L159.3 758.5L159.5 760.8L159.7 765.9L159.9 772.8L160.1 775.6L160.3 773.1L160.5 772L160.7 776L160.9 777.6L161.1 780L161.3 783.7L161.5 784.4L161.7 790.8L161.9 789L162.1 790.4L162.3 789.3L162.5 787L162.7 794.1L162.9 797.1L163.1 802.7L163.3 805L163.5 807.6L163.7 804.8L163.9 801.2L164.1 795.9L164.3 789.5L164.5 786.9L164.7 787.5L164.9 790.3L165.1 785.9L165.3 788.6L165.5 785.4L165.7 788.2L165.9 791.7L166.1 794.9L166.3 795.5L166.5 801.8L166.7 804.9L166.9 809.9L167.1 812.1L167.3 813.5L167.5 813.4L167.7 814.6L167.9 812.6L168.1 811.7L168.3 809.1L168.5 808.2L168.7 806.4L168.9 805.9L169.1 804.1L169.3 799.8L169.5 799.5L169.7 798.3L169.9 797.3L170.1 793.9L170.3 793L170.5 790.7L170.7 792.1L170.9 786.4L171.1 789.3L171.3 783.7L171.5 791.5L171.7 789.8L171.9 783.5L172.1 786.7L172.3 785L172.5 784.8L172.7 788.8L172.9 789.3L173.1 795.3L173.3 795L173.5 797.4L173.7 803.1L173.9 808L174.1 812.6L174.3 815.8L174.5 816.1L174.7 819.2L174.9 821.5L175.1 821.4L175.3 822.8L175.5 818L175.7 813.4L175.9 806.6L176.1 799.7L176.3 789L176.5 786.3L176.7 773.3L176.9 764.9L177.1 755.3L177.3 752.8L177.5 744.4L177.7 744.6L177.9 743.8L178.1 739.9L178.3 735.3L178.5 739.4L178.7 734.8L178.9 735.3L179.1 735.9L179.3 735L179.5 738.6L179.7 735.4L179.9 736.1L180.1 746.8L180.3 745.3L180.5 750.6L180.7 757.3L180.9 761.5L181.1 766.7L181.3 775.4L181.5 781.1L181.7 790.2L181.9 795L182.1 800.8L182.3 806.9L182.5 807.4L182.7 810.2L182.9 814.9L183.1 816.5L183.3 814.1L183.5 808.9L183.7 805.2L183.9 796.3L184.1 787.9L184.3 773.5L184.5 766.6L184.7 755.7L184.9 747.5L185.1 744.9L185.3 740.2L185.5 733.2L185.7 731.1L185.9 734.1L186.1 731.2L186.3 729L186.5 730.2L186.7 729.8L186.9 728.1L187.1 730.4L187.3 733.1L187.5 735.5L187.7 735L187.9 737.9L188.1 740.2L188.3 740.6L188.5 745.1L188.7 744.7L188.9 748L189.1 738L189.3 742.6L189.5 751.2L189.7 743.8L189.9 745.2L190.1 753.9L190.3 761.4L190.5 764.2L190.7 767L190.9 776.8L191.1 783.8L191.3 790.9L191.5 798L191.7 804.8L191.9 810.4L192.1 814.6L192.3 816.9L192.5 816.9L192.7 815.2L192.9 816.9L193.1 811.6L193.3 813L193.5 804L193.7 797.9L193.9 792L194.1 789L194.3 782.3L194.5 776.2L194.7 769L194.9 760.6L195.1 757.4L195.3 748.6L195.5 741.4L195.7 742.2L195.9 737.2L196.1 729.9L196.3 728.6L196.5 729.6L196.7 727.3L196.9 720L197.1 725.1L197.3 713.5L197.5 720.8L197.7 721.5L197.9 720.2L198.1 721.5L198.3 717.9L198.5 724.5L198.7 729.7L198.9 731L199.1 740.2L199.3 747.6L199.5 753.1L199.7 767L199.9 779.7L200.1 786.9L200.3 798.3L200.5 806.2L200.7 809.5L200.9 814.4L201.1 817.7L201.3 816.7L201.5 810.1L201.7 806.3L201.9 797L202.1 787L202.3 778.7L202.5 766.9L202.7 756.2L202.9 748.4L203.1 740L203.3 735.2L203.5 726.5L203.7 718.1L203.9 724.8L204.1 721L204.3 719.4L204.5 717.8L204.7 717.9L204.9 719.3L205.1 719.2L205.3 725.5L205.5 728.5L205.7 731.9L205.9 738.3L206.1 741L206.3 743.5L206.5 744.9L206.7 752.2L206.9 741.3L207.1 746L207.3 747.5L207.5 747.6L207.7 751.9L207.9 748.4L208.1 750.9L208.3 754.5L208.5 754.6L208.7 764.1L208.9 763.4L209.1 771.9L209.3 778.1L209.5 779.8L209.7 786.2L209.9 791.2L210.1 798.6L210.3 800.6L210.5 801.4L210.7 808L210.9 810.1L211.1 807.6L211.3 807.5L211.5 815L211.7 810.5L211.9 805.5L212.1 807L212.3 804.1L212.5 794.9L212.7 795.7L212.9 790.2L213.1 784.1L213.3 778L213.5 774.9L213.7 767.9L213.9 765.3L214.1 760.3L214.3 756.1L214.5 755.2L214.7 753.5L214.9 750.9L215.1 747.8L215.3 749.7L215.5 740.1L215.7 743L215.9 742.7L216.1 745.3L216.3 734.9L216.5 740.4L216.7 741L216.9 743.2L217.1 750.2L217.3 745.9L217.5 747.2L217.7 751.4L217.9 756.4L218.1 758.1L218.3 767.5L218.5 767.5L218.7 778.9L218.9 784.8L219.1 792.1L219.3 799.6L219.5 803L219.7 809.2L219.9 813.3L220.1 815.4L220.3 817.5L220.5 818.9L220.7 821.5L220.9 815.2L221.1 812.2L221.3 808.4L221.5 804L221.7 795.7L221.9 793.1L222.1 786.5L222.3 782.7L222.5 778.6L222.7 782L222.9 784.4L223.1 781.9L223.3 780.8L223.5 785L223.7 784.4L223.9 787.9L224.1 793.9L224.3 795L224.5 796.8L224.7 795.4L224.9 792.6L225.1 789.4L225.3 784.2L225.5 781.6L225.7 773.2L225.9 768L226.1 766.7L226.3 768.1L226.5 763.6L226.7 758.9L226.9 770L227.1 761.8L227.3 764.9L227.5 769.6L227.7 774.3L227.9 780.7L228.1 786.7L228.3 796.3L228.5 798.3L228.7 800.7L228.9 802.1L229.1 800.4L229.3 798.5L229.5 800.9L229.7 803.4L229.9 804.5L230.1 802.8L230.3 806.1L230.5 807.7L230.7 809.8L230.9 809.6L231.1 809.8L231.3 809.3L231.5 809.8L231.7 809.1L231.9 806.4L232.1 804.5L232.3 805.3L232.5 800.6L232.7 797.3L232.9 797.4L233.1 792.4L233.3 790.8L233.5 792.7L233.7 789.8L233.9 790.2L234.1 789.4L234.3 785.9L234.5 788L234.7 786L234.9 787.1L235.1 787.3L235.3 786.8L235.5 784.7L235.7 788.5L235.9 789L236.1 791.3L236.3 790.2L236.5 794.7L236.7 796.6L236.9 799.2L237.1 802.4L237.3 805.3L237.5 806.3L237.7 809.5L237.9 811.1L238.1 813.4L238.3 813L238.5 814.7L238.7 811.8L238.9 808.6L239.1 804.9L239.3 798.4L239.5 796.1L239.7 792.5L239.9 783.6L240.1 782.6L240.3 776.5L240.5 771.4L240.7 765.9L240.9 763.4L241.1 758.5L241.3 758.1L241.5 756.4L241.7 755L241.9 750.3L242.1 755.9L242.3 750.9L242.5 753.9L242.7 754.5L242.9 752.6L243.1 760.4L243.3 754.8L243.5 756.7L243.7 756.5L243.9 759.9L244.1 758.6L244.3 766L244.5 767.3L244.7 771L244.9 777.7L245.1 782.3L245.3 784.7L245.5 788.3L245.7 791L245.9 796L246.1 801L246.3 803.5L246.5 802.7L246.7 805.6L246.9 807.5L247.1 804.7L247.3 803.3L247.5 800.2L247.7 798.6L247.9 791.5L248.1 789.4L248.3 785.3L248.5 779.3L248.7 775.6L248.9 769.8L249.1 762.6L249.3 756.7L249.5 751.9L249.7 751.2L249.9 746.2L250.1 743.7L250.3 738.4L250.5 741.7L250.7 739.2L250.9 737.6L251.1 731.2L251.3 741.3L251.5 735.7L251.7 729.9L251.9 736L252.1 733.1L252.3 731.8L252.5 732.8L252.7 737.8L252.9 739.2L253.1 741.5L253.3 743.7L253.5 745.9L253.7 753.8L253.9 758.3L254.1 764.6L254.3 772.7L254.5 781.2L254.7 784.3L254.9 793L255.1 796.3L255.3 803.3L255.5 807L255.7 809.3L255.9 811.7L256.1 811.6L256.3 812.7L256.5 812.8L256.7 809.5L256.9 807.4L257.1 798L257.3 793L257.5 787.8L257.7 781.6L257.9 774.6L258.1 769.2L258.3 765.1L258.5 764.3L258.7 757.6L258.9 753.2L259.1 754.2L259.3 744.4L259.5 748.5L259.7 748.7L259.9 751.3L260.1 744.6L260.3 750.3L260.5 748.6L260.7 754.5L260.9 755L261.1 753.4L261.3 757.3L261.5 755.9L261.7 761.7L261.9 764.9L262.1 770L262.3 771.2L262.5 772.6L262.7 781.4L262.9 782.6L263.1 787.1L263.3 790.6L263.5 796.1L263.7 795.9L263.9 799.1L264.1 798.7L264.3 797.3L264.5 799.5L264.7 798.4L264.9 795.3L265.1 791.9L265.3 795.2L265.5 791.4L265.7 785.9L265.9 782.5L266.1 779.5L266.3 775.2L266.5 768L266.7 764.2L266.9 764.2L267.1 761.7L267.3 757.8L267.5 754.2L267.7 749.4L267.9 749L268.1 748.2L268.3 743.6L268.5 743.7L268.7 742.1L268.9 735.6L269.1 739.7L269.3 733.4L269.5 732.2L269.7 739L269.9 729.2L270.1 733.3L270.3 736.4L270.5 735L270.7 733.1L270.9 732.1L271.1 736.9L271.3 738L271.5 737.9L271.7 737.6L271.9 739.1L272.1 745.5L272.3 748.9L272.5 754.6L272.7 756.7L272.9 763.4L273.1 764.7L273.3 768.6L273.5 776.8L273.7 778.7L273.9 781.5L274.1 785.1L274.3 785.7L274.5 788.3L274.7 787.8L274.9 790.1L275.1 787.9L275.3 786.4L275.5 783.4L275.7 780.3L275.9 773L276.1 771L276.3 765.5L276.5 759.1L276.7 755.9L276.9 753.1L277.1 749.3L277.3 749.5L277.5 741.3L277.7 740.2L277.9 743.1L278.1 735.1L278.3 733.4L278.5 733.8L278.7 733.1L278.9 734.7L279.1 735.3L279.3 733.2L279.5 733L279.7 737.5L279.9 736.3L280.1 740.2L280.3 746.6L280.5 749.9L280.7 753.2L280.9 758.4L281.1 766L281.3 772.2L281.5 782.3L281.7 789L281.9 794.2L282.1 799.2L282.3 802L282.5 805.7L282.7 807.5L282.9 808.4L283.1 807.8L283.3 806.6L283.5 807.8L283.7 807.3L283.9 804.5L284.1 804.7L284.3 803.9L284.5 803.4L284.7 799.2L284.9 798.3L285.1 796.9L285.3 795.6L285.5 794.4L285.7 795.8L285.9 791.4L286.1 795.1L286.3 790.9L286.5 790.3L286.7 787.9L286.9 788.4L287.1 786.5L287.3 786.4L287.5 785.1L287.7 784.4L287.9 783.3L288.1 784.1L288.3 781.5L288.5 780L288.7 783.8L288.9 779.3L289.1 780.8L289.3 784.1L289.5 778.4L289.7 779L289.9 778.1L290.1 777.4L290.3 781.1L290.5 779.6L290.7 781.1L290.9 778.3L291.1 784.7L291.3 784.6L291.5 785.4L291.7 791.2L291.9 793.9L292.1 802.9L292.3 802.2L292.5 808.6L292.7 809.7L292.9 812.2L293.1 813L293.3 817L293.5 813.7L293.7 812.5L293.9 811L294.1 806.8L294.3 804.7L294.5 799L294.7 794.3L294.9 795.2L295.1 794.7L295.3 792.2L295.5 788.7L295.7 792.3L295.9 791.4L296.1 789.3L296.3 791L296.5 790.6L296.7 791.5L296.9 793.4L297.1 795.1L297.3 795.5L297.5 797.5L297.7 796.1L297.9 801L298.1 805.1L298.3 805.5L298.5 808.7L298.7 809.3L298.9 810.4L299.1 810.9L299.3 812.3L299.5 810.3L299.7 808.3L299.9 805L300.1 805L300.3 800.8L300.5 801.3L300.7 795.8L300.9 792.9L301.1 790.3L301.3 785.7L301.5 784.5L301.7 780.8L301.9 775.6L302.1 772.4L302.3 773.3L302.5 769L302.7 764.8L302.9 761.4L303.1 761.3L303.3 754.6L303.5 752.6L303.7 750.8L303.9 746.6L304.1 745.3L304.3 750.9L304.5 745.2L304.7 741.2L304.9 742.1L305.1 740.6L305.3 740.1L305.5 740.6L305.7 736.2L305.9 735L306.1 739.5L306.3 739.4L306.5 736.8L306.7 740.2L306.9 739.4L307.1 742.4L307.3 742.4L307.5 747.5L307.7 750.2L307.9 750.8L308.1 752.3L308.3 757.9L308.5 761.8L308.7 766L308.9 771.7L309.1 775.1L309.3 782.6L309.5 787.7L309.7 792.8L309.9 796.9L310.1 800.9L310.3 805.8L310.5 807.4L310.7 808.9L310.9 814L311.1 814.3L311.3 812.1L311.5 813.6L311.7 806.9L311.9 807.1L312.1 803.4L312.3 798.3L312.5 792.7L312.7 789L312.9 783.3L313.1 775.2L313.3 770.9L313.5 769.8L313.7 765.3L313.9 757.3L314.1 753.3L314.3 755.6L314.5 750.2L314.7 748.9L314.9 748.3L315.1 749.6L315.3 742.7L315.5 750.5L315.7 747.3L315.9 751.2L316.1 745.8L316.3 747.4L316.5 752.3L316.7 755.2L316.9 754.5L317.1 756.5L317.3 763.7L317.5 766.9L317.7 769.7L317.9 773.7L318.1 781.7L318.3 786.2L318.5 790L318.7 797.7L318.9 801.8L319.1 804.6L319.3 808.1L319.5 811L319.7 811.1L319.9 811.2L320.1 814.7L320.3 809.6L320.5 807.2L320.7 803.8L320.9 801.9L321.1 797.7L321.3 789.8L321.5 787L321.7 781.9L321.9 775.9L322.1 765.6L322.3 765.9L322.5 764L322.7 752.9L322.9 747.9L323.1 752.7L323.3 748.8L323.5 745.7L323.7 744.6L323.9 739.1L324.1 741.2L324.3 743.6L324.5 743.2L324.7 742.7L324.9 741.3L325.1 737.8L325.3 736.4L325.5 736.4L325.7 730.5L325.9 731.2L326.1 727.2L326.3 727.2L326.5 728.4L326.7 724.7L326.9 722.2L327.1 720.9L327.3 718.8L327.5 720.9L327.7 716.3L327.9 720.3L328.1 720.6L328.3 719.7L328.5 729.1L328.7 753.5L328.9 780.5L329.1 802.1L329.3 807.7L329.5 804.8L329.7 800.7L329.9 797.9L330.1 791.4L330.3 784.2L330.5 779.7L330.7 769.6L330.9 763.4L331.1 759.1L331.3 752.4L331.5 746.8L331.7 745.4L331.9 747.1L332.1 736.6L332.3 737.9L332.5 736.1L332.7 734.9L332.9 739.1L333.1 734.1L333.3 739.5L333.5 732.1L333.7 735.8L333.9 733.9L334.1 738.2L334.3 740.3L334.5 741.5L334.7 742.5L334.9 743.6L335.1 744L335.3 752.1L335.5 753.7L335.7 759.9L335.9 758.5L336.1 765.9L336.3 768.1L336.5 777.7L336.7 779.6L336.9 783.9L337.1 791.2L337.3 794L337.5 798.2L337.7 801L337.9 805.4L338.1 806.6L338.3 808.4L338.5 809.4L338.7 811.6L338.9 812.2L339.1 810L339.3 810.3L339.5 805.3L339.7 803.7L339.9 801L340.1 797.3L340.3 795.3L340.5 788.5L340.7 783.9L340.9 782.2L341.1 776.1L341.3 773.4L341.5 769.4L341.7 764L341.9 760.8L342.1 760.3L342.3 755.5L342.5 753L342.7 752.3L342.9 746.7L343.1 743.7L343.3 744.7L343.5 749.1L343.7 745.4L343.9 749.5L344.1 745.6L344.3 745.2L344.5 741.1L344.7 737.9L344.9 736.9L345.1 744L345.3 741.4L345.5 742.7L345.7 749.3L345.9 751L346.1 750.2L346.3 757.6L346.5 764.3L346.7 768L346.9 770.3L347.1 778.7L347.3 779.7L347.5 787.7L347.7 792.6L347.9 799.2L348.1 799.7L348.3 802.9L348.5 805.9L348.7 808.7L348.9 806.6L349.1 808.6L349.3 806.8L349.5 805.2L349.7 802.3L349.9 802.3L350.1 799.4L350.3 797.1L350.5 793.8L350.7 790.5L350.9 786.3L351.1 784.9L351.3 783.6L351.5 780.1L351.7 778.7L351.9 777.5L352.1 774.8L352.3 772.2L352.5 769.5L352.7 773.6L352.9 769.7L353.1 769.2L353.3 769.5L353.5 771L353.7 771.6L353.9 767.2L354.1 769.3L354.3 773.4L354.5 769.2L354.7 772.2L354.9 771.5L355.1 772.2L355.3 775.4L355.5 782.2L355.7 786.3L355.9 784.8L356.1 794.3L356.3 799.4L356.5 802.5L356.7 809.9L356.9 813.6L357.1 820.7L357.3 821.2L357.5 826.8L357.7 826.1L357.9 827.9L358.1 832L358.3 829.5L358.5 829.4L358.7 826.7L358.9 827.5L359.1 827.3L359.3 822.9L359.5 820.5L359.7 818.3L359.9 814.5L360.1 811L360.3 810.4L360.5 807.3L360.7 802.4L360.9 798.9L361.1 802.5L361.3 797.4L361.5 799.5L361.7 799.3L361.9 796.4L362.1 794.5L362.3 789.7L362.5 798.4L362.7 796.7L362.9 792.9L363.1 792.4L363.3 795.8L363.5 790.7L363.7 796.9L363.9 797.9L364.1 794.1L364.3 795.5L364.5 802.4L364.7 799.5L364.9 802.6L365.1 803.9L365.3 803.5L365.5 811.1L365.7 814.6L365.9 814L366.1 816.2L366.3 821.9L366.5 819.9L366.7 823.2L366.9 823.2L367.1 823.9L367.3 825.8L367.5 823.5L367.7 824.3L367.9 821.5L368.1 813.5L368.3 804.2L368.5 799.3L368.7 786.2L368.9 773.4L369.1 766.7L369.3 757.3L369.5 749.2L369.7 745L369.9 737.9L370.1 734.4L370.3 739.3L370.5 733.5L370.7 737.6L370.9 727.5L371.1 731.1L371.3 731.9L371.5 736L371.7 737.2L371.9 742.3L372.1 744L372.3 746.4L372.5 752.2L372.7 757.8L372.9 762.8L373.1 764.4L373.3 774.9L373.5 783.6L373.7 788.7L373.9 797.4L374.1 800.2L374.3 805.5L374.5 807.9L374.7 811.4L374.9 814.8L375.1 816L375.3 815L375.5 812.8L375.7 809.2L375.9 803.7L376.1 802L376.3 795.3L376.5 791.2L376.7 784.8L376.9 780.3L377.1 771.7L377.3 768.2L377.5 760.9L377.7 758.6L377.9 750L378.1 745.2L378.3 736.9L378.5 739.8L378.7 734.5L378.9 725.9L379.1 730.8L379.3 729L379.5 725.3L379.7 728.9L379.9 724.1L380.1 723.5L380.3 725L380.5 720.6L380.7 725.8L380.9 722.3L381.1 726.4L381.3 730.2L381.5 728.1L381.7 730L381.9 739.2L382.1 739.2L382.3 746.4L382.5 750.8L382.7 756.8L382.9 765.2L383.1 769.7L383.3 774.4L383.5 783.2L383.7 788.8L383.9 793.6L384.1 799.1L384.3 803.7L384.5 806.4L384.7 807.6L384.9 808.2L385.1 807.7L385.3 803.5L385.5 797.5L385.7 791.8L385.9 785L386.1 774L386.3 766.9L386.5 760.5L386.7 750.1L386.9 747.5L387.1 742.6L387.3 741.6L387.5 734L387.7 733.8L387.9 738.9L388.1 740.2L388.3 736.1L388.5 738.6L388.7 733.2L388.9 738.4L389.1 737.2L389.3 739.3L389.5 735.4L389.7 740.9L389.9 744.4L390.1 747.8L390.3 749L390.5 752.3L390.7 757.3L390.9 762.9L391.1 761.2L391.3 765.4L391.5 774L391.7 781.8L391.9 787.1L392.1 790.5L392.3 792.9L392.5 799.5L392.7 801.9L392.9 807.4L393.1 809L393.3 814L393.5 812.4L393.7 817.1L393.9 815.2L394.1 817.5L394.3 816.5L394.5 812.3L394.7 808.3L394.9 806.6L395.1 801.6L395.3 795.8L395.5 791.7L395.7 784.8L395.9 778.9L396.1 769.7L396.3 765L396.5 759.1L396.7 756.1L396.9 751.9L397.1 743.5L397.3 740.9L397.5 731.4L397.7 740.6L397.9 734L398.1 732.8L398.3 731.1L398.5 728.8L398.7 723.6L398.9 725.8L399.1 726.2L399.3 728.1L399.5 726.1L399.7 730.6L399.9 732.9L400.1 733.1L400.3 735L400.5 743.3L400.7 738.4L400.9 742.6L401.1 750.4L401.3 752.8L401.5 762.5L401.7 763.9L401.9 771.3L402.1 780.3L402.3 781.3L402.5 790.8L402.7 794.8L402.9 799.2L403.1 804.4L403.3 804.6L403.5 808.4L403.7 808.3L403.9 811.3L404.1 807.2L404.3 804.9L404.5 798.4L404.7 790.1L404.9 784.5L405.1 773.2L405.3 765.9L405.5 751.7L405.7 746.8L405.9 740.6L406.1 739.2L406.3 730.3L406.5 733.1L406.7 733.4L406.9 730.1L407.1 730.1L407.3 728.7L407.5 727.5L407.7 730.3L407.9 731.7L408.1 736.2L408.3 733.7L408.5 732.7L408.7 738.7L408.9 736.1L409.1 736.4L409.3 744.2L409.5 746.8L409.7 754.1L409.9 757.2L410.1 759.9L410.3 766.6L410.5 772.8L410.7 783.1L410.9 783.5L411.1 789.8L411.3 798.7L411.5 804.2L411.7 806.4L411.9 813L412.1 814.7L412.3 816.7L412.5 820.2L412.7 823.4L412.9 825.5L413.1 824.1L413.3 823L413.5 824.1L413.7 821.5L413.9 819L414.1 817.7L414.3 814.2L414.5 808.6L414.7 805.4L414.9 804.4L415.1 797.7L415.3 796.8L415.5 785.2L415.7 783.4L415.9 781.7L416.1 776L416.3 775.3L416.5 772.2L416.7 766.1L416.9 772L417.1 770.2L417.3 759.3L417.5 761.9L417.7 758L417.9 759.8L418.1 759.1L418.3 759.4L418.5 763.3L418.7 763.5L418.9 759.6L419.1 762.5L419.3 764.5L419.5 760.7L419.7 767.8L419.9 769.1L420.1 778.7L420.3 784.2L420.5 788.5L420.7 796.6L420.9 800L421.1 804.7L421.3 811.9L421.5 813.3L421.7 815.9L421.9 814.7L422.1 817.4L422.3 815.9L422.5 815L422.7 812.8L422.9 812L423.1 811.2L423.3 810.6L423.5 810.7L423.7 805L423.9 804.1L424.1 803.5L424.3 802.7L424.5 801.5L424.7 800.2L424.9 800.3L425.1 801.7L425.3 799.8L425.5 798.7L425.7 801.2L425.9 800.3L426.1 798.4L426.3 802L426.5 799L426.7 798.6L426.9 800.9L427.1 799.2L427.3 799.3L427.5 803.4L427.7 801L427.9 800.9L428.1 803.3L428.3 803.7L428.5 801.9L428.7 805.1L428.9 807.4L429.1 807L429.3 809.2L429.5 807.9L429.7 811.3L429.9 810.3L430.1 810.3L430.3 810L430.5 813.1L430.7 811.9L430.9 810.3L431.1 806.3L431.3 798L431.5 788.1L431.7 778.1L431.9 765.4L432.1 757L432.3 750.5L432.5 733.2L432.7 730.8L432.9 724.7L433.1 724.2L433.3 714.7L433.5 725.6L433.7 721.5L433.9 725.4L434.1 723L434.3 717.2L434.5 720.5L434.7 726.8L434.9 726.8L435.1 723.5L435.3 728.8L435.5 734.6L435.7 738L435.9 738L436.1 744.6L436.3 750.3L436.5 754.6L436.7 760.9L436.9 769.7L437.1 774.8L437.3 781.4L437.5 789.7L437.7 795.7L437.9 800.3L438.1 803.9L438.3 807.6L438.5 810.6L438.7 814L438.9 817.2L439.1 816.4L439.3 817.7L439.5 816.7L439.7 814.5L439.9 808.1L440.1 803.6L440.3 794.9L440.5 783.9L440.7 774.1L440.9 767L441.1 754.6L441.3 750.9L441.5 739.2L441.7 735.9L441.9 733.6L442.1 729.9L442.3 722.6L442.5 723.5L442.7 725.5L442.9 720.4L443.1 730.4L443.3 723.2L443.5 726L443.7 734.1L443.9 725.8L444.1 728.1L444.3 730L444.5 729.2L444.7 728.3L444.9 728.8L445.1 735.6L445.3 736.8L445.5 743.4L445.7 743.7L445.9 748.2L446.1 748.3L446.3 754L446.5 759.7L446.7 762.8L446.9 769.1L447.1 772L447.3 776.8L447.5 782.2L447.7 784.1L447.9 793.3L448.1 791.5L448.3 798.4L448.5 801.3L448.7 801.2L448.9 804L449.1 806.3L449.3 806.6L449.5 807.7L449.7 806.8L449.9 807L450.1 801.4L450.3 794.1L450.5 787.1L450.7 779.2L450.9 768.9L451.1 759.8L451.3 749.9L451.5 744.1L451.7 736.2L451.9 733.7L452.1 731.5L452.3 727.1L452.5 733L452.7 722.7L452.9 730.5L453.1 727.9L453.3 732.3L453.5 728.5L453.7 733.4L453.9 730.2L454.1 731.9L454.3 735.6L454.5 738.9L454.7 739.5L454.9 748.4L455.1 747.4L455.3 754.1L455.5 759.9L455.7 765L455.9 772.9L456.1 775.4L456.3 784.3L456.5 790.1L456.7 793.8L456.9 801.3L457.1 800.7L457.3 805.7L457.5 807.6L457.7 807.8L457.9 810.6L458.1 815.2L458.3 814L458.5 811.7L458.7 812.4L458.9 806.9L459.1 803.2L459.3 797.3L459.5 793.6L459.7 780.9L459.9 777.7L460.1 776.2L460.3 763.3L460.5 757.4L460.7 750.7L460.9 747.6L461.1 742.2L461.3 738.9L461.5 731.2L461.7 731.8L461.9 731.3L462.1 728.7L462.3 729.4L462.5 730.4L462.7 731.2L462.9 728.1L463.1 729.4L463.3 727.1L463.5 727.9L463.7 732.1L463.9 727.9L464.1 736.5L464.3 732.7L464.5 738.3L464.7 740L464.9 743.9L465.1 751.3L465.3 751.8L465.5 763.1L465.7 763.1L465.9 772.6L466.1 776.4L466.3 781.4L466.5 786.9L466.7 792.3L466.9 794.2L467.1 795.7L467.3 798.8L467.5 801.6L467.7 799.8L467.9 801.9L468.1 800.5L468.3 792.8L468.5 786.3L468.7 779.5L468.9 768L469.1 759.7L469.3 750.7L469.5 744.5L469.7 735.1L469.9 728.8L470.1 733.1L470.3 725.4L470.5 723.7L470.7 728.6L470.9 724.4L471.1 725.6L471.3 723.1L471.5 726.1L471.7 728.6L471.9 731.4L472.1 731.6L472.3 727.4L472.5 731.6L472.7 736.3L472.9 734.7L473.1 737.5L473.3 742.2L473.5 749.1L473.7 748.1L473.9 756.6L474.1 761L474.3 763.3L474.5 767.4L474.7 774.1L474.9 779L475.1 783.4L475.3 789L475.5 796.3L475.7 798.1L475.9 801.7L476.1 802.8L476.3 806.7L476.5 806L476.7 808.6L476.9 810.7L477.1 812.7L477.3 809.9L477.5 807L477.7 803.3L477.9 797.6L478.1 794.6L478.3 790.6L478.5 783.3L478.7 776.1L478.9 770.2L479.1 763.7L479.3 764.8L479.5 757.9L479.7 758.2L479.9 750.3L480.1 753.4L480.3 752.5L480.5 749.1L480.7 747.6L480.9 757.2L481.1 754.3L481.3 753.7L481.5 748.5L481.7 755.4L481.9 754.2L482.1 758.8L482.3 755.7L482.5 757.8L482.7 758.8L482.9 761.2L483.1 765L483.3 772.2L483.5 777.6L483.7 785L483.9 790.3L484.1 791L484.3 792.9L484.5 800.6L484.7 804.1L484.9 805.8L485.1 807.3L485.3 809.3L485.5 811.6L485.7 812.1L485.9 809.5L486.1 811.2L486.3 809.3L486.5 808.5L486.7 808.9L486.9 806.5L487.1 806.6L487.3 801.4L487.5 804.1L487.7 802.1L487.9 799.5L488.1 797.3L488.3 794.6L488.5 793.7L488.7 797.1L488.9 793.5L489.1 791.4L489.3 789.3L489.5 788.3L489.7 786.4L489.9 788.5L490.1 789.1L490.3 784.6L490.5 787.5L490.7 785L490.9 786.3L491.1 783.5L491.3 786.9L491.5 788.7L491.7 784.1L491.9 784.7L492.1 787.5L492.3 784.7L492.5 784.3L492.7 783.2L492.9 788.4L493.1 793.2L493.3 792.4L493.5 795.8L493.7 795.2L493.9 800.7L494.1 803.4L494.3 804.7L494.5 806.3L494.7 806.3L494.9 807.1L495.1 809L495.3 801.9L495.5 799.2L495.7 787.8L495.9 782.7L496.1 771L496.3 762.8L496.5 752.2L496.7 745.7L496.9 743.5L497.1 726.3L497.3 726.4L497.5 726.2L497.7 727.3L497.9 718L498.1 721.6L498.3 724.1L498.5 720.1L498.7 722L498.9 723.3L499.1 726.1L499.3 725.5L499.5 726.7L499.7 725.4L499.9 728L500.1 737.7L500.3 731.5L500.5 737.3L500.7 740.6L500.9 746.7L501.1 749.6L501.3 758.1L501.5 760.8L501.7 766.8L501.9 771L502.1 778.5L502.3 782.3L502.5 789.4L502.7 795.2L502.9 796.3L503.1 804.8L503.3 806.4L503.5 808L503.7 809.1L503.9 812.3L504.1 812.3L504.3 811.4L504.5 808.6L504.7 801.7L504.9 790.9L505.1 783.2L505.3 767.1L505.5 759.5L505.7 746.9L505.9 741.2L506.1 735L506.3 732.2L506.5 733.9L506.7 726.7L506.9 725.5L507.1 710.6L507.3 696.3L507.5 686.9L507.7 689.6L507.9 696L508.1 723.4L508.3 734L508.5 732.5L508.7 733.8L508.9 732.6L509.1 728L509.3 733.5L509.5 738.5L509.7 737.5L509.9 737.8L510.1 735.4L510.3 749.1L510.5 754.5L510.7 759.2L510.9 765.9L511.1 762.1L511.3 772.4L511.5 779.7L511.7 783.8L511.9 790.9L512.1 797.7L512.3 800.1L512.5 806L512.7 807.3L512.9 808L513.1 813.4L513.3 815.4L513.5 816.1L513.7 814.9L513.9 804.9L514.1 795.9L514.3 775.9L514.5 766.5L514.7 749.6L514.9 741L515.1 729L515.3 726.8L515.5 725.3L515.7 724.3L515.9 719.1L516.1 725.1L516.3 722L516.5 725.8L516.7 722.2L516.9 720.2L517.1 724.9L517.3 723.8L517.5 725.9L517.7 725.6L517.9 734.8L518.1 741.3L518.3 739.8L518.5 746.6L518.7 749.1L518.9 758.6L519.1 765.7L519.3 769.5L519.5 776.6L519.7 782.3L519.9 786.3L520.1 792.5L520.3 793.4L520.5 799.2L520.7 802.7L520.9 805.7L521.1 808.4L521.3 807.5L521.5 807.2L521.7 807.3L521.9 805.1L522.1 800.9L522.3 795.7L522.5 792.9L522.7 784.7L522.9 780.1L523.1 773.6L523.3 766.8L523.5 762.6L523.7 755.4L523.9 749.7L524.1 748L524.3 739.4L524.5 733.2L524.7 732.5L524.9 734.6L525.1 727.1L525.3 726.3L525.5 729.5L525.7 735.1L525.9 726.3L526.1 731L526.3 732.5L526.5 726.7L526.7 726.8L526.9 728.9L527.1 728.6L527.3 732L527.5 730.2L527.7 735L527.9 737.8L528.1 746.2L528.3 741L528.5 748.2L528.7 750.5L528.9 756.6L529.1 760.6L529.3 765L529.5 771.2L529.7 775.5L529.9 782L530.1 787.9L530.3 791.5L530.5 794.9L530.7 799.1L530.9 800.9L531.1 804.3L531.3 809.2L531.5 807.5L531.7 810.6L531.9 809.4L532.1 807.2L532.3 805.2L532.5 799L532.7 795.6L532.9 790L533.1 781.7L533.3 775L533.5 766.2L533.7 758.2L533.9 748.7L534.1 748.5L534.3 745.2L534.5 741.4L534.7 735.6L534.9 736L535.1 734.5L535.3 734L535.5 729.8L535.7 728.4L535.9 726.1L536.1 731.2L536.3 732.1L536.5 732L536.7 736.4L536.9 734.4L537.1 741.3L537.3 747.7L537.5 747.4L537.7 748.5L537.9 757.2L538.1 761.6L538.3 768.3L538.5 773.4L538.7 778.3L538.9 784.6L539.1 789.9L539.3 791.8L539.5 795L539.7 794.8L539.9 801L540.1 797.8L540.3 798.8L540.5 795.5L540.7 796.1L540.9 791.5L541.1 789.9L541.3 785.6L541.5 782.6L541.7 779.2L541.9 775.1L542.1 773.6L542.3 770L542.5 769L542.7 767.2L542.9 764.7L543.1 766.6L543.3 767.1L543.5 765.7L543.7 760.7L543.9 766.9L544.1 767.9L544.3 760.7L544.5 769L544.7 759.5L544.9 767.9L545.1 769.6L545.3 772.2L545.5 773.8L545.7 772.3L545.9 775.1L546.1 778.4L546.3 781L546.5 779.7L546.7 783.4L546.9 781.9L547.1 785.9L547.3 793.3L547.5 794.8L547.7 795.5L547.9 800.7L548.1 801.7L548.3 807.5L548.5 812.2L548.7 811.3L548.9 816.3L549.1 819.2L549.3 820.6L549.5 822.7L549.7 823.1L549.9 824.1L550.1 826L550.3 824.1L550.5 826.7L550.7 824.7L550.9 824.9L551.1 826.6L551.3 822.5L551.5 820.5L551.7 820.2L551.9 815.6L552.1 813.3L552.3 811.6L552.5 810.2L552.7 805.2L552.9 804.5L553.1 799L553.3 798.2L553.5 798.8L553.7 796.2L553.9 796.9L554.1 797.1L554.3 790.1L554.5 794.8L554.7 794L554.9 792.7L555.1 793.6L555.3 791.6L555.5 794.2L555.7 793.9L555.9 797.7L556.1 790.6L556.3 793.3L556.5 797.5L556.7 800.1L556.9 798L557.1 800.6L557.3 804.2L557.5 808.4L557.7 809.3L557.9 814.7L558.1 818L558.3 817.8L558.5 821.3L558.7 819L558.9 820.5L559.1 823L559.3 823L559.5 818.1L559.7 816.4L559.9 814L560.1 809.1L560.3 803.1L560.5 798.7L560.7 794.1L560.9 786L561.1 778.4L561.3 776.5L561.5 767.3L561.7 758.3L561.9 757.4L562.1 753.8L562.3 749.7L562.5 745.4L562.7 739.4L562.9 737.2L563.1 735L563.3 736.2L563.5 730.7L563.7 723.9L563.9 730.3L564.1 727.1L564.3 725.7L564.5 725.3L564.7 728.4L564.9 726.8L565.1 728.8L565.3 730.2L565.5 735.9L565.7 734.9L565.9 744.8L566.1 752.4L566.3 760L566.5 772.2L566.7 782.2L566.9 788.6L567.1 799.1L567.3 803.2L567.5 811.9L567.7 814L567.9 813.4L568.1 814.5L568.3 810.7L568.5 804.3L568.7 796.4L568.9 790L569.1 783.2L569.3 774.3L569.5 764.6L569.7 756.4L569.9 746.1L570.1 740.1L570.3 736.5L570.5 731.2L570.7 725.6L570.9 722.3L571.1 727.8L571.3 723.1L571.5 724.3L571.7 720.1L571.9 719.5L572.1 726.3L572.3 725.2L572.5 727.9L572.7 724.2L572.9 726.8L573.1 730.9L573.3 731.8L573.5 739.1L573.7 742.5L573.9 741.8L574.1 750.5L574.3 753.1L574.5 760.8L574.7 765.9L574.9 771.1L575.1 778.1L575.3 786.8L575.5 791.3L575.7 795.7L575.9 799.4L576.1 807.5L576.3 809.5L576.5 811.1L576.7 813.7L576.9 814.4L577.1 816.1L577.3 817L577.5 814.1L577.7 810.8L577.9 806L578.1 800.6L578.3 795.5L578.5 789.6L578.7 778.6L578.9 776.4L579.1 766.4L579.3 763.4L579.5 758L579.7 753.5L579.9 747L580.1 739.5L580.3 743.2L580.5 734.1L580.7 737.7L580.9 729.4L581.1 730.5L581.3 726.7L581.5 729.8L581.7 731.8L581.9 733.3L582.1 726.7L582.3 731.9L582.5 733.1L582.7 741.7L582.9 744.1L583.1 751.5L583.3 755.9L583.5 767.2L583.7 773.1L583.9 783.1L584.1 792.2L584.3 800.1L584.5 806.2L584.7 813.3L584.9 820.4L585.1 823.7L585.3 823.3L585.5 825.3L585.7 820.5L585.9 820.9L586.1 814.8L586.3 806.4L586.5 801.9L586.7 795.8L586.9 788.2L587.1 781.3L587.3 772.5L587.5 763.5L587.7 764.1L587.9 752.6L588.1 747.2L588.3 741.8L588.5 741.1L588.7 742.6L588.9 740.5L589.1 741.2L589.3 732.4L589.5 733.4L589.7 737.5L589.9 732.9L590.1 734.8L590.3 739.3L590.5 731.2L590.7 731.8L590.9 737.4L591.1 734.9L591.3 737.4L591.5 743.2L591.7 743L591.9 748L592.1 745.4L592.3 750.5L592.5 754.8L592.7 758.8L592.9 758.3L593.1 764.8L593.3 772.5L593.5 773.2L593.7 778.5L593.9 784.7L594.1 789.5L594.3 795.4L594.5 798.8L594.7 800.5L594.9 802.6L595.1 804.9L595.3 809.5L595.5 809.8L595.7 810.9L595.9 807.8L596.1 807.2L596.3 807.2L596.5 802.9L596.7 793.2L596.9 782.8L597.1 772.3L597.3 764.2L597.5 760.1L597.7 753.5L597.9 746L598.1 745.8L598.3 745.7L598.5 741.2L598.7 737.4L598.9 735.4L599.1 737.9L599.3 737L599.5 744.8L599.7 739L599.9 745.8L600.1 740.6L600.3 744.2L600.5 746.6L600.7 746.8L600.9 750.2L601.1 753L601.3 755.7L601.5 760.3L601.7 767L601.9 772.7L602.1 773.6L602.3 781.6L602.5 784L602.7 789.3L602.9 794.7L603.1 798.7L603.3 804.4L603.5 806.3L603.7 810L603.9 813.2L604.1 814.2L604.3 815.8L604.5 818.5L604.7 819.9L604.9 818.6L605.1 816.7L605.3 815.3L605.5 813.3L605.7 810.3L605.9 807L606.1 806.4L606.3 797.7L606.5 793.6L606.7 790.4L606.9 785.1L607.1 786.3L607.3 778.2L607.5 776.9L607.7 774.2L607.9 775.5L608.1 772.9L608.3 770.5L608.5 770.3L608.7 772.5L608.9 772.1L609.1 775.2L609.3 769.2L609.5 774.4L609.7 776.1L609.9 772.9L610.1 768.1L610.3 773.2L610.5 775.7L610.7 776.2L610.9 776.4L611.1 775.7L611.3 780.7L611.5 782.1L611.7 783.7L611.9 783L612.1 789.7L612.3 791.6L612.5 794.8L612.7 795.7L612.9 801.1L613.1 802.2L613.3 803.3L613.5 802.9L613.7 804.8L613.9 804.4L614.1 807.7L614.3 806.9L614.5 807.4L614.7 804.2L614.9 806.5L615.1 802.9L615.3 799.6L615.5 802.9L615.7 800.7L615.9 795.6L616.1 790.1L616.3 791.1L616.5 790.8L616.7 786.2L616.9 788.1L617.1 787.2L617.3 785.6L617.5 785.1L617.7 781.2L617.9 782.1L618.1 780.5L618.3 779.8L618.5 784.9L618.7 782.7L618.9 785.5L619.1 783.7L619.3 782.9L619.5 788.6L619.7 789.3L619.9 788.1L620.1 791.2L620.3 789.1L620.5 793.6L620.7 799L620.9 799.8L621.1 801.9L621.3 806.5L621.5 808.6L621.7 807.3L621.9 809.6L622.1 811.9L622.3 811L622.5 813.8L622.7 814.3L622.9 813.1L623.1 809.1L623.3 808.1L623.5 804.8L623.7 801.1L623.9 795.8L624.1 790.1L624.3 787.8L624.5 781.7L624.7 772.7L624.9 765.9L625.1 765.4L625.3 756.9L625.5 751.4L625.7 750.9L625.9 743.7L626.1 742.1L626.3 741.3L626.5 740.2L626.7 737.1L626.9 740.8L627.1 739L627.3 742L627.5 737.8L627.7 737.2L627.9 739.4L628.1 736.4L628.3 740.6L628.5 736.7L628.7 738.1L628.9 733.8L629.1 741.1L629.3 746.8L629.5 750.2L629.7 752.9L629.9 757.7L630.1 766.8L630.3 767L630.5 772.7L630.7 777.8L630.9 784.8L631.1 787.7L631.3 795.7L631.5 802.7L631.7 805.8L631.9 809.4L632.1 810.3L632.3 811.9L632.5 815.6L632.7 817.5L632.9 816.6L633.1 815L633.3 806.7L633.5 795.8L633.7 786L633.9 769.6L634.1 757.6L634.3 743.9L634.5 733.6L634.7 728.7L634.9 727.8L635.1 723.2L635.3 727.3L635.5 726.6L635.7 721L635.9 726.3L636.1 727.4L636.3 732.6L636.5 724.2L636.7 727.6L636.9 729.6L637.1 730.6L637.3 738L637.5 733.6L637.7 738.7L637.9 744.7L638.1 749.7L638.3 750.7L638.5 757L638.7 758.4L638.9 766.1L639.1 768.9L639.3 776.7L639.5 777.5L639.7 786.7L639.9 789.6L640.1 794.8L640.3 799.7L640.5 804.5L640.7 807.4L640.9 809.2L641.1 812.7L641.3 816.4L641.5 818.7L641.7 818.8L641.9 819.9L642.1 819.2L642.3 820.1L642.5 814.7L642.7 806.8L642.9 803.6L643.1 790.6L643.3 781.3L643.5 773.5L643.7 759.8L643.9 748.3L644.1 745.1L644.3 738.8L644.5 729.9L644.7 725.9L644.9 727L645.1 720.9L645.3 720.9L645.5 719.7L645.7 727.3L645.9 716.3L646.1 724.2L646.3 721.8L646.5 727.7L646.7 718L646.9 728L647.1 730.4L647.3 728.9L647.5 730.4L647.7 746L647.9 747.6L648.1 751.4L648.3 757.3L648.5 767.6L648.7 775L648.9 779.6L649.1 787.9L649.3 796.6L649.5 799.5L649.7 807.5L649.9 812.9L650.1 812.6L650.3 816.5L650.5 823.4L650.7 821.8L650.9 824.2" stroke="#000" stroke-width="1.15" fill="none" stroke-linejoin="round"/>
<path d="M36.5 836.4L36.7 834L36.9 834.3L37.1 834.2L37.3 834.3L37.5 831.7L37.7 828.8L37.9 829L38.1 825.9L38.3 826.5L38.5 823.2L38.7 823.5L38.9 819.7L39.1 816.9L39.3 814.7L39.5 814.3L39.7 813.7L39.9 813.2L40.1 810.8L40.3 808.4L40.5 809L40.7 805.4L40.9 807.3L41.1 804.9L41.3 807.6L41.5 806.4L41.7 805.2L41.9 802.8L42.1 805L42.3 804.6L42.5 803.3L42.7 803.3L42.9 805.9L43.1 804.3L43.3 806.1L43.5 808.5L43.7 807L43.9 812.7L44.1 814.4L44.3 815.4L44.5 817.6L44.7 819.4L44.9 822.7L45.1 820.4L45.3 823.8L45.5 821.4L45.7 817.4L45.9 813.2L46.1 808L46.3 801.8L46.5 795.9L46.7 786.7L46.9 780.8L47.1 772.7L47.3 763.4L47.5 756.7L47.7 747.9L47.9 742L48.1 736.5L48.3 733.4L48.5 725.4L48.7 721.2L48.9 718.1L49.1 714.9L49.3 710.9L49.5 714.9L49.7 708.8L49.9 708L50.1 707.3L50.3 710.1L50.5 714.9L50.7 715.8L50.9 713.1L51.1 713.9L51.3 716.3L51.5 718.8L51.7 727.3L51.9 732.7L52.1 743.7L52.3 749.3L52.5 758L52.7 766.8L52.9 776L53.1 786.3L53.3 792.7L53.5 796.4L53.7 799.7L53.9 803.4L54.1 803.6L54.3 802.2L54.5 798.4L54.7 792.8L54.9 785.9L55.1 781L55.3 773.7L55.5 766.6L55.7 760.6L55.9 754.2L56.1 746.4L56.3 743.3L56.5 734.5L56.7 736.5L56.9 732.9L57.1 733.3L57.3 732.2L57.5 727.8L57.7 729.4L57.9 732L58.1 728.9L58.3 730.5L58.5 729.8L58.7 733.1L58.9 733.7L59.1 733.1L59.3 734L59.5 735L59.7 743.3L59.9 744.4L60.1 747.9L60.3 752.5L60.5 756.8L60.7 764.3L60.9 769.8L61.1 772.1L61.3 780.7L61.5 786.8L61.7 792.1L61.9 798.1L62.1 804.7L62.3 808L62.5 812.8L62.7 816.1L62.9 816.6L63.1 821.8L63.3 822L63.5 822.7L63.7 824.3L63.9 824.8L64.1 818.7L64.3 813.7L64.5 808.2L64.7 798.5L64.9 790.7L65.1 783.2L65.3 775.5L65.5 767.3L65.7 760.5L65.9 754.7L66.1 746.9L66.3 742.9L66.5 739.6L66.7 737.2L66.9 738.5L67.1 737.1L67.3 732.2L67.5 735.7L67.7 733.8L67.9 734.2L68.1 738.1L68.3 739.2L68.5 740.4L68.7 741.7L68.9 745.4L69.1 744.9L69.3 749.9L69.5 751.3L69.7 754L69.9 755.3L70.1 759.8L70.3 761L70.5 760.7L70.7 752.5L70.9 723.5L71.1 698L71.3 693.1L71.5 702L71.7 728.4L71.9 756.8L72.1 761.8L72.3 763.9L72.5 776.2L72.7 794.3L72.9 810.7L73.1 814.9L73.3 814.6L73.5 810L73.7 805.8L73.9 799.7L74.1 794.8L74.3 786.9L74.5 777.4L74.7 769.4L74.9 763.6L75.1 755.7L75.3 748.5L75.5 743.2L75.7 740.3L75.9 733L76.1 732.1L76.3 725.5L76.5 723.7L76.7 723.1L76.9 721.1L77.1 719.6L77.3 718.2L77.5 719.7L77.7 719.9L77.9 721.2L78.1 724.3L78.3 724.5L78.5 727.6L78.7 728.2L78.9 731.8L79.1 735.9L79.3 740.7L79.5 746.5L79.7 750.3L79.9 758.5L80.1 765.5L80.3 774.3L80.5 781.5L80.7 787.4L80.9 795.4L81.1 801.9L81.3 806.7L81.5 812.3L81.7 814.9L81.9 816.1L82.1 819.3L82.3 820.6L82.5 818.1L82.7 814.6L82.9 803.8L83.1 799.2L83.3 785.4L83.5 776.8L83.7 768.8L83.9 760.3L84.1 758.7L84.3 753.3L84.5 750.7L84.7 748.2L84.9 754.2L85.1 755.3L85.3 752.5L85.5 753.8L85.7 756.9L85.9 755L86.1 757L86.3 757.5L86.5 758L86.7 758.8L86.9 761.3L87.1 761.2L87.3 762.9L87.5 763.7L87.7 764L87.9 768.4L88.1 772.2L88.3 777L88.5 778.4L88.7 779.7L88.9 786.2L89.1 790.1L89.3 792.3L89.5 795.4L89.7 798.3L89.9 800.6L90.1 804.4L90.3 804.5L90.5 806.4L90.7 807.3L90.9 809.4L91.1 810.2L91.3 810.9L91.5 812.1L91.7 813L91.9 808.8L92.1 806.2L92.3 800L92.5 793.9L92.7 787.9L92.9 783.2L93.1 775.8L93.3 777L93.5 772.2L93.7 769.6L93.9 767.5L94.1 770.5L94.3 768.1L94.5 765.2L94.7 760.6L94.9 757.7L95.1 753L95.3 749.3L95.5 743.2L95.7 740.7L95.9 736.1L96.1 734.9L96.3 732.8L96.5 732.5L96.7 732.1L96.9 732.6L97.1 741.2L97.3 761.1L97.5 769.2L97.7 768.7L97.9 769.6L98.1 772.5L98.3 773.7L98.5 776.1L98.7 780.8L98.9 777.9L99.1 785L99.3 786.6L99.5 793.3L99.7 799.2L99.9 806.6L100.1 814.1L100.3 819.9L100.5 823.6L100.7 828L100.9 830.4L101.1 830.7L101.3 834.3L101.5 832.2L101.7 831.3L101.9 830.4L102.1 827.9L102.3 826.2L102.5 825.3L102.7 821.2L102.9 818.9L103.1 815.2L103.3 812.5L103.5 812.7L103.7 810.8L103.9 808L104.1 809.1L104.3 804.2L104.5 805.2L104.7 802.6L104.9 802.9L105.1 803.3L105.3 800.2L105.5 804.1L105.7 801.9L105.9 802.1L106.1 802L106.3 802.8L106.5 801.1L106.7 801.6L106.9 804.1L107.1 804.1L107.3 804.8L107.5 806.8L107.7 809.5L107.9 808.1L108.1 808.3L108.3 812.2L108.5 812.6L108.7 815.6L108.9 816.5L109.1 818.8L109.3 821.5L109.5 820.6L109.7 819.8L109.9 820.8L110.1 821L110.3 820L110.5 818.7L110.7 814L110.9 809L111.1 802.1L111.3 793.8L111.5 785.5L111.7 778L111.9 771.4L112.1 764L112.3 756.8L112.5 758.8L112.7 753.6L112.9 747.6L113.1 745.2L113.3 743.9L113.5 744.7L113.7 742.9L113.9 739.1L114.1 744.3L114.3 745.3L114.5 742.2L114.7 743.1L114.9 747.1L115.1 747.1L115.3 753.4L115.5 755.9L115.7 754.9L115.9 762.7L116.1 764.4L116.3 770.8L116.5 779.2L116.7 783.1L116.9 790.3L117.1 795.1L117.3 803.5L117.5 806.8L117.7 814.5L117.9 816.3L118.1 818.9L118.3 822L118.5 823.7L118.7 826.6L118.9 825L119.1 826.2L119.3 824.2L119.5 820.1L119.7 812.9L119.9 809.6L120.1 802.8L120.3 796.2L120.5 786.7L120.7 781.1L120.9 775.8L121.1 768.3L121.3 763L121.5 757.3L121.7 753.7L121.9 750.9L122.1 753.2L122.3 746.1L122.5 743.9L122.7 742L122.9 744.5L123.1 743.9L123.3 742.6L123.5 740.5L123.7 748.4L123.9 745.1L124.1 745.2L124.3 748.7L124.5 748.6L124.7 752.4L124.9 752.6L125.1 758.8L125.3 760.1L125.5 770.3L125.7 774.5L125.9 780L126.1 786.4L126.3 791L126.5 798.5L126.7 804.1L126.9 810.1L127.1 813L127.3 817L127.5 820.5L127.7 823.1L127.9 824.7L128.1 825.8L128.3 826.7L128.5 824.7L128.7 822.1L128.9 818L129.1 812.2L129.3 808.9L129.5 802.2L129.7 796.4L129.9 788.8L130.1 786.3L130.3 779.7L130.5 772.2L130.7 768.6L130.9 764.9L131.1 763.2L131.3 756.9L131.5 755.7L131.7 750.2L131.9 749.8L132.1 748.8L132.3 747.8L132.5 745.8L132.7 749.3L132.9 746.5L133.1 747.7L133.3 751.1L133.5 757L133.7 760.7L133.9 764.5L134.1 770.5L134.3 778.4L134.5 788.3L134.7 796.5L134.9 802.5L135.1 805.9L135.3 807.7L135.5 809.7L135.7 808.8L135.9 804.9L136.1 803.6L136.3 802.2L136.5 802.5L136.7 805.5L136.9 804.4L137.1 809.7L137.3 811.8L137.5 817.3L137.7 823L137.9 826.8L138.1 827.9L138.3 829.1L138.5 826.5L138.7 821.4L138.9 814.2L139.1 806.7L139.3 795.4L139.5 788.2L139.7 779.6L139.9 768.6L140.1 763.9L140.3 757.4L140.5 752L140.7 752.4L140.9 751.8L141.1 748.9L141.3 750.2L141.5 749.9L141.7 747L141.9 750.9L142.1 754.1L142.3 756.6L142.5 755.4L142.7 758.5L142.9 765.1L143.1 768.8L143.3 774.1L143.5 778L143.7 783.4L143.9 786.7L144.1 788.2L144.3 790.2L144.5 790.9L144.7 792.1L144.9 791.8L145.1 792.3L145.3 793.6L145.5 794.1L145.7 795.2L145.9 799.8L146.1 801.3L146.3 804.3L146.5 809.3L146.7 814.8L146.9 818.6L147.1 822.3L147.3 825.8L147.5 828L147.7 828.5L147.9 828.8L148.1 828.8L148.3 828.4L148.5 825L148.7 823.9L148.9 821.4L149.1 819.7L149.3 819.1L149.5 818.6L149.7 814.6L149.9 812L150.1 810.8L150.3 812L150.5 811.6L150.7 811L150.9 810.5L151.1 808.6L151.3 808.4L151.5 809.4L151.7 810.6L151.9 809.3L152.1 809.4L152.3 812.7L152.5 810.9L152.7 815.6L152.9 814.6L153.1 818.3L153.3 819.2L153.5 822.6L153.7 822.7L153.9 824.4L154.1 825.6L154.3 825.4L154.5 824.7L154.7 824.4L154.9 822.6L155.1 821.5L155.3 815.6L155.5 818.9L155.7 818.9L155.9 816.3L156.1 815L156.3 815.1L156.5 815.2L156.7 815.8L156.9 820.2L157.1 817.9L157.3 822.5L157.5 826.8L157.7 829.1L157.9 835.4L158.1 836.1L158.3 838.2L158.5 838.6L158.7 838.4L158.9 835.7L159.1 834.3L159.3 828.6L159.5 825.4L159.7 824.4L159.9 820.6L160.1 823.4L160.3 820.5L160.5 820.9L160.7 824.3L160.9 822.8L161.1 830.6L161.3 833.1L161.5 837.9L161.7 842.3L161.9 844.1L162.1 841.6L162.3 840.1L162.5 837.8L162.7 835.1L162.9 832.7L163.1 829.9L163.3 826.7L163.5 824.6L163.7 821.6L163.9 823.8L164.1 822.1L164.3 822.8L164.5 823.2L164.7 822.7L164.9 824L165.1 824.2L165.3 826.3L165.5 826.7L165.7 828.5L165.9 832.4L166.1 833.1L166.3 837.5L166.5 837.4L166.7 838.2L166.9 839.7L167.1 840.5L167.3 837.6L167.5 837.7L167.7 838.3L167.9 839.2L168.1 834.1L168.3 835.1L168.5 834.2L168.7 833.1L168.9 835.9L169.1 833.7L169.3 833.3L169.5 832.5L169.7 834L169.9 833.3L170.1 832.2L170.3 831.8L170.5 833.1L170.7 832.6L170.9 831.6L171.1 832.5L171.3 832.7L171.5 835.5L171.7 833L171.9 836.3L172.1 836.7L172.3 837.7L172.5 838.6L172.7 841.6L172.9 841.6L173.1 844.4L173.3 844.9L173.5 845.5L173.7 845.6L173.9 846.8L174.1 847.4L174.3 848.3L174.5 846L174.7 845L174.9 842.9L175.1 840.6L175.3 836.5L175.5 835.6L175.7 832.5L175.9 825.6L176.1 825L176.3 819.1L176.5 816.8L176.7 814.9L176.9 809.8L177.1 808.7L177.3 805L177.5 803.8L177.7 801.1L177.9 801.5L178.1 800.4L178.3 801.5L178.5 799.4L178.7 796.6L178.9 798.1L179.1 802L179.3 798.4L179.5 801.1L179.7 799.9L179.9 802.8L180.1 805.9L180.3 808.7L180.5 805.8L180.7 809.1L180.9 812.1L181.1 815.8L181.3 820.4L181.5 824.3L181.7 829.4L181.9 832.4L182.1 835.1L182.3 838.3L182.5 840.9L182.7 843.4L182.9 845.8L183.1 844.7L183.3 846.4L183.5 845.2L183.7 842.3L183.9 839.4L184.1 833.6L184.3 831.9L184.5 824L184.7 817.1L184.9 812.5L185.1 807.1L185.3 803.6L185.5 800.5L185.7 797.3L185.9 795.4L186.1 798.6L186.3 795.7L186.5 796.9L186.7 795L186.9 795L187.1 795.2L187.3 801.1L187.5 799.1L187.7 799.3L187.9 798.7L188.1 799.1L188.3 801.8L188.5 804L188.7 802.1L188.9 804.8L189.1 809.8L189.3 811.5L189.5 813.7L189.7 815.8L189.9 818.4L190.1 822.5L190.3 825.9L190.5 829.9L190.7 833.4L190.9 836L191.1 838.9L191.3 840L191.5 843.7L191.7 844L191.9 845.3L192.1 846.1L192.3 845.5L192.5 848L192.7 847.5L192.9 845.9L193.1 843.1L193.3 839.3L193.5 837.6L193.7 833.5L193.9 831.6L194.1 824.3L194.3 820.3L194.5 815.7L194.7 811.3L194.9 806.6L195.1 804L195.3 801.4L195.5 801.8L195.7 799.2L195.9 796.1L196.1 790.1L196.3 791.6L196.5 791.3L196.7 790.1L196.9 786.7L197.1 790.1L197.3 787.2L197.5 786.9L197.7 791.9L197.9 790.8L198.1 791.3L198.3 795.4L198.5 795.5L198.7 797.3L198.9 807.3L199.1 811.4L199.3 818.2L199.5 824.6L199.7 833.5L199.9 837.4L200.1 841.5L200.3 844.2L200.5 847.9L200.7 847.7L200.9 848.6L201.1 846.4L201.3 843.3L201.5 837.1L201.7 829.6L201.9 821.9L202.1 817.9L202.3 811.8L202.5 802.4L202.7 801.2L202.9 794L203.1 792.8L203.3 783.8L203.5 780.6L203.7 783.5L203.9 781.7L204.1 775.8L204.3 779.9L204.5 779L204.7 778.6L204.9 778.2L205.1 780.6L205.3 783.4L205.5 787.8L205.7 792.4L205.9 798.1L206.1 798.9L206.3 804.2L206.5 802.2L206.7 803.8L206.9 800.9L207.1 804.5L207.3 801.7L207.5 808.3L207.7 805.6L207.9 808L208.1 808.3L208.3 808.4L208.5 811.5L208.7 815.3L208.9 817.9L209.1 817.6L209.3 823.8L209.5 824.7L209.7 831.3L209.9 833.5L210.1 835.5L210.3 838.2L210.5 840.1L210.7 842L210.9 843.9L211.1 844.5L211.3 845.6L211.5 845L211.7 845.5L211.9 841L212.1 840.6L212.3 838.3L212.5 835.2L212.7 833L212.9 827.8L213.1 823.9L213.3 821.6L213.5 818L213.7 817L213.9 813.6L214.1 809.9L214.3 807.4L214.5 811.7L214.7 806.5L214.9 809L215.1 806L215.3 805.7L215.5 806.4L215.7 802.9L215.9 804.9L216.1 807.1L216.3 805.3L216.5 806L216.7 806.5L216.9 812.1L217.1 810.9L217.3 809.5L217.5 812.7L217.7 816.9L217.9 819.4L218.1 823.2L218.3 825L218.5 829.2L218.7 831.5L218.9 834.6L219.1 837.5L219.3 840.4L219.5 841.6L219.7 845.5L219.9 846.9L220.1 847.4L220.3 848.8L220.5 847.9L220.7 849.1L220.9 847.1L221.1 843.6L221.3 840.8L221.5 835.3L221.7 832L221.9 830.7L222.1 829.4L222.3 827.2L222.5 826.5L222.7 827.8L222.9 827.5L223.1 827.6L223.3 826.7L223.5 825.9L223.7 827.1L223.9 828.5L224.1 827.8L224.3 827.5L224.5 827.7L224.7 829.5L224.9 828.2L225.1 829L225.3 827.8L225.5 828.5L225.7 829L225.9 829.2L226.1 830.7L226.3 828.9L226.5 829.2L226.7 829.6L226.9 828.1L227.1 829L227.3 830.4L227.5 829L227.7 831.3L227.9 831.7L228.1 831L228.3 831.9L228.5 832.4L228.7 835.2L228.9 835.2L229.1 835.3L229.3 836L229.5 837.5L229.7 838.6L229.9 842.2L230.1 842.5L230.3 845.6L230.5 845.5L230.7 846.4L230.9 846.8L231.1 847.3L231.3 847.6L231.5 846.6L231.7 846.4L231.9 846.1L232.1 846.8L232.3 844.2L232.5 843.5L232.7 841.9L232.9 845.4L233.1 843.7L233.3 844.6L233.5 844.2L233.7 843.2L233.9 842.1L234.1 840.8L234.3 841.4L234.5 841.8L234.7 841.3L234.9 841.7L235.1 841.5L235.3 843.6L235.5 841.3L235.7 842.6L235.9 842.7L236.1 843.6L236.3 844.4L236.5 845.5L236.7 847L236.9 846.6L237.1 849L237.3 850.5L237.5 854.3L237.7 851.7L237.9 852.7L238.1 854.3L238.3 852.9L238.5 855L238.7 851.8L238.9 850.6L239.1 851.6L239.3 848.1L239.5 846L239.7 843.1L239.9 842.8L240.1 838.7L240.3 835.4L240.5 835.3L240.7 831.4L240.9 832.5L241.1 829.9L241.3 831.7L241.5 827L241.7 828.3L241.9 826.5L242.1 825L242.3 825.4L242.5 827.5L242.7 826.3L242.9 828.8L243.1 827.8L243.3 829.1L243.5 829L243.7 829.4L243.9 830.2L244.1 832L244.3 831L244.5 834.9L244.7 835.9L244.9 837L245.1 840.3L245.3 841.3L245.5 841.1L245.7 845L245.9 846.5L246.1 848.2L246.3 848.5L246.5 850.1L246.7 848.9L246.9 849.2L247.1 849.4L247.3 847.5L247.5 848.4L247.7 846.1L247.9 842.9L248.1 840.4L248.3 838.4L248.5 833.4L248.7 832L248.9 828.8L249.1 824.4L249.3 822.8L249.5 818.8L249.7 815.2L249.9 816.3L250.1 811.4L250.3 808.2L250.5 808.9L250.7 807.9L250.9 808.4L251.1 806.2L251.3 808.5L251.5 806.9L251.7 806.9L251.9 806.6L252.1 808.5L252.3 805.1L252.5 806.4L252.7 806.5L252.9 810L253.1 812.6L253.3 815.5L253.5 814.9L253.7 816.3L253.9 821.3L254.1 823L254.3 828.2L254.5 830.9L254.7 835.6L254.9 838.7L255.1 841.6L255.3 845.1L255.5 847.5L255.7 849L255.9 848.2L256.1 850.7L256.3 851.1L256.5 851.4L256.7 848L256.9 846.5L257.1 846.5L257.3 841.8L257.5 838.3L257.7 835.6L257.9 831.5L258.1 830.2L258.3 826.7L258.5 825.8L258.7 821.3L258.9 820.8L259.1 820.7L259.3 816L259.5 818.4L259.7 813L259.9 814.1L260.1 812.2L260.3 814.3L260.5 811.7L260.7 812.6L260.9 812L261.1 815.3L261.3 815.3L261.5 816.8L261.7 816.2L261.9 818.1L262.1 820.7L262.3 824.6L262.5 826.1L262.7 828.9L262.9 832.4L263.1 835.9L263.3 838L263.5 839.9L263.7 839.9L263.9 842.4L264.1 841.8L264.3 843.6L264.5 843.3L264.7 839.9L264.9 838.6L265.1 838.1L265.3 834.5L265.5 832L265.7 827.1L265.9 824.3L266.1 819.8L266.3 818.1L266.5 812.1L266.7 809.1L266.9 802.4L267.1 800.8L267.3 800.7L267.5 801L267.7 795.2L267.9 797.4L268.1 798.1L268.3 790.4L268.5 792.9L268.7 790.3L268.9 791.8L269.1 790.3L269.3 792.1L269.5 788.9L269.7 793.1L269.9 791.4L270.1 793.6L270.3 791.5L270.5 796.8L270.7 796.4L270.9 797L271.1 799.1L271.3 798.2L271.5 799.2L271.7 801.6L271.9 803.4L272.1 808.6L272.3 811.4L272.5 812.3L272.7 816.8L272.9 821.2L273.1 822.7L273.3 824.8L273.5 828.3L273.7 830.8L273.9 832.2L274.1 833.7L274.3 835.8L274.5 837L274.7 836.2L274.9 835.8L275.1 835L275.3 832L275.5 830.6L275.7 828.9L275.9 826.7L276.1 822L276.3 820.6L276.5 817.7L276.7 815.3L276.9 810.8L277.1 808.2L277.3 805.8L277.5 804.2L277.7 801.7L277.9 801L278.1 801.7L278.3 801L278.5 799.2L278.7 798.9L278.9 799.6L279.1 797.6L279.3 797.6L279.5 799.4L279.7 800.3L279.9 802.5L280.1 805.4L280.3 807L280.5 811.4L280.7 812.8L280.9 818.2L281.1 821.9L281.3 824.8L281.5 830.1L281.7 833.6L281.9 836.3L282.1 842.7L282.3 844L282.5 847.5L282.7 845.9L282.9 847.6L283.1 849L283.3 848.3L283.5 848.9L283.7 848.3L283.9 845.9L284.1 845.3L284.3 846.9L284.5 844.6L284.7 844.7L284.9 843L285.1 843.3L285.3 842.4L285.5 841.4L285.7 841.3L285.9 839.1L286.1 841.2L286.3 838.8L286.5 837.6L286.7 837.7L286.9 836.1L287.1 835.2L287.3 834.8L287.5 835.6L287.7 836L287.9 836.6L288.1 834.5L288.3 834.2L288.5 831.9L288.7 833.8L288.9 831.6L289.1 835.4L289.3 834L289.5 831.8L289.7 835L289.9 831L290.1 833.3L290.3 833.9L290.5 834.4L290.7 833.5L290.9 836.7L291.1 835.4L291.3 836.9L291.5 838.7L291.7 841.9L291.9 843.3L292.1 847.1L292.3 849.2L292.5 851.5L292.7 852.2L292.9 852.6L293.1 851.9L293.3 852.5L293.5 850.8L293.7 849.2L293.9 849.6L294.1 846.3L294.3 844.7L294.5 842.4L294.7 843.3L294.9 840.5L295.1 843.3L295.3 840.5L295.5 839.6L295.7 839L295.9 842.3L296.1 840.4L296.3 839.8L296.5 840.4L296.7 842L296.9 839.9L297.1 841.4L297.3 840.8L297.5 840.8L297.7 844.1L297.9 844.1L298.1 844.2L298.3 845.8L298.5 847.1L298.7 850.1L298.9 849.4L299.1 850L299.3 850.2L299.5 851L299.7 851.7L299.9 852.1L300.1 849.4L300.3 850.5L300.5 849.9L300.7 849.4L300.9 846.7L301.1 845.7L301.3 844.9L301.5 843L301.7 840.3L301.9 837.6L302.1 837.1L302.3 835.5L302.5 833.5L302.7 831.4L302.9 830L303.1 825.4L303.3 825.7L303.5 821.2L303.7 821.2L303.9 819.9L304.1 818.8L304.3 817.5L304.5 817.5L304.7 814.5L304.9 814.7L305.1 812.2L305.3 814.1L305.5 814L305.7 813.4L305.9 814.3L306.1 809.6L306.3 810.9L306.5 809.5L306.7 812.9L306.9 810.3L307.1 812.2L307.3 812.6L307.5 810L307.7 814.6L307.9 814.8L308.1 813.6L308.3 816.5L308.5 818.2L308.7 822.7L308.9 823.6L309.1 827.7L309.3 829.8L309.5 833.4L309.7 835.2L309.9 838.4L310.1 842.5L310.3 844.1L310.5 845.6L310.7 847L310.9 847.5L311.1 849.1L311.3 849L311.5 848L311.7 847.2L311.9 845.3L312.1 843.2L312.3 838.9L312.5 837.5L312.7 833L312.9 832.5L313.1 828.7L313.3 828.2L313.5 824.4L313.7 822.8L313.9 821.8L314.1 821.7L314.3 820.2L314.5 818.9L314.7 817.3L314.9 816.1L315.1 820.8L315.3 817.6L315.5 812.6L315.7 818.3L315.9 820.8L316.1 820.7L316.3 820L316.5 819.9L316.7 822.4L316.9 823.4L317.1 825.6L317.3 827.8L317.5 829.3L317.7 831.5L317.9 835.1L318.1 836.5L318.3 840.1L318.5 843.4L318.7 843.8L318.9 848L319.1 848L319.3 851.8L319.5 851.5L319.7 852.1L319.9 854.1L320.1 852.3L320.3 851.3L320.5 851.9L320.7 848.5L320.9 845.9L321.1 844.2L321.3 841.5L321.5 838.9L321.7 836.4L321.9 832.9L322.1 830.5L322.3 830.2L322.5 824.1L322.7 826.9L322.9 821.2L323.1 820.7L323.3 824.2L323.5 820.9L323.7 819.6L323.9 819.5L324.1 817.1L324.3 816.7L324.5 818.9L324.7 819.6L324.9 816.6L325.1 818.8L325.3 819.6L325.5 820.6L325.7 819.9L325.9 822.5L326.1 823L326.3 823.5L326.5 825.9L326.7 830.1L326.9 831.1L327.1 832.3L327.3 837.9L327.5 839L327.7 841L327.9 844.3L328.1 845.2L328.3 847.6L328.5 850.3L328.7 850L328.9 849.4L329.1 851.3L329.3 851.4L329.5 849.8L329.7 848.4L329.9 845.3L330.1 843.4L330.3 842L330.5 837.6L330.7 834.1L330.9 831.1L331.1 827.2L331.3 824.4L331.5 825.4L331.7 821.8L331.9 820.5L332.1 818.2L332.3 818.3L332.5 819.1L332.7 817.3L332.9 818.5L333.1 816.4L333.3 819.2L333.5 815.7L333.7 819.2L333.9 816.5L334.1 822.5L334.3 818.6L334.5 819.1L334.7 820L334.9 823.8L335.1 825.9L335.3 827.9L335.5 827.9L335.7 831.4L335.9 833.8L336.1 837.2L336.3 840.8L336.5 842.7L336.7 845.7L336.9 847.9L337.1 847.9L337.3 851.5L337.5 853L337.7 853.6L337.9 854.3L338.1 854.9L338.3 855.9L338.5 856.4L338.7 855.6L338.9 856.2L339.1 853.1L339.3 854L339.5 849.8L339.7 850.8L339.9 848.6L340.1 847.3L340.3 844.4L340.5 844.3L340.7 841.4L340.9 839.5L341.1 839.3L341.3 834.9L341.5 835.7L341.7 832.2L341.9 832.6L342.1 827.7L342.3 828.6L342.5 827.1L342.7 829.5L342.9 827.8L343.1 826.5L343.3 828.3L343.5 828.8L343.7 825.8L343.9 827.2L344.1 825.5L344.3 827.1L344.5 825.7L344.7 828.2L344.9 829.8L345.1 827.5L345.3 831.1L345.5 828.9L345.7 830.4L345.9 833L346.1 833.8L346.3 834.7L346.5 838.9L346.7 840.7L346.9 843.7L347.1 845L347.3 849.4L347.5 849.6L347.7 852.9L347.9 852.9L348.1 854.7L348.3 854.8L348.5 855.6L348.7 857.8L348.9 857.8L349.1 857.5L349.3 856L349.5 855.4L349.7 853.8L349.9 852.4L350.1 855.5L350.3 851.8L350.5 849.9L350.7 850.3L350.9 847.6L351.1 847.2L351.3 846.6L351.5 844.6L351.7 843.6L351.9 841.8L352.1 841.5L352.3 841.6L352.5 840.9L352.7 843L352.9 841.4L353.1 837.1L353.3 839.1L353.5 839.7L353.7 839L353.9 839.4L354.1 839.6L354.3 841.2L354.5 839.9L354.7 838.9L354.9 841.1L355.1 844.3L355.3 843.2L355.5 843.4L355.7 846.3L355.9 847.1L356.1 849.7L356.3 853.4L356.5 851.8L356.7 854.2L356.9 855.5L357.1 856.4L357.3 856.7L357.5 858.5L357.7 857.9L357.9 859.2L358.1 858.7L358.3 857.8L358.5 859.2L358.7 859.9L358.9 856.8L359.1 858.3L359.3 858.2L359.5 857.4L359.7 857.3L359.9 857.5L360.1 854.4L360.3 855.9L360.5 855L360.7 851.5L360.9 851.7L361.1 852.4L361.3 851.3L361.5 852.4L361.7 851.6L361.9 850.1L362.1 852.5L362.3 849.8L362.5 850.8L362.7 851L362.9 850L363.1 849.7L363.3 851.3L363.5 850.6L363.7 849.7L363.9 851L364.1 849.5L364.3 850.2L364.5 852.7L364.7 851.1L364.9 852.3L365.1 852.4L365.3 852.8L365.5 853.1L365.7 854.7L365.9 855.5L366.1 856.5L366.3 856.5L366.5 857.6L366.7 858.1L366.9 858.4L367.1 859.2L367.3 857.6L367.5 858.5L367.7 856.3L367.9 856.3L368.1 851L368.3 849.7L368.5 845.6L368.7 840.4L368.9 836.1L369.1 832.7L369.3 829.7L369.5 826.9L369.7 824.2L369.9 821.3L370.1 821.8L370.3 820.2L370.5 819.6L370.7 818.9L370.9 821.3L371.1 821.8L371.3 820.1L371.5 819.8L371.7 821.3L371.9 823.3L372.1 822.8L372.3 824.1L372.5 828.9L372.7 828.3L372.9 829.9L373.1 832.3L373.3 837.6L373.5 838.8L373.7 841.3L373.9 844L374.1 845.4L374.3 848L374.5 851.8L374.7 850.6L374.9 851.6L375.1 851.4L375.3 850.9L375.5 851.6L375.7 847.8L375.9 847.9L376.1 842.2L376.3 839L376.5 835.3L376.7 833.2L376.9 828.3L377.1 822.7L377.3 821.5L377.5 817.8L377.7 813.7L377.9 810L378.1 806.2L378.3 803.2L378.5 800.9L378.7 803.7L378.9 799.2L379.1 797.2L379.3 794L379.5 796.5L379.7 793.6L379.9 791.4L380.1 792.1L380.3 796.4L380.5 790.5L380.7 791.5L380.9 794.8L381.1 793.8L381.3 792.8L381.5 797.5L381.7 798.4L381.9 801.3L382.1 803.6L382.3 808.9L382.5 810.1L382.7 813.6L382.9 820.3L383.1 827.1L383.3 829.4L383.5 836.2L383.7 841L383.9 844.6L384.1 848.5L384.3 849.9L384.5 853.4L384.7 854.6L384.9 855.5L385.1 854.8L385.3 852.6L385.5 852.2L385.7 848.7L385.9 846.2L386.1 839.5L386.3 836.5L386.5 833.4L386.7 830.3L386.9 826.3L387.1 825L387.3 824.9L387.5 822.1L387.7 820.5L387.9 819.5L388.1 819.7L388.3 819.5L388.5 819.1L388.7 818.4L388.9 818.4L389.1 822.9L389.3 821.2L389.5 818.8L389.7 819.5L389.9 821.3L390.1 821.9L390.3 823.1L390.5 826.2L390.7 825L390.9 825.5L391.1 828L391.3 830.6L391.5 833.6L391.7 836.9L391.9 841L392.1 841L392.3 843L392.5 847.4L392.7 848.7L392.9 851.9L393.1 852.8L393.3 853.5L393.5 854.4L393.7 854.6L393.9 856.9L394.1 856.6L394.3 855.6L394.5 854.9L394.7 854.3L394.9 851.8L395.1 851.3L395.3 848.3L395.5 844.5L395.7 842.3L395.9 841L396.1 837.1L396.3 835.3L396.5 832.9L396.7 831.4L396.9 828.6L397.1 825.6L397.3 825.7L397.5 823.8L397.7 823.6L397.9 822L398.1 821.3L398.3 819.9L398.5 820.8L398.7 823.1L398.9 820.4L399.1 822.4L399.3 819L399.5 823.3L399.7 818.3L399.9 822.7L400.1 821L400.3 822.5L400.5 822.8L400.7 826.4L400.9 823.2L401.1 827.7L401.3 831.6L401.5 833.6L401.7 835.5L401.9 838.8L402.1 841.8L402.3 845.4L402.5 848L402.7 850.6L402.9 852.1L403.1 850.5L403.3 854.5L403.5 853.6L403.7 856.7L403.9 856.8L404.1 855.1L404.3 854.7L404.5 851.5L404.7 847.5L404.9 844.3L405.1 840.4L405.3 837.7L405.5 833.7L405.7 830.9L405.9 829.2L406.1 827L406.3 826.1L406.5 821.2L406.7 823.3L406.9 822.5L407.1 823.9L407.3 819.5L407.5 824.8L407.7 821.9L407.9 823.5L408.1 823.3L408.3 821.6L408.5 826.3L408.7 827.1L408.9 826.4L409.1 828.9L409.3 829.5L409.5 830.2L409.7 831.5L409.9 833.9L410.1 834.8L410.3 837.1L410.5 837.3L410.7 840.4L410.9 844.5L411.1 845.6L411.3 849.2L411.5 850.2L411.7 851.8L411.9 851.2L412.1 855.3L412.3 854.8L412.5 857L412.7 858L412.9 857.8L413.1 857.9L413.3 858.6L413.5 858.4L413.7 858.2L413.9 855.8L414.1 854.3L414.3 854.6L414.5 850.9L414.7 850.4L414.9 848.3L415.1 845.4L415.3 843.2L415.5 842.4L415.7 842.7L415.9 842.5L416.1 840L416.3 840.6L416.5 838.5L416.7 840.6L416.9 836.9L417.1 840.6L417.3 838.6L417.5 839.3L417.7 840.2L417.9 838.8L418.1 840.2L418.3 838.2L418.5 840.5L418.7 840.3L418.9 842.5L419.1 842.8L419.3 842.1L419.5 845.1L419.7 847.2L419.9 846.7L420.1 849.7L420.3 851.3L420.5 851.9L420.7 853.4L420.9 854.7L421.1 856.2L421.3 858.1L421.5 857.5L421.7 857.4L421.9 858.9L422.1 860.4L422.3 858.4L422.5 856.9L422.7 858.7L422.9 856.1L423.1 856L423.3 856.7L423.5 855L423.7 854.5L423.9 854.6L424.1 852.4L424.3 852.6L424.5 853.2L424.7 851.4L424.9 851.8L425.1 852.9L425.3 853.1L425.5 849.4L425.7 851.9L425.9 852.8L426.1 852.9L426.3 852.7L426.5 850.9L426.7 851.4L426.9 851.8L427.1 852.6L427.3 850.3L427.5 853.5L427.7 854.4L427.9 852.3L428.1 854.1L428.3 851.9L428.5 854.5L428.7 854L428.9 853.6L429.1 856.6L429.3 856.7L429.5 856.9L429.7 856.7L429.9 858.2L430.1 858.2L430.3 858L430.5 858.3L430.7 860.1L430.9 857.1L431.1 857.4L431.3 853.3L431.5 850.1L431.7 846.2L431.9 842.7L432.1 838.8L432.3 837.4L432.5 832.9L432.7 826.9L432.9 825.5L433.1 820.6L433.3 817.5L433.5 819.5L433.7 819.3L433.9 817.6L434.1 822.1L434.3 818.1L434.5 820.7L434.7 820.8L434.9 822.1L435.1 823.6L435.3 821.8L435.5 822.5L435.7 825.3L435.9 829.4L436.1 827.3L436.3 828.8L436.5 832.4L436.7 834.2L436.9 837.1L437.1 839L437.3 842.9L437.5 846.9L437.7 848.9L437.9 853.1L438.1 853.8L438.3 855.8L438.5 857.1L438.7 860.1L438.9 860.6L439.1 860.7L439.3 860L439.5 859.9L439.7 857.1L439.9 857.6L440.1 853.9L440.3 852.7L440.5 848.3L440.7 844.1L440.9 842.2L441.1 839.2L441.3 835.5L441.5 835.1L441.7 830.1L441.9 832.2L442.1 829.9L442.3 829.3L442.5 828.6L442.7 828.6L442.9 827.5L443.1 828L443.3 829.3L443.5 828.6L443.7 827.5L443.9 826.5L444.1 830.4L444.3 829.1L444.5 828.3L444.7 828.1L444.9 831.4L445.1 829.5L445.3 834.7L445.5 832.8L445.7 835.8L445.9 834.1L446.1 836.6L446.3 840.1L446.5 841.1L446.7 842.5L446.9 844.8L447.1 847.8L447.3 847.7L447.5 850L447.7 851L447.9 851.5L448.1 852.4L448.3 856.9L448.5 856.8L448.7 856.9L448.9 859L449.1 856.7L449.3 858.8L449.5 860.7L449.7 859.4L449.9 859.6L450.1 856.1L450.3 856.2L450.5 853.3L450.7 849.4L450.9 847.3L451.1 843.7L451.3 839.7L451.5 840L451.7 838.6L451.9 835.7L452.1 835.6L452.3 835.8L452.5 837.8L452.7 833.4L452.9 833.4L453.1 833.5L453.3 833.7L453.5 834.7L453.7 834.6L453.9 836.7L454.1 837.2L454.3 837.9L454.5 836.6L454.7 837.2L454.9 841.6L455.1 839.6L455.3 842L455.5 844.6L455.7 848.3L455.9 848.1L456.1 849.5L456.3 853.5L456.5 855.2L456.7 857.5L456.9 859.6L457.1 860L457.3 861L457.5 861.5L457.7 862.8L457.9 863.4L458.1 865.1L458.3 863.4L458.5 865.4L458.7 862.7L458.9 863.1L459.1 860.1L459.3 859.7L459.5 857.3L459.7 856.5L459.9 852.9L460.1 850.4L460.3 850L460.5 846.9L460.7 846.1L460.9 844.7L461.1 844.8L461.3 843.1L461.5 842.8L461.7 842.2L461.9 839.3L462.1 840.3L462.3 841.6L462.5 839.7L462.7 840.7L462.9 838.7L463.1 838.7L463.3 840L463.5 838.7L463.7 839.4L463.9 840.2L464.1 841.7L464.3 840.7L464.5 842.1L464.7 845L464.9 845.9L465.1 845.2L465.3 849.2L465.5 850.2L465.7 850.6L465.9 852L466.1 851.8L466.3 854L466.5 857.6L466.7 856.1L466.9 854.8L467.1 859.9L467.3 857.3L467.5 859.8L467.7 861L467.9 860.2L468.1 859.2L468.3 856.1L468.5 853.8L468.7 850.5L468.9 850L469.1 843.4L469.3 841.3L469.5 837.7L469.7 834.5L469.9 828.7L470.1 828.4L470.3 825.8L470.5 823.2L470.7 822L470.9 817.2L471.1 815.5L471.3 821.7L471.5 816.6L471.7 816.1L471.9 817.9L472.1 820.6L472.3 817L472.5 816.7L472.7 814.8L472.9 819L473.1 821.9L473.3 819.6L473.5 821.7L473.7 825L473.9 829.1L474.1 831.1L474.3 835.3L474.5 835.2L474.7 841.1L474.9 842.7L475.1 845.6L475.3 852.1L475.5 853.1L475.7 853.2L475.9 857.7L476.1 854.6L476.3 856.7L476.5 857.7L476.7 854.3L476.9 855.8L477.1 851.5L477.3 849.8L477.5 848.9L477.7 843.9L477.9 840.7L478.1 837.3L478.3 835.4L478.5 831L478.7 829.6L478.9 829.6L479.1 824.8L479.3 824.8L479.5 824.9L479.7 823.8L479.9 826L480.1 826.1L480.3 825.3L480.5 826.4L480.7 826.5L480.9 825.1L481.1 822.1L481.3 826.4L481.5 825.3L481.7 829.5L481.9 829.8L482.1 831.2L482.3 830.6L482.5 833.5L482.7 836.7L482.9 836.4L483.1 841.4L483.3 840.2L483.5 845.2L483.7 847L483.9 850.1L484.1 852.7L484.3 853.6L484.5 855L484.7 856.7L484.9 858.4L485.1 857.1L485.3 858.6L485.5 860.5L485.7 859.6L485.9 859.3L486.1 859L486.3 858.2L486.5 859.8L486.7 858.4L486.9 856.8L487.1 857.5L487.3 855.5L487.5 857.1L487.7 856.7L487.9 857.5L488.1 854.4L488.3 854.7L488.5 854.3L488.7 853L488.9 854.3L489.1 853.1L489.3 851.6L489.5 850.3L489.7 850.4L489.9 851.7L490.1 848.9L490.3 851.8L490.5 848.4L490.7 849.8L490.9 851.1L491.1 849.1L491.3 850L491.5 850.8L491.7 849.8L491.9 850.3L492.1 852.3L492.3 850.9L492.5 849.9L492.7 848.5L492.9 852.6L493.1 852.8L493.3 851.7L493.5 852L493.7 852.8L493.9 855.2L494.1 855.7L494.3 856.1L494.5 855.8L494.7 853.9L494.9 855.5L495.1 854.3L495.3 854.5L495.5 852.6L495.7 850.7L495.9 847.3L496.1 846.8L496.3 844.3L496.5 840.7L496.7 835.8L496.9 834.2L497.1 832.9L497.3 830.7L497.5 829.7L497.7 828.9L497.9 828.3L498.1 825.8L498.3 828.1L498.5 825.4L498.7 827L498.9 828.2L499.1 827.3L499.3 829.9L499.5 829L499.7 830.4L499.9 829L500.1 826.8L500.3 831.8L500.5 830.6L500.7 832.3L500.9 836.9L501.1 836.4L501.3 837.6L501.5 838.3L501.7 841.8L501.9 843.2L502.1 845L502.3 849.3L502.5 850.2L502.7 850.8L502.9 854.6L503.1 853.9L503.3 856.2L503.5 856.6L503.7 857.2L503.9 857.8L504.1 858.4L504.3 859.1L504.5 857.8L504.7 855L504.9 853.9L505.1 851.1L505.3 847.2L505.5 842.9L505.7 837.7L505.9 835.8L506.1 828.7L506.3 830.3L506.5 826.3L506.7 824.2L506.9 823.3L507.1 823.2L507.3 820L507.5 823.4L507.7 816.3L507.9 820L508.1 818.9L508.3 818.6L508.5 818.7L508.7 820.5L508.9 820.5L509.1 825.4L509.3 825.1L509.5 825.2L509.7 822.6L509.9 825.2L510.1 828L510.3 830.9L510.5 832.6L510.7 835.5L510.9 837.2L511.1 839.7L511.3 842.9L511.5 846.9L511.7 850.5L511.9 851.2L512.1 853.2L512.3 854.9L512.5 857.9L512.7 859.1L512.9 858.3L513.1 860.8L513.3 863.2L513.5 861.7L513.7 862.2L513.9 858.7L514.1 854.6L514.3 850.8L514.5 847.1L514.7 841.3L514.9 835.2L515.1 834.8L515.3 831.7L515.5 832.8L515.7 828.9L515.9 830.3L516.1 828L516.3 831.6L516.5 831.2L516.7 829L516.9 831.6L517.1 830.8L517.3 830.6L517.5 833.8L517.7 831.3L517.9 835L518.1 836.6L518.3 838.1L518.5 838.8L518.7 841.2L518.9 843.4L519.1 845.8L519.3 845.6L519.5 850.3L519.7 847.9L519.9 852.4L520.1 854.5L520.3 854.4L520.5 856.6L520.7 858.3L520.9 858.6L521.1 858.9L521.3 859.7L521.5 858.6L521.7 858.2L521.9 858.4L522.1 856.3L522.3 854.8L522.5 854.3L522.7 851.7L522.9 848.7L523.1 847.5L523.3 844.6L523.5 841.3L523.7 841.7L523.9 836.9L524.1 837.5L524.3 833.5L524.5 834.3L524.7 832L524.9 832.8L525.1 831L525.3 831.2L525.5 831.1L525.7 830.2L525.9 829.6L526.1 830.4L526.3 831.7L526.5 830.5L526.7 832.6L526.9 833.3L527.1 832.9L527.3 834L527.5 834.2L527.7 834.2L527.9 835.4L528.1 838.9L528.3 838.4L528.5 839L528.7 840L528.9 843.4L529.1 843.4L529.3 846.9L529.5 847.1L529.7 849.1L529.9 849L530.1 851.2L530.3 852L530.5 851L530.7 852.1L530.9 852.3L531.1 850L531.3 849.6L531.5 845.9L531.7 841.9L531.9 839.8L532.1 834L532.3 830L532.5 824.1L532.7 818.9L532.9 814.8L533.1 809.1L533.3 805.7L533.5 805.3L533.7 800.6L533.9 801.2L534.1 797.5L534.3 795.8L534.5 795.6L534.7 793.3L534.9 798.2L535.1 793.2L535.3 792.4L535.5 794.5L535.7 795.5L535.9 797L536.1 796.7L536.3 795.6L536.5 796.2L536.7 797.1L536.9 798.3L537.1 803.5L537.3 804.4L537.5 808.8L537.7 810.1L537.9 814.5L538.1 816.3L538.3 820.3L538.5 825.6L538.7 826.9L538.9 833.3L539.1 832.7L539.3 836.7L539.5 837.9L539.7 839.2L539.9 839.9L540.1 839L540.3 839.4L540.5 838L540.7 838L540.9 838.2L541.1 835.4L541.3 834.6L541.5 833.7L541.7 831.6L541.9 828.6L542.1 828.4L542.3 825.8L542.5 825.8L542.7 822.3L542.9 823.3L543.1 821L543.3 820.5L543.5 821.2L543.7 823.1L543.9 819L544.1 820.1L544.3 822.1L544.5 822.3L544.7 818.7L544.9 821.9L545.1 818.6L545.3 822.3L545.5 822.1L545.7 818.9L545.9 823.8L546.1 822L546.3 824.5L546.5 822.7L546.7 824.8L546.9 824.5L547.1 828.2L547.3 831.3L547.5 831.7L547.7 833.8L547.9 835.6L548.1 836.6L548.3 838.9L548.5 842.3L548.7 843.1L548.9 844.9L549.1 843.5L549.3 845.7L549.5 848L549.7 848.6L549.9 848.6L550.1 850.7L550.3 849.6L550.5 851.5L550.7 851L550.9 850L551.1 850.1L551.3 848.2L551.5 846.2L551.7 845.1L551.9 844L552.1 843.9L552.3 844L552.5 841.2L552.7 841L552.9 838.7L553.1 836.6L553.3 836.6L553.5 835.7L553.7 835.2L553.9 833.4L554.1 834.4L554.3 833.1L554.5 830.1L554.7 831.6L554.9 834.1L555.1 832.3L555.3 833.1L555.5 832.9L555.7 834.1L555.9 833.2L556.1 833.1L556.3 833.5L556.5 833.3L556.7 834.8L556.9 837.4L557.1 839.3L557.3 840.8L557.5 841.5L557.7 846.3L557.9 845.9L558.1 845.8L558.3 846.7L558.5 849.5L558.7 849.3L558.9 849.5L559.1 850.5L559.3 851.6L559.5 849.1L559.7 848.2L559.9 844.9L560.1 839.9L560.3 838.3L560.5 833.9L560.7 829.4L560.9 824.5L561.1 820.5L561.3 818L561.5 815.4L561.7 812.2L561.9 810.5L562.1 808.5L562.3 805.2L562.5 806.7L562.7 802L562.9 801.9L563.1 803.4L563.3 799L563.5 798.6L563.7 804.8L563.9 800.1L564.1 803.5L564.3 801.6L564.5 802.1L564.7 804.1L564.9 806.6L565.1 806.7L565.3 809.7L565.5 814.4L565.7 817.8L565.9 820.2L566.1 824.3L566.3 827L566.5 831.5L566.7 834.1L566.9 835.5L567.1 840.7L567.3 841.2L567.5 841.7L567.7 843.1L567.9 843.9L568.1 842.3L568.3 839.7L568.5 836.3L568.7 834L568.9 828L569.1 824.6L569.3 816.7L569.5 813.7L569.7 809.7L569.9 804.1L570.1 801.9L570.3 797.1L570.5 793.5L570.7 793.4L570.9 791.4L571.1 788.6L571.3 791.5L571.5 787.3L571.7 791.2L571.9 790.2L572.1 788.8L572.3 792.4L572.5 790.4L572.7 789.4L572.9 791.4L573.1 796.6L573.3 794.2L573.5 794.6L573.7 798.8L573.9 801.6L574.1 804.8L574.3 807.2L574.5 810.3L574.7 815.6L574.9 818.1L575.1 821.5L575.3 827L575.5 828.7L575.7 831.6L575.9 832.5L576.1 836.3L576.3 839.2L576.5 842.1L576.7 843L576.9 843.9L577.1 842L577.3 843.2L577.5 842L577.7 839.7L577.9 836.6L578.1 834.2L578.3 829.9L578.5 824.9L578.7 820.4L578.9 817.2L579.1 813.1L579.3 808.6L579.5 803.9L579.7 800.8L579.9 797.1L580.1 795.8L580.3 791.5L580.5 792.9L580.7 787.4L580.9 789.2L581.1 789.6L581.3 790L581.5 788.4L581.7 786.6L581.9 788.3L582.1 787.8L582.3 787.6L582.5 789.5L582.7 791.9L582.9 794.2L583.1 795.8L583.3 797L583.5 801L583.7 802.9L583.9 809.3L584.1 812L584.3 814.8L584.5 817.8L584.7 821.3L584.9 823.5L585.1 824.6L585.3 825.3L585.5 825.2L585.7 823.5L585.9 821.8L586.1 819.7L586.3 816.4L586.5 811.6L586.7 806.4L586.9 803.7L587.1 798.1L587.3 790.5L587.5 784.8L587.7 783L587.9 776.8L588.1 771.6L588.3 765L588.5 763.8L588.7 762.7L588.9 754.9L589.1 755.6L589.3 753.3L589.5 755.7L589.7 750.1L589.9 747.9L590.1 748.2L590.3 748.4L590.5 744.7L590.7 749.1L590.9 747.6L591.1 749.4L591.3 748.2L591.5 744.3L591.7 748.1L591.9 749.7L592.1 750.4L592.3 753.6L592.5 755.7L592.7 760L592.9 764L593.1 767.7L593.3 770.9L593.5 776.8L593.7 782.5L593.9 784.8L594.1 790.6L594.3 793.8L594.5 798.4L594.7 803L594.9 805.8L595.1 806.8L595.3 810.5L595.5 810.9L595.7 813.7L595.9 813.5L596.1 813.9L596.3 811L596.5 803.9L596.7 801.7L596.9 795L597.1 789.7L597.3 780L597.5 777L597.7 770.3L597.9 763.5L598.1 762L598.3 757.3L598.5 755.9L598.7 750.8L598.9 753.4L599.1 747.5L599.3 752.5L599.5 752.5L599.7 754.1L599.9 749.3L600.1 753.1L600.3 754.7L600.5 755.1L600.7 754.1L600.9 754.6L601.1 759.2L601.3 761.8L601.5 765.4L601.7 768.3L601.9 771L602.1 772.7L602.3 779.7L602.5 786.5L602.7 787.7L602.9 793.3L603.1 798.7L603.3 801.8L603.5 804.9L603.7 810.3L603.9 812.6L604.1 813.8L604.3 815.1L604.5 817.8L604.7 819.7L604.9 819.9L605.1 817.9L605.3 818.2L605.5 814.5L605.7 811.5L605.9 810.9L606.1 806.9L606.3 802.9L606.5 798.8L606.7 797.7L606.9 793.8L607.1 791.4L607.3 789.5L607.5 786L607.7 784.3L607.9 782.3L608.1 783.9L608.3 780.5L608.5 781.7L608.7 783.2L608.9 779.9L609.1 782.9L609.3 781.1L609.5 780.4L609.7 780L609.9 784.3L610.1 782.1L610.3 779.9L610.5 782.1L610.7 783.1L610.9 785L611.1 786L611.3 786.7L611.5 785.5L611.7 788.9L611.9 790L612.1 792L612.3 793.3L612.5 797.3L612.7 798.7L612.9 804L613.1 804.1L613.3 805L613.5 808.2L613.7 810.4L613.9 811.6L614.1 812.1L614.3 813.5L614.5 815.5L614.7 817.1L614.9 817.4L615.1 817.3L615.3 819.7L615.5 816L615.7 817.6L615.9 814.8L616.1 813.5L616.3 811.3L616.5 806.9L616.7 807.7L616.9 806.3L617.1 802.7L617.3 800.3L617.5 802.3L617.7 799.7L617.9 797.4L618.1 797.2L618.3 796.4L618.5 797.2L618.7 798.1L618.9 797.4L619.1 797.5L619.3 795.8L619.5 796.6L619.7 800L619.9 797.8L620.1 800.7L620.3 802.2L620.5 802.5L620.7 803.2L620.9 805.4L621.1 804.8L621.3 808.1L621.5 808.5L621.7 807.8L621.9 810.5L622.1 813L622.3 811.7L622.5 813.3L622.7 814.5L622.9 812.7L623.1 811.1L623.3 808.8L623.5 805.4L623.7 801.3L623.9 798.5L624.1 791.9L624.3 788L624.5 783.6L624.7 777.9L624.9 775.3L625.1 769.9L625.3 766L625.5 763.5L625.7 757.8L625.9 757.6L626.1 754.9L626.3 751.6L626.5 751.7L626.7 753.1L626.9 749.6L627.1 748.3L627.3 747L627.5 748.6L627.7 744.6L627.9 747.5L628.1 748.2L628.3 746L628.5 751L628.7 755.2L628.9 753.5L629.1 751.4L629.3 755.4L629.5 758.5L629.7 761.7L629.9 767.9L630.1 770.7L630.3 776.9L630.5 780L630.7 784.4L630.9 789.6L631.1 793.5L631.3 798.4L631.5 805.3L631.7 808.1L631.9 812.4L632.1 813.9L632.3 814.9L632.5 816.3L632.7 816.2L632.9 820.2L633.1 818.3L633.3 816L633.5 810.4L633.7 806.6L633.9 800.1L634.1 792.8L634.3 788.4L634.5 778.1L634.7 770.3L634.9 767.4L635.1 761.2L635.3 756.3L635.5 754.3L635.7 748.7L635.9 747.8L636.1 748.8L636.3 747.6L636.5 745.4L636.7 745.6L636.9 746.9L637.1 745L637.3 744.1L637.5 747.8L637.7 750.6L637.9 754.7L638.1 753L638.3 757.2L638.5 761.4L638.7 766.6L638.9 772.8L639.1 778.6L639.3 781.8L639.5 789.5L639.7 794.2L639.9 800.3L640.1 803.7L640.3 811.7L640.5 812.5L640.7 816.3L640.9 818L641.1 818.8L641.3 819.7L641.5 819.4L641.7 817.3L641.9 814.8L642.1 808.6L642.3 805.2L642.5 802.1L642.7 796.8L642.9 791.2L643.1 784.6L643.3 778.7L643.5 772.7L643.7 767.1L643.9 763.2L644.1 760.2L644.3 753.5L644.5 749.8L644.7 747.9L644.9 744.8L645.1 742.6L645.3 742.4L645.5 738.3L645.7 742L645.9 740.4L646.1 742.1L646.3 742.1L646.5 739L646.7 739.8L646.9 742.6L647.1 744.3L647.3 741.8L647.5 739.1L647.7 749.4L647.9 750.4L648.1 752.8L648.3 759L648.5 766.2L648.7 770.8L648.9 779.3L649.1 787L649.3 791.3L649.5 797.5L649.7 803.3L649.9 810.9L650.1 816.7L650.3 818.9L650.5 822.4L650.7 824.9L650.9 825.7" stroke="#ff0000" stroke-width="1.15" fill="none" stroke-linejoin="round"/>
</g>
<path d="M45.7 886.5v-3.3M45.7 622.5v3.3M54.8 886.5v-3.3M54.8 622.5v3.3M64 886.5v-3.3M64 622.5v3.3M73.2 886.5v-3.3M73.2 622.5v3.3M82.4 886.5v-3.3M82.4 622.5v3.3M91.5 886.5v-3.3M91.5 622.5v3.3M100.7 886.5v-6.3M100.7 622.5v6.3M109.9 886.5v-3.3M109.9 622.5v3.3M119 886.5v-3.3M119 622.5v3.3M128.2 886.5v-3.3M128.2 622.5v3.3M137.4 886.5v-3.3M137.4 622.5v3.3M146.6 886.5v-3.3M146.6 622.5v3.3M155.7 886.5v-3.3M155.7 622.5v3.3M164.9 886.5v-6.3M164.9 622.5v6.3M174.1 886.5v-3.3M174.1 622.5v3.3M183.2 886.5v-3.3M183.2 622.5v3.3M192.4 886.5v-3.3M192.4 622.5v3.3M201.6 886.5v-3.3M201.6 622.5v3.3M210.8 886.5v-3.3M210.8 622.5v3.3M219.9 886.5v-3.3M219.9 622.5v3.3M229.1 886.5v-6.3M229.1 622.5v6.3M238.3 886.5v-3.3M238.3 622.5v3.3M247.4 886.5v-3.3M247.4 622.5v3.3M256.6 886.5v-3.3M256.6 622.5v3.3M265.8 886.5v-3.3M265.8 622.5v3.3M275 886.5v-3.3M275 622.5v3.3M284.1 886.5v-3.3M284.1 622.5v3.3M293.3 886.5v-6.3M293.3 622.5v6.3M302.5 886.5v-3.3M302.5 622.5v3.3M311.6 886.5v-3.3M311.6 622.5v3.3M320.8 886.5v-3.3M320.8 622.5v3.3M330 886.5v-3.3M330 622.5v3.3M339.2 886.5v-3.3M339.2 622.5v3.3M348.3 886.5v-3.3M348.3 622.5v3.3M357.5 886.5v-6.3M357.5 622.5v6.3M366.7 886.5v-3.3M366.7 622.5v3.3M375.9 886.5v-3.3M375.9 622.5v3.3M385 886.5v-3.3M385 622.5v3.3M394.2 886.5v-3.3M394.2 622.5v3.3M403.4 886.5v-3.3M403.4 622.5v3.3M412.5 886.5v-3.3M412.5 622.5v3.3M421.7 886.5v-6.3M421.7 622.5v6.3M430.9 886.5v-3.3M430.9 622.5v3.3M440.1 886.5v-3.3M440.1 622.5v3.3M449.2 886.5v-3.3M449.2 622.5v3.3M458.4 886.5v-3.3M458.4 622.5v3.3M467.6 886.5v-3.3M467.6 622.5v3.3M476.7 886.5v-3.3M476.7 622.5v3.3M485.9 886.5v-6.3M485.9 622.5v6.3M495.1 886.5v-3.3M495.1 622.5v3.3M504.3 886.5v-3.3M504.3 622.5v3.3M513.4 886.5v-3.3M513.4 622.5v3.3M522.6 886.5v-3.3M522.6 622.5v3.3M531.8 886.5v-3.3M531.8 622.5v3.3M540.9 886.5v-3.3M540.9 622.5v3.3M550.1 886.5v-6.3M550.1 622.5v6.3M559.3 886.5v-3.3M559.3 622.5v3.3M568.5 886.5v-3.3M568.5 622.5v3.3M577.6 886.5v-3.3M577.6 622.5v3.3M586.8 886.5v-3.3M586.8 622.5v3.3M596 886.5v-3.3M596 622.5v3.3M605.1 886.5v-3.3M605.1 622.5v3.3M614.3 886.5v-6.3M614.3 622.5v6.3M623.5 886.5v-3.3M623.5 622.5v3.3M632.7 886.5v-3.3M632.7 622.5v3.3M641.8 886.5v-3.3M641.8 622.5v3.3M36.5 886.5h6M651 886.5h-6M36.5 848.8h6M651 848.8h-6M36.5 811.1h6M651 811.1h-6M36.5 773.4h6M651 773.4h-6M36.5 735.6h6M651 735.6h-6M36.5 697.9h6M651 697.9h-6M36.5 660.2h6M651 660.2h-6M36.5 622.5h6M651 622.5h-6" stroke="#5a5a5a" stroke-width="0.9" fill="none"/>
<path d="M36.5 622.5H651V886.5H36.5Z" stroke="#5a5a5a" stroke-width="1" fill="none"/>
<rect x="547.3" y="632.2" width="92.8" height="29.7" fill="#fff" stroke="#404040" stroke-width="0.8"/>
<path d="M553.4 640.4H594.2" stroke="#000" stroke-width="1"/>
<path d="M553.4 653.5H594.2" stroke="#ff0000" stroke-width="1"/>
<text x="599" y="643.9" font-size="9.4" fill="#000">GP08 Z</text>
<text x="599" y="657" font-size="9.4" fill="#000">GP10 Z</text>
<text x="35.1" y="899.9" font-size="10.6" text-anchor="middle" fill="#262626">Jul/05/15</text>
<text x="99.3" y="899.9" font-size="10.6" text-anchor="middle" fill="#262626">Jul/12</text>
<text x="163.5" y="899.9" font-size="10.6" text-anchor="middle" fill="#262626">Jul/19</text>
<text x="227.7" y="899.9" font-size="10.6" text-anchor="middle" fill="#262626">Jul/26</text>
<text x="291.9" y="899.9" font-size="10.6" text-anchor="middle" fill="#262626">Aug/02</text>
<text x="356.1" y="899.9" font-size="10.6" text-anchor="middle" fill="#262626">Aug/09</text>
<text x="420.3" y="899.9" font-size="10.6" text-anchor="middle" fill="#262626">Aug/16</text>
<text x="484.5" y="899.9" font-size="10.6" text-anchor="middle" fill="#262626">Aug/23</text>
<text x="548.7" y="899.9" font-size="10.6" text-anchor="middle" fill="#262626">Aug/30</text>
<text x="612.9" y="899.9" font-size="10.6" text-anchor="middle" fill="#262626">Sep/06</text>
<text transform="translate(31.8 887.8) rotate(-90)" font-size="10.6" text-anchor="middle" fill="#262626">-2</text>
<text transform="translate(31.8 850.1) rotate(-90)" font-size="10.6" text-anchor="middle" fill="#262626">0</text>
<text transform="translate(31.8 812.4) rotate(-90)" font-size="10.6" text-anchor="middle" fill="#262626">2</text>
<text transform="translate(31.8 774.7) rotate(-90)" font-size="10.6" text-anchor="middle" fill="#262626">4</text>
<text transform="translate(31.8 736.9) rotate(-90)" font-size="10.6" text-anchor="middle" fill="#262626">6</text>
<text transform="translate(31.8 699.2) rotate(-90)" font-size="10.6" text-anchor="middle" fill="#262626">8</text>
<text transform="translate(31.8 661.5) rotate(-90)" font-size="10.6" text-anchor="middle" fill="#262626">10</text>
<text transform="translate(31.8 623.8) rotate(-90)" font-size="10.6" text-anchor="middle" fill="#262626">12</text>
<text transform="translate(16.7 767.9) rotate(-90)" font-size="11.6" text-anchor="middle" fill="#000">Energy density [counts**2/Hz][dB]</text>
<text x="0.5" y="626.5" font-size="14" font-weight="bold" fill="#000">(c)</text>
</svg></body></html>
